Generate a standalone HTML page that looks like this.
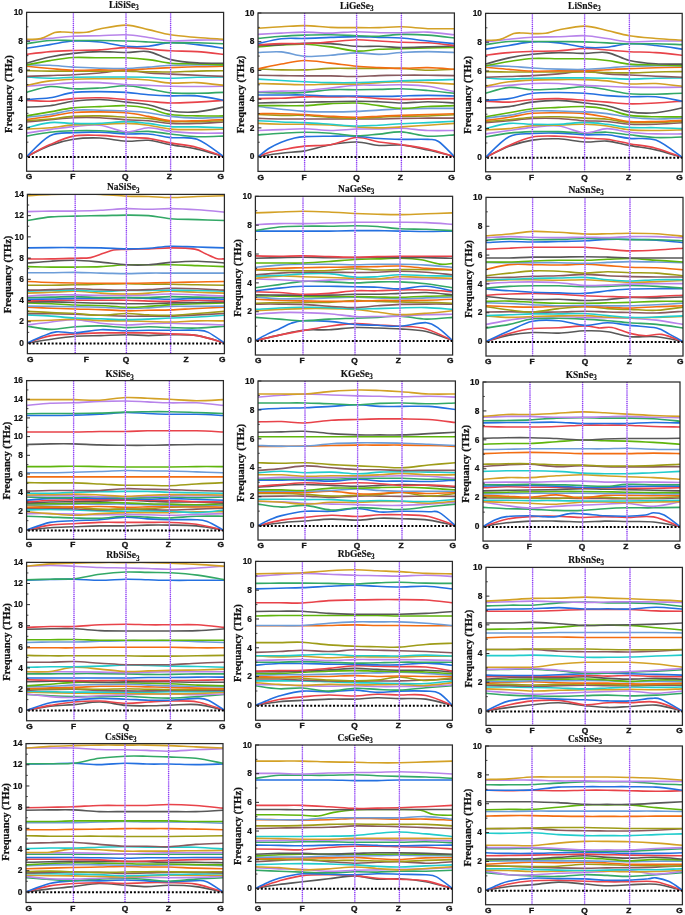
<!DOCTYPE html>
<html><head><meta charset="utf-8"><style>
html,body{margin:0;padding:0;background:#fff;}
svg{display:block;filter:blur(0.3px);}
.tk{font-family:"Liberation Sans",sans-serif;font-weight:bold;font-size:8.4px;fill:#111;stroke:#111;stroke-width:0.2px;}
.kl{font-family:"Liberation Sans",sans-serif;font-weight:bold;font-size:7.6px;fill:#111;stroke:#111;stroke-width:0.35px;}
.tt{font-family:"Liberation Serif",serif;font-weight:bold;font-size:9.5px;fill:#111;stroke:#111;stroke-width:0.15px;}
.yl{font-family:"Liberation Serif",serif;font-weight:bold;font-size:10.5px;fill:#111;stroke:#111;stroke-width:0.25px;}
</style></head><body>
<svg width="685" height="915" viewBox="0 0 685 915">
<rect width="685" height="915" fill="#fff"/>
<clipPath id="c1"><rect x="26.6" y="12.4" width="197.0" height="158.84"/></clipPath>
<g clip-path="url(#c1)" fill="none" stroke-width="1.6" stroke-linejoin="round" stroke-linecap="round">
<path d="M26.6 156.6C30.5 154.7 42.2 148.4 50.0 145.5C57.8 142.6 65.1 140.5 73.4 139.3C81.7 138.0 90.9 137.7 99.7 138.0C108.5 138.3 117.9 140.8 126.0 141.2C134.1 141.6 140.9 139.7 148.3 140.3C155.7 140.9 162.5 143.2 170.6 144.6C178.7 146.1 188.3 147.1 197.1 149.1C205.9 151.1 219.2 155.4 223.6 156.6" stroke="#585858"/>
<path d="M26.6 156.6C30.5 154.6 42.2 148.0 50.0 144.6C57.8 141.2 65.1 137.7 73.4 136.1C81.7 134.6 90.9 135.2 99.7 135.4C108.5 135.6 117.9 136.8 126.0 137.3C134.1 137.8 140.9 137.5 148.3 138.4C155.7 139.4 162.5 141.4 170.6 142.9C178.7 144.4 188.3 145.1 197.1 147.4C205.9 149.7 219.2 155.1 223.6 156.6" stroke="#e8434a"/>
<path d="M26.6 156.6C30.5 153.1 42.2 139.8 50.0 135.8C57.8 131.8 65.1 133.3 73.4 132.7C81.7 132.1 90.9 132.0 99.7 132.2C108.5 132.4 117.9 133.7 126.0 134.0C134.1 134.2 140.9 133.4 148.3 134.0C155.7 134.6 162.5 136.7 170.6 137.6C178.7 138.5 188.3 136.1 197.1 139.3C205.9 142.5 219.2 153.7 223.6 156.6" stroke="#2470e0"/>
<path d="M26.6 136.1C30.5 135.5 42.2 133.1 50.0 132.2C57.8 131.3 65.1 131.0 73.4 130.8C81.7 130.5 90.9 130.5 99.7 130.8C108.5 131.0 117.9 132.1 126.0 132.2C134.1 132.3 140.9 131.1 148.3 131.4C155.7 131.7 162.5 133.1 170.6 134.0C178.7 134.8 188.3 136.3 197.1 136.7C205.9 137.1 219.2 136.2 223.6 136.1" stroke="#33a866"/>
<path d="M26.6 133.1C30.5 132.5 42.2 130.7 50.0 129.6C57.8 128.6 65.1 127.4 73.4 126.6C81.7 125.9 90.9 124.3 99.7 125.2C108.5 126.1 117.9 131.5 126.0 131.9C134.1 132.4 140.9 127.9 148.3 127.8C155.7 127.7 162.5 130.5 170.6 131.4C178.7 132.3 188.3 132.8 197.1 133.1C205.9 133.4 219.2 133.1 223.6 133.1" stroke="#b884ea"/>
<path d="M26.6 129.1C30.5 128.8 42.2 128.5 50.0 127.8C57.8 127.1 65.1 125.5 73.4 124.9C81.7 124.3 90.9 124.5 99.7 124.3C108.5 124.1 117.9 123.3 126.0 123.4C134.1 123.6 140.9 124.2 148.3 125.2C155.7 126.1 162.5 128.3 170.6 129.1C178.7 129.8 188.3 129.6 197.1 129.6C205.9 129.6 219.2 129.2 223.6 129.1" stroke="#d3a126"/>
<path d="M26.6 127.8C30.5 126.9 42.2 123.3 50.0 122.6C57.8 121.8 65.1 123.3 73.4 123.4C81.7 123.6 90.9 123.7 99.7 123.4C108.5 123.1 117.9 121.6 126.0 121.6C134.1 121.6 140.9 122.6 148.3 123.4C155.7 124.3 162.5 126.0 170.6 126.6C178.7 127.2 188.3 126.7 197.1 126.9C205.9 127.1 219.2 127.6 223.6 127.8" stroke="#22cccc"/>
<path d="M26.6 122.0C30.5 121.6 42.2 120.6 50.0 119.8C57.8 119.1 65.1 118.0 73.4 117.7C81.7 117.3 90.9 117.3 99.7 117.7C108.5 118.0 117.9 119.3 126.0 119.8C134.1 120.3 140.9 120.1 148.3 120.7C155.7 121.3 162.5 123.0 170.6 123.4C178.7 123.9 188.3 123.7 197.1 123.4C205.9 123.2 219.2 122.2 223.6 122.0" stroke="#885a5e"/>
<path d="M26.6 120.7C30.5 120.4 42.2 119.7 50.0 119.0C57.8 118.2 65.1 116.9 73.4 116.4C81.7 115.9 90.9 115.8 99.7 115.9C108.5 116.1 117.9 116.8 126.0 117.2C134.1 117.6 140.9 117.7 148.3 118.4C155.7 119.1 162.5 121.0 170.6 121.6C178.7 122.1 188.3 121.7 197.1 121.6C205.9 121.4 219.2 120.8 223.6 120.7" stroke="#9e9c18"/>
<path d="M26.6 119.5C30.5 119.0 42.2 117.5 50.0 116.4C57.8 115.2 65.1 113.2 73.4 112.5C81.7 111.7 90.9 111.8 99.7 111.9C108.5 111.9 117.9 112.0 126.0 112.8C134.1 113.5 140.9 115.0 148.3 116.4C155.7 117.7 162.5 120.0 170.6 120.7C178.7 121.4 188.3 120.9 197.1 120.7C205.9 120.5 219.2 119.7 223.6 119.5" stroke="#f26d12"/>
<path d="M26.6 117.2C30.5 116.8 42.2 115.7 50.0 114.5C57.8 113.3 65.1 110.9 73.4 110.2C81.7 109.4 90.9 110.0 99.7 110.2C108.5 110.3 117.9 110.6 126.0 111.0C134.1 111.5 140.9 111.9 148.3 112.8C155.7 113.7 162.5 115.5 170.6 116.4C178.7 117.3 188.3 118.0 197.1 118.1C205.9 118.2 219.2 117.4 223.6 117.2" stroke="#6d9dd8"/>
<path d="M26.6 115.9C30.5 115.3 42.2 113.2 50.0 111.9C57.8 110.6 65.1 108.7 73.4 107.9C81.7 107.0 90.9 106.9 99.7 106.6C108.5 106.2 117.9 105.4 126.0 105.7C134.1 106.0 140.9 106.8 148.3 108.3C155.7 109.8 162.5 113.2 170.6 114.5C178.7 115.8 188.3 115.7 197.1 115.9C205.9 116.2 219.2 115.9 223.6 115.9" stroke="#5fb50c"/>
<path d="M26.6 107.1C30.5 106.9 42.2 106.7 50.0 105.7C57.8 104.7 65.1 102.3 73.4 101.2C81.7 100.2 90.9 99.4 99.7 99.5C108.5 99.6 117.9 101.2 126.0 102.1C134.1 103.0 140.9 103.3 148.3 104.8C155.7 106.3 162.5 109.9 170.6 111.0C178.7 112.2 188.3 112.5 197.1 111.9C205.9 111.2 219.2 107.9 223.6 107.1" stroke="#585858"/>
<path d="M26.6 100.4C30.5 100.5 42.2 101.5 50.0 101.2C57.8 100.9 65.1 99.2 73.4 98.6C81.7 98.1 90.9 97.6 99.7 97.8C108.5 97.9 117.9 98.9 126.0 99.5C134.1 100.1 140.9 100.7 148.3 101.2C155.7 101.8 162.5 102.8 170.6 103.0C178.7 103.1 188.3 102.5 197.1 102.1C205.9 101.7 219.2 100.7 223.6 100.4" stroke="#e8434a"/>
<path d="M26.6 99.5C30.5 99.2 42.2 98.9 50.0 97.8C57.8 96.6 65.1 93.5 73.4 92.4C81.7 91.4 90.9 91.6 99.7 91.6C108.5 91.6 117.9 91.9 126.0 92.4C134.1 93.0 140.9 94.2 148.3 94.7C155.7 95.3 162.5 95.7 170.6 95.9C178.7 96.1 188.3 95.1 197.1 95.9C205.9 96.6 219.2 99.6 223.6 100.4" stroke="#2470e0"/>
<path d="M26.6 92.4C30.5 91.4 42.2 87.1 50.0 86.5C57.8 85.9 65.1 88.6 73.4 88.8C81.7 89.1 90.9 88.5 99.7 88.0C108.5 87.5 117.9 85.7 126.0 85.8C134.1 85.9 140.9 87.6 148.3 88.8C155.7 90.0 162.5 92.1 170.6 92.9C178.7 93.6 188.3 93.4 197.1 93.3C205.9 93.2 219.2 92.6 223.6 92.4" stroke="#33a866"/>
<path d="M26.6 86.2C30.5 85.9 42.2 85.1 50.0 84.5C57.8 83.9 65.1 82.9 73.4 82.6C81.7 82.3 90.9 82.3 99.7 82.6C108.5 82.9 117.9 84.0 126.0 84.5C134.1 85.0 140.9 85.1 148.3 85.4C155.7 85.7 162.5 86.0 170.6 86.2C178.7 86.4 188.3 86.5 197.1 86.5C205.9 86.5 219.2 86.3 223.6 86.2" stroke="#b884ea"/>
<path d="M26.6 85.4C30.5 84.6 42.2 81.9 50.0 80.9C57.8 79.9 65.1 79.5 73.4 79.2C81.7 78.8 90.9 78.8 99.7 78.7C108.5 78.7 117.9 78.5 126.0 78.7C134.1 78.9 140.9 79.3 148.3 80.0C155.7 80.8 162.5 82.6 170.6 83.1C178.7 83.5 188.3 82.2 197.1 82.6C205.9 83.0 219.2 84.9 223.6 85.4" stroke="#d3a126"/>
<path d="M26.6 77.0C30.5 77.2 42.2 78.1 50.0 78.2C57.8 78.2 65.1 77.5 73.4 77.3C81.7 77.1 90.9 77.0 99.7 77.0C108.5 77.0 117.9 77.0 126.0 77.0C134.1 77.0 140.9 77.1 148.3 77.3C155.7 77.5 162.5 78.2 170.6 78.2C178.7 78.2 188.3 77.5 197.1 77.3C205.9 77.1 219.2 77.0 223.6 77.0" stroke="#22cccc"/>
<path d="M26.6 76.4C30.5 76.3 42.2 75.8 50.0 75.6C57.8 75.3 65.1 75.1 73.4 74.7C81.7 74.3 90.9 73.7 99.7 73.0C108.5 72.2 117.9 70.2 126.0 70.2C134.1 70.2 140.9 72.3 148.3 73.0C155.7 73.6 162.5 73.7 170.6 74.1C178.7 74.5 188.3 74.9 197.1 75.3C205.9 75.7 219.2 76.2 223.6 76.4" stroke="#885a5e"/>
<path d="M26.6 70.7C30.5 70.7 42.2 71.0 50.0 71.1C57.8 71.2 65.1 71.1 73.4 71.1C81.7 71.1 90.9 71.1 99.7 71.1C108.5 71.1 117.9 71.0 126.0 71.1C134.1 71.2 140.9 71.5 148.3 71.7C155.7 71.8 162.5 72.1 170.6 72.0C178.7 71.9 188.3 71.3 197.1 71.1C205.9 70.9 219.2 70.7 223.6 70.7" stroke="#9e9c18"/>
<path d="M26.6 66.3C30.5 66.7 42.2 67.8 50.0 68.5C57.8 69.1 65.1 70.0 73.4 70.2C81.7 70.5 90.9 70.0 99.7 69.9C108.5 69.9 117.9 70.1 126.0 69.9C134.1 69.7 140.9 69.2 148.3 68.8C155.7 68.4 162.5 68.0 170.6 67.6C178.7 67.3 188.3 67.0 197.1 66.8C205.9 66.5 219.2 66.4 223.6 66.3" stroke="#f26d12"/>
<path d="M26.6 64.9C30.5 65.0 42.2 65.0 50.0 65.3C57.8 65.7 65.1 66.6 73.4 67.1C81.7 67.5 90.9 68.0 99.7 68.2C108.5 68.4 117.9 68.7 126.0 68.5C134.1 68.3 140.9 67.6 148.3 67.1C155.7 66.5 162.5 65.7 170.6 65.3C178.7 65.0 188.3 65.0 197.1 64.9C205.9 64.8 219.2 64.9 223.6 64.9" stroke="#6d9dd8"/>
<path d="M26.6 64.9C30.5 64.2 42.2 61.8 50.0 60.6C57.8 59.3 65.1 58.0 73.4 57.5C81.7 57.1 90.9 57.8 99.7 57.8C108.5 57.9 117.9 57.5 126.0 57.8C134.1 58.1 140.9 58.7 148.3 59.6C155.7 60.4 162.5 62.4 170.6 63.2C178.7 63.9 188.3 63.7 197.1 64.0C205.9 64.3 219.2 64.7 223.6 64.9" stroke="#5fb50c"/>
<path d="M26.6 63.2C30.5 62.1 42.2 58.6 50.0 57.0C57.8 55.3 65.1 54.2 73.4 53.4C81.7 52.5 90.9 51.8 99.7 51.6C108.5 51.5 117.9 52.5 126.0 52.5C134.1 52.5 140.9 50.4 148.3 51.6C155.7 52.8 162.5 57.7 170.6 59.6C178.7 61.4 188.3 62.3 197.1 62.9C205.9 63.5 219.2 63.1 223.6 63.2" stroke="#585858"/>
<path d="M26.6 54.4C30.5 53.9 42.2 52.3 50.0 51.6C57.8 51.0 65.1 50.8 73.4 50.5C81.7 50.2 90.9 50.4 99.7 49.9C108.5 49.4 117.9 47.7 126.0 47.6C134.1 47.4 140.9 48.5 148.3 49.0C155.7 49.6 162.5 50.3 170.6 50.8C178.7 51.2 188.3 51.0 197.1 51.6C205.9 52.2 219.2 53.9 223.6 54.4" stroke="#e8434a"/>
<path d="M26.6 48.2C30.5 47.6 42.2 45.8 50.0 44.6C57.8 43.4 65.1 41.4 73.4 41.0C81.7 40.5 90.9 41.1 99.7 42.0C108.5 42.9 117.9 45.6 126.0 46.3C134.1 47.0 140.9 46.9 148.3 46.3C155.7 45.7 162.5 43.1 170.6 42.8C178.7 42.5 188.3 43.7 197.1 44.6C205.9 45.4 219.2 47.6 223.6 48.2" stroke="#2470e0"/>
<path d="M26.6 43.7C30.5 43.2 42.2 41.0 50.0 40.5C57.8 40.0 65.1 40.5 73.4 40.5C81.7 40.5 90.9 40.4 99.7 40.5C108.5 40.6 117.9 40.7 126.0 41.0C134.1 41.2 140.9 41.6 148.3 42.0C155.7 42.3 162.5 42.7 170.6 42.8C178.7 43.0 188.3 42.7 197.1 42.8C205.9 43.0 219.2 43.5 223.6 43.7" stroke="#33a866"/>
<path d="M26.6 41.0C30.5 40.5 42.2 39.1 50.0 38.4C57.8 37.6 65.1 36.6 73.4 36.2C81.7 35.8 90.9 36.0 99.7 35.8C108.5 35.5 117.9 34.5 126.0 34.8C134.1 35.0 140.9 36.5 148.3 37.5C155.7 38.5 162.5 40.5 170.6 41.0C178.7 41.4 188.3 40.2 197.1 40.1C205.9 39.9 219.2 40.1 223.6 40.1" stroke="#b884ea"/>
<path d="M26.6 39.2C28.9 39.1 36.0 39.7 40.6 38.6C45.3 37.5 50.8 33.7 54.7 32.6C58.6 31.5 60.9 32.0 64.0 32.0C67.2 32.0 69.6 32.5 73.4 32.6C77.2 32.6 82.2 32.9 86.6 32.3C90.9 31.7 93.1 30.2 99.7 29.0C106.3 27.8 117.9 25.0 126.0 25.1C134.1 25.2 140.9 27.9 148.3 29.6C155.7 31.2 162.5 33.4 170.6 34.8C178.7 36.1 188.3 36.7 197.1 37.5C205.9 38.2 219.2 38.9 223.6 39.2" stroke="#d3a126"/>
</g>
<line x1="73.4" y1="12.4" x2="73.4" y2="171.24" stroke="#dcc4fc" stroke-width="1.1"/>
<line x1="73.4" y1="12.4" x2="73.4" y2="171.24" stroke="#8d3cf4" stroke-width="1.35" stroke-dasharray="1.05 1.05"/>
<line x1="126.0" y1="12.4" x2="126.0" y2="171.24" stroke="#dcc4fc" stroke-width="1.1"/>
<line x1="126.0" y1="12.4" x2="126.0" y2="171.24" stroke="#8d3cf4" stroke-width="1.35" stroke-dasharray="1.05 1.05"/>
<line x1="170.6" y1="12.4" x2="170.6" y2="171.24" stroke="#dcc4fc" stroke-width="1.1"/>
<line x1="170.6" y1="12.4" x2="170.6" y2="171.24" stroke="#8d3cf4" stroke-width="1.35" stroke-dasharray="1.05 1.05"/>
<line x1="28.05" y1="157.0" x2="223.6" y2="157.0" stroke="#000" stroke-width="2" stroke-dasharray="2 1.8"/>
<rect x="26.6" y="12.4" width="197.0" height="158.84" fill="none" stroke="#2a2a2a" stroke-width="1.25"/>
<line x1="26.6" y1="156.60" x2="30.0" y2="156.60" stroke="#2a2a2a" stroke-width="1"/>
<text x="23.0" y="159.30" text-anchor="end" class="tk">0</text>
<line x1="26.6" y1="142.18" x2="28.400000000000002" y2="142.18" stroke="#2a2a2a" stroke-width="0.9"/>
<line x1="26.6" y1="127.76" x2="30.0" y2="127.76" stroke="#2a2a2a" stroke-width="1"/>
<text x="23.0" y="130.46" text-anchor="end" class="tk">2</text>
<line x1="26.6" y1="113.34" x2="28.400000000000002" y2="113.34" stroke="#2a2a2a" stroke-width="0.9"/>
<line x1="26.6" y1="98.92" x2="30.0" y2="98.92" stroke="#2a2a2a" stroke-width="1"/>
<text x="23.0" y="101.62" text-anchor="end" class="tk">4</text>
<line x1="26.6" y1="84.50" x2="28.400000000000002" y2="84.50" stroke="#2a2a2a" stroke-width="0.9"/>
<line x1="26.6" y1="70.08" x2="30.0" y2="70.08" stroke="#2a2a2a" stroke-width="1"/>
<text x="23.0" y="72.78" text-anchor="end" class="tk">6</text>
<line x1="26.6" y1="55.66" x2="28.400000000000002" y2="55.66" stroke="#2a2a2a" stroke-width="0.9"/>
<line x1="26.6" y1="41.24" x2="30.0" y2="41.24" stroke="#2a2a2a" stroke-width="1"/>
<text x="23.0" y="43.94" text-anchor="end" class="tk">8</text>
<line x1="26.6" y1="26.82" x2="28.400000000000002" y2="26.82" stroke="#2a2a2a" stroke-width="0.9"/>
<line x1="26.6" y1="12.40" x2="30.0" y2="12.40" stroke="#2a2a2a" stroke-width="1"/>
<text x="23.0" y="15.10" text-anchor="end" class="tk">10</text>
<text transform="translate(29.1,179.34) scale(1.1,1)" text-anchor="middle" class="kl">G</text>
<text transform="translate(72.7,179.34) scale(1.1,1)" text-anchor="middle" class="kl">F</text>
<text transform="translate(125.2,179.34) scale(1.1,1)" text-anchor="middle" class="kl">Q</text>
<text transform="translate(169.3,179.34) scale(1.1,1)" text-anchor="middle" class="kl">Z</text>
<text transform="translate(220.7,179.34) scale(1.1,1)" text-anchor="middle" class="kl">G</text>
<text x="123.9" y="7.9" text-anchor="middle" class="tt">LiSiSe<tspan font-size="7.2" dy="2.3">3</tspan></text>
<text transform="translate(12.3,94.1) rotate(-90)" text-anchor="middle" class="yl">Frequancy (THz)</text>
<clipPath id="c2"><rect x="258.0" y="13.0" width="196.39999999999998" height="158.4"/></clipPath>
<g clip-path="url(#c2)" fill="none" stroke-width="1.6" stroke-linejoin="round" stroke-linecap="round">
<path d="M258.0 156.6C261.9 156.0 273.5 154.1 281.3 153.2C289.1 152.2 296.4 152.3 304.6 150.9C312.8 149.4 321.9 146.2 330.6 144.7C339.3 143.2 348.5 141.8 356.6 142.0C364.7 142.1 371.5 145.0 379.0 145.5C386.5 146.0 393.2 144.2 401.4 145.0C409.5 145.7 419.1 148.1 427.9 150.0C436.7 151.9 450.0 155.5 454.4 156.6" stroke="#585858"/>
<path d="M258.0 156.6C259.9 155.9 265.8 153.4 269.6 152.3C273.5 151.2 275.5 151.0 281.3 150.0C287.1 149.0 296.4 147.0 304.6 146.1C312.8 145.2 321.9 146.1 330.6 144.7C339.3 143.2 348.5 138.0 356.6 137.5C364.7 137.0 371.5 140.8 379.0 142.0C386.5 143.1 393.2 143.5 401.4 144.7C409.5 145.9 419.1 147.1 427.9 149.1C436.7 151.1 450.0 155.4 454.4 156.6" stroke="#e8434a"/>
<path d="M258.0 156.6C259.9 155.2 265.8 150.4 269.6 148.0C273.5 145.6 277.4 143.8 281.3 142.2C285.2 140.7 289.1 139.4 293.0 138.5C296.8 137.6 298.3 137.0 304.6 136.6C310.9 136.3 321.9 136.3 330.6 136.2C339.3 136.1 348.5 135.8 356.6 136.2C364.7 136.6 371.5 138.0 379.0 138.5C386.5 139.0 393.2 139.2 401.4 139.4C409.5 139.5 421.7 139.0 427.9 139.4C434.1 139.7 434.1 138.6 438.5 141.5C442.9 144.4 451.8 154.1 454.4 156.6" stroke="#2470e0"/>
<path d="M258.0 134.9C261.9 134.6 273.5 133.6 281.3 133.2C289.1 132.8 296.4 132.3 304.6 132.3C312.8 132.3 321.9 132.6 330.6 133.2C339.3 133.8 348.5 135.6 356.6 135.8C364.7 135.9 371.5 134.7 379.0 134.1C386.5 133.4 393.2 131.5 401.4 131.9C409.5 132.3 419.1 135.7 427.9 136.2C436.7 136.7 450.0 135.1 454.4 134.9" stroke="#33a866"/>
<path d="M258.0 130.5C261.9 130.3 273.5 129.9 281.3 129.6C289.1 129.3 296.4 128.6 304.6 128.7C312.8 128.9 321.9 130.4 330.6 130.5C339.3 130.5 348.5 129.3 356.6 129.0C364.7 128.8 371.5 129.1 379.0 129.0C386.5 128.9 393.2 128.1 401.4 128.3C409.5 128.6 419.1 130.1 427.9 130.5C436.7 130.8 450.0 130.5 454.4 130.5" stroke="#b884ea"/>
<path d="M258.0 123.4C261.9 123.6 273.5 124.1 281.3 124.3C289.1 124.4 296.4 124.2 304.6 124.3C312.8 124.4 321.9 124.4 330.6 124.9C339.3 125.3 348.5 126.4 356.6 126.9C364.7 127.4 371.5 127.9 379.0 127.9C386.5 127.9 393.2 127.3 401.4 126.9C409.5 126.4 419.1 125.7 427.9 125.2C436.7 124.6 450.0 123.7 454.4 123.4" stroke="#d3a126"/>
<path d="M258.0 120.7C261.9 120.9 273.5 121.7 281.3 122.0C289.1 122.3 296.4 122.2 304.6 122.6C312.8 122.9 321.9 123.7 330.6 124.3C339.3 124.9 348.5 125.9 356.6 126.0C364.7 126.2 371.5 125.5 379.0 125.2C386.5 124.8 393.2 124.1 401.4 123.7C409.5 123.3 419.1 123.0 427.9 122.6C436.7 122.2 450.0 121.5 454.4 121.3" stroke="#22cccc"/>
<path d="M258.0 118.4C261.9 118.5 273.5 118.9 281.3 119.0C289.1 119.1 296.4 119.0 304.6 119.0C312.8 119.0 321.9 119.0 330.6 119.0C339.3 119.0 348.5 119.0 356.6 119.0C364.7 119.0 371.5 119.1 379.0 119.0C386.5 118.9 393.2 118.5 401.4 118.4C409.5 118.3 419.1 118.2 427.9 118.1C436.7 118.1 450.0 118.1 454.4 118.1" stroke="#885a5e"/>
<path d="M258.0 114.5C261.9 114.7 273.5 115.2 281.3 115.4C289.1 115.5 296.4 115.1 304.6 115.4C312.8 115.7 321.9 116.8 330.6 117.3C339.3 117.8 348.5 118.4 356.6 118.4C364.7 118.4 371.5 117.6 379.0 117.3C386.5 116.9 393.2 116.5 401.4 116.2C409.5 116.0 419.1 116.2 427.9 116.0C436.7 115.7 450.0 115.0 454.4 114.8" stroke="#9e9c18"/>
<path d="M258.0 113.7C261.9 113.7 273.5 113.5 281.3 113.7C289.1 113.8 296.4 114.1 304.6 114.5C312.8 115.0 321.9 115.8 330.6 116.2C339.3 116.7 348.5 117.3 356.6 117.3C364.7 117.3 371.5 116.6 379.0 116.2C386.5 115.9 393.2 115.7 401.4 115.4C409.5 115.1 419.1 114.8 427.9 114.5C436.7 114.2 450.0 113.8 454.4 113.7" stroke="#f26d12"/>
<path d="M258.0 106.5C261.9 106.9 273.5 108.4 281.3 109.2C289.1 110.0 296.4 110.9 304.6 111.4C312.8 111.8 321.9 111.9 330.6 111.9C339.3 111.9 348.5 111.7 356.6 111.4C364.7 111.1 371.5 110.5 379.0 110.1C386.5 109.7 393.2 109.2 401.4 108.9C409.5 108.6 419.1 108.4 427.9 108.4C436.7 108.3 450.0 108.4 454.4 108.4" stroke="#6d9dd8"/>
<path d="M258.0 105.6C261.9 105.6 273.5 105.6 281.3 105.6C289.1 105.6 296.4 106.0 304.6 105.6C312.8 105.3 321.9 104.0 330.6 103.6C339.3 103.2 348.5 102.7 356.6 103.0C364.7 103.4 371.5 104.7 379.0 105.6C386.5 106.5 393.2 108.2 401.4 108.4C409.5 108.5 419.1 106.9 427.9 106.5C436.7 106.0 450.0 105.8 454.4 105.6" stroke="#5fb50c"/>
<path d="M258.0 103.0C261.9 102.9 273.5 102.6 281.3 102.5C289.1 102.3 296.4 102.3 304.6 102.2C312.8 102.1 321.9 101.9 330.6 101.7C339.3 101.6 348.5 101.3 356.6 101.3C364.7 101.3 371.5 101.5 379.0 101.7C386.5 102.0 393.2 103.0 401.4 103.0C409.5 103.0 419.1 101.7 427.9 101.7C436.7 101.7 450.0 102.8 454.4 103.0" stroke="#585858"/>
<path d="M258.0 98.6C261.9 98.5 273.5 98.4 281.3 98.2C289.1 97.9 296.4 97.1 304.6 96.9C312.8 96.6 321.9 96.9 330.6 96.9C339.3 96.9 348.5 96.6 356.6 96.9C364.7 97.1 371.5 98.2 379.0 98.6C386.5 99.0 393.2 99.4 401.4 99.4C409.5 99.5 419.1 99.0 427.9 98.9C436.7 98.7 450.0 98.6 454.4 98.6" stroke="#e8434a"/>
<path d="M258.0 95.0C261.9 95.0 273.5 95.0 281.3 95.0C289.1 95.0 296.4 94.8 304.6 95.0C312.8 95.2 321.9 95.8 330.6 96.0C339.3 96.2 348.5 95.9 356.6 96.0C364.7 96.1 371.5 96.4 379.0 96.4C386.5 96.4 393.2 96.2 401.4 96.0C409.5 95.8 419.1 95.4 427.9 95.4C436.7 95.4 450.0 95.9 454.4 96.0" stroke="#2470e0"/>
<path d="M258.0 92.4C261.9 92.5 273.5 93.0 281.3 93.0C289.1 93.0 296.4 93.0 304.6 92.4C312.8 91.9 321.9 90.1 330.6 89.7C339.3 89.2 348.5 89.7 356.6 89.7C364.7 89.6 371.5 89.5 379.0 89.4C386.5 89.3 393.2 88.6 401.4 88.8C409.5 89.0 419.1 89.8 427.9 90.5C436.7 91.3 450.0 92.8 454.4 93.3" stroke="#33a866"/>
<path d="M258.0 91.8C261.9 91.7 273.5 91.3 281.3 91.1C289.1 90.9 296.4 91.1 304.6 90.5C312.8 90.0 321.9 88.8 330.6 88.0C339.3 87.1 348.5 85.7 356.6 85.2C364.7 84.8 371.5 85.3 379.0 85.2C386.5 85.2 393.2 84.6 401.4 84.8C409.5 85.0 419.1 85.1 427.9 86.2C436.7 87.4 450.0 90.9 454.4 91.8" stroke="#b884ea"/>
<path d="M258.0 83.5C261.9 83.6 273.5 83.9 281.3 84.1C289.1 84.3 296.4 84.8 304.6 84.8C312.8 84.8 321.9 84.2 330.6 84.1C339.3 84.0 348.5 84.3 356.6 84.1C364.7 83.8 371.5 83.0 379.0 82.6C386.5 82.3 393.2 81.8 401.4 81.8C409.5 81.8 419.1 82.3 427.9 82.6C436.7 83.0 450.0 83.8 454.4 84.1" stroke="#d3a126"/>
<path d="M258.0 79.1C261.9 79.3 273.5 80.0 281.3 80.5C289.1 80.9 296.4 81.4 304.6 81.8C312.8 82.1 321.9 82.5 330.6 82.6C339.3 82.8 348.5 82.8 356.6 82.6C364.7 82.5 371.5 82.1 379.0 81.8C386.5 81.5 393.2 81.2 401.4 80.9C409.5 80.6 419.1 80.3 427.9 80.1C436.7 79.8 450.0 79.6 454.4 79.5" stroke="#22cccc"/>
<path d="M258.0 75.2C261.9 75.3 273.5 75.5 281.3 75.6C289.1 75.7 296.4 75.8 304.6 75.9C312.8 75.9 321.9 75.8 330.6 75.9C339.3 76.0 348.5 76.5 356.6 76.5C364.7 76.4 371.5 75.8 379.0 75.6C386.5 75.4 393.2 75.3 401.4 75.2C409.5 75.1 419.1 75.1 427.9 75.2C436.7 75.3 450.0 75.5 454.4 75.6" stroke="#885a5e"/>
<path d="M258.0 68.9C261.9 69.0 273.5 69.7 281.3 69.9C289.1 70.0 296.4 70.1 304.6 69.9C312.8 69.6 321.9 68.7 330.6 68.4C339.3 68.2 348.5 68.4 356.6 68.4C364.7 68.4 371.5 68.4 379.0 68.4C386.5 68.4 393.2 68.1 401.4 68.4C409.5 68.7 419.1 70.2 427.9 70.3C436.7 70.4 450.0 69.5 454.4 69.3" stroke="#9e9c18"/>
<path d="M258.0 68.9C261.9 68.0 273.5 65.4 281.3 64.0C289.1 62.6 296.4 60.7 304.6 60.5C312.8 60.4 321.9 62.2 330.6 63.1C339.3 64.1 348.5 65.5 356.6 66.3C364.7 67.0 371.5 67.2 379.0 67.6C386.5 67.9 393.2 68.4 401.4 68.4C409.5 68.4 419.1 67.4 427.9 67.6C436.7 67.7 450.0 69.0 454.4 69.3" stroke="#f26d12"/>
<path d="M258.0 52.5C261.9 52.4 273.5 51.3 281.3 51.9C289.1 52.6 296.4 55.8 304.6 56.4C312.8 56.9 321.9 55.8 330.6 55.2C339.3 54.6 348.5 53.1 356.6 52.9C364.7 52.8 371.5 54.4 379.0 54.4C386.5 54.3 393.2 52.9 401.4 52.5C409.5 52.0 419.1 51.6 427.9 51.6C436.7 51.6 450.0 52.3 454.4 52.5" stroke="#6d9dd8"/>
<path d="M258.0 46.9C261.9 46.6 273.5 45.5 281.3 45.0C289.1 44.6 296.4 43.9 304.6 44.2C312.8 44.5 321.9 45.7 330.6 46.9C339.3 48.0 348.5 50.6 356.6 51.1C364.7 51.5 371.5 49.7 379.0 49.3C386.5 48.9 393.2 48.8 401.4 48.6C409.5 48.4 419.1 48.2 427.9 48.0C436.7 47.8 450.0 47.6 454.4 47.5" stroke="#5fb50c"/>
<path d="M258.0 45.5C261.9 45.3 273.5 45.0 281.3 44.6C289.1 44.2 296.4 43.5 304.6 43.3C312.8 43.1 321.9 43.1 330.6 43.6C339.3 44.1 348.5 45.9 356.6 46.3C364.7 46.8 371.5 46.1 379.0 46.3C386.5 46.5 393.2 47.4 401.4 47.5C409.5 47.6 419.1 47.1 427.9 46.9C436.7 46.7 450.0 46.2 454.4 46.0" stroke="#585858"/>
<path d="M258.0 45.0C261.9 44.8 273.5 43.8 281.3 43.6C289.1 43.3 296.4 43.9 304.6 43.6C312.8 43.3 321.9 42.5 330.6 41.9C339.3 41.2 348.5 39.9 356.6 39.7C364.7 39.6 371.5 40.6 379.0 41.0C386.5 41.4 393.2 42.0 401.4 42.3C409.5 42.6 419.1 42.2 427.9 42.7C436.7 43.3 450.0 45.0 454.4 45.5" stroke="#e8434a"/>
<path d="M258.0 43.6C261.9 42.8 273.5 39.6 281.3 38.7C289.1 37.8 296.4 38.6 304.6 38.4C312.8 38.2 321.9 37.7 330.6 37.4C339.3 37.1 348.5 36.6 356.6 36.6C364.7 36.6 371.5 37.2 379.0 37.4C386.5 37.7 393.2 37.4 401.4 38.0C409.5 38.6 419.1 40.1 427.9 41.0C436.7 41.9 450.0 43.2 454.4 43.6" stroke="#2470e0"/>
<path d="M258.0 38.4C261.9 38.1 273.5 36.8 281.3 36.3C289.1 35.7 296.4 35.4 304.6 35.1C312.8 34.9 321.9 34.7 330.6 34.8C339.3 34.9 348.5 35.4 356.6 35.7C364.7 35.9 371.5 36.5 379.0 36.3C386.5 36.0 393.2 34.6 401.4 34.4C409.5 34.2 419.1 34.5 427.9 35.1C436.7 35.7 450.0 37.5 454.4 38.0" stroke="#33a866"/>
<path d="M258.0 34.4C261.9 34.2 273.5 33.5 281.3 33.1C289.1 32.7 296.4 32.1 304.6 32.1C312.8 32.1 321.9 33.2 330.6 33.1C339.3 33.0 348.5 31.7 356.6 31.7C364.7 31.6 371.5 32.5 379.0 32.7C386.5 32.8 393.2 32.8 401.4 32.7C409.5 32.6 419.1 31.7 427.9 32.1C436.7 32.5 450.0 34.4 454.4 34.8" stroke="#b884ea"/>
<path d="M258.0 28.2C261.9 28.0 273.5 27.2 281.3 26.8C289.1 26.4 296.4 25.5 304.6 25.6C312.8 25.7 321.9 27.0 330.6 27.4C339.3 27.7 348.5 27.6 356.6 27.6C364.7 27.7 371.5 27.8 379.0 27.6C386.5 27.5 393.2 26.6 401.4 26.8C409.5 27.0 419.1 28.3 427.9 28.7C436.7 29.0 450.0 28.7 454.4 28.7" stroke="#d3a126"/>
</g>
<line x1="304.6" y1="13.0" x2="304.6" y2="171.4" stroke="#dcc4fc" stroke-width="1.1"/>
<line x1="304.6" y1="13.0" x2="304.6" y2="171.4" stroke="#8d3cf4" stroke-width="1.35" stroke-dasharray="1.05 1.05"/>
<line x1="356.6" y1="13.0" x2="356.6" y2="171.4" stroke="#dcc4fc" stroke-width="1.1"/>
<line x1="356.6" y1="13.0" x2="356.6" y2="171.4" stroke="#8d3cf4" stroke-width="1.35" stroke-dasharray="1.05 1.05"/>
<line x1="401.4" y1="13.0" x2="401.4" y2="171.4" stroke="#dcc4fc" stroke-width="1.1"/>
<line x1="401.4" y1="13.0" x2="401.4" y2="171.4" stroke="#8d3cf4" stroke-width="1.35" stroke-dasharray="1.05 1.05"/>
<line x1="259.45" y1="157.0" x2="454.4" y2="157.0" stroke="#000" stroke-width="2" stroke-dasharray="2 1.8"/>
<rect x="258.0" y="13.0" width="196.39999999999998" height="158.4" fill="none" stroke="#2a2a2a" stroke-width="1.25"/>
<line x1="258.0" y1="156.60" x2="261.4" y2="156.60" stroke="#2a2a2a" stroke-width="1"/>
<text x="254.4" y="159.30" text-anchor="end" class="tk">0</text>
<line x1="258.0" y1="142.24" x2="259.8" y2="142.24" stroke="#2a2a2a" stroke-width="0.9"/>
<line x1="258.0" y1="127.88" x2="261.4" y2="127.88" stroke="#2a2a2a" stroke-width="1"/>
<text x="254.4" y="130.58" text-anchor="end" class="tk">2</text>
<line x1="258.0" y1="113.52" x2="259.8" y2="113.52" stroke="#2a2a2a" stroke-width="0.9"/>
<line x1="258.0" y1="99.16" x2="261.4" y2="99.16" stroke="#2a2a2a" stroke-width="1"/>
<text x="254.4" y="101.86" text-anchor="end" class="tk">4</text>
<line x1="258.0" y1="84.80" x2="259.8" y2="84.80" stroke="#2a2a2a" stroke-width="0.9"/>
<line x1="258.0" y1="70.44" x2="261.4" y2="70.44" stroke="#2a2a2a" stroke-width="1"/>
<text x="254.4" y="73.14" text-anchor="end" class="tk">6</text>
<line x1="258.0" y1="56.08" x2="259.8" y2="56.08" stroke="#2a2a2a" stroke-width="0.9"/>
<line x1="258.0" y1="41.72" x2="261.4" y2="41.72" stroke="#2a2a2a" stroke-width="1"/>
<text x="254.4" y="44.42" text-anchor="end" class="tk">8</text>
<line x1="258.0" y1="27.36" x2="259.8" y2="27.36" stroke="#2a2a2a" stroke-width="0.9"/>
<line x1="258.0" y1="13.00" x2="261.4" y2="13.00" stroke="#2a2a2a" stroke-width="1"/>
<text x="254.4" y="15.70" text-anchor="end" class="tk">10</text>
<text transform="translate(260.8,179.50) scale(1.1,1)" text-anchor="middle" class="kl">G</text>
<text transform="translate(304.1,179.50) scale(1.1,1)" text-anchor="middle" class="kl">F</text>
<text transform="translate(356.5,179.50) scale(1.1,1)" text-anchor="middle" class="kl">Q</text>
<text transform="translate(400.4,179.50) scale(1.1,1)" text-anchor="middle" class="kl">Z</text>
<text transform="translate(451.4,179.50) scale(1.1,1)" text-anchor="middle" class="kl">G</text>
<text x="356.8" y="9.1" text-anchor="middle" class="tt">LiGeSe<tspan font-size="7.2" dy="2.3">3</tspan></text>
<text transform="translate(243.7,94.5) rotate(-90)" text-anchor="middle" class="yl">Frequancy (THz)</text>
<clipPath id="c3"><rect x="485.6" y="13.4" width="196.60000000000002" height="158.4"/></clipPath>
<g clip-path="url(#c3)" fill="none" stroke-width="1.6" stroke-linejoin="round" stroke-linecap="round">
<path d="M485.6 157.4C489.5 155.6 501.2 149.2 509.0 146.3C516.8 143.4 524.1 141.4 532.4 140.1C540.6 138.9 549.8 138.5 558.5 138.8C567.2 139.1 576.5 141.6 584.6 142.0C592.7 142.4 599.5 140.6 607.0 141.1C614.5 141.7 621.3 144.0 629.4 145.4C637.5 146.9 647.0 147.9 655.8 149.9C664.6 151.9 677.8 156.2 682.2 157.4" stroke="#585858"/>
<path d="M485.6 157.4C489.5 155.4 501.2 148.9 509.0 145.4C516.8 142.0 524.1 138.5 532.4 137.0C540.6 135.4 549.8 136.0 558.5 136.2C567.2 136.4 576.5 137.6 584.6 138.1C592.7 138.6 599.5 138.3 607.0 139.3C614.5 140.2 621.3 142.2 629.4 143.7C637.5 145.2 647.0 145.9 655.8 148.2C664.6 150.5 677.8 155.9 682.2 157.4" stroke="#e8434a"/>
<path d="M485.6 157.4C489.5 153.9 501.2 140.6 509.0 136.7C516.8 132.7 524.1 134.1 532.4 133.5C540.6 132.9 549.8 132.8 558.5 133.1C567.2 133.3 576.5 134.5 584.6 134.8C592.7 135.1 599.5 134.2 607.0 134.8C614.5 135.4 621.3 137.5 629.4 138.4C637.5 139.3 647.0 137.0 655.8 140.1C664.6 143.3 677.8 154.5 682.2 157.4" stroke="#2470e0"/>
<path d="M485.6 137.0C489.5 136.3 501.2 134.0 509.0 133.1C516.8 132.2 524.1 131.9 532.4 131.6C540.6 131.4 549.8 131.4 558.5 131.6C567.2 131.9 576.5 133.0 584.6 133.1C592.7 133.2 599.5 131.9 607.0 132.2C614.5 132.5 621.3 133.9 629.4 134.8C637.5 135.7 647.0 137.2 655.8 137.5C664.6 137.9 677.8 137.0 682.2 137.0" stroke="#33a866"/>
<path d="M485.6 133.9C489.5 133.4 501.2 131.6 509.0 130.5C516.8 129.4 524.1 128.2 532.4 127.4C540.6 126.7 549.8 125.1 558.5 126.0C567.2 126.9 576.5 132.3 584.6 132.8C592.7 133.2 599.5 128.7 607.0 128.6C614.5 128.5 621.3 131.3 629.4 132.2C637.5 133.1 647.0 133.6 655.8 133.9C664.6 134.2 677.8 133.9 682.2 133.9" stroke="#b884ea"/>
<path d="M485.6 129.9C489.5 129.7 501.2 129.3 509.0 128.6C516.8 127.9 524.1 126.3 532.4 125.7C540.6 125.1 549.8 125.4 558.5 125.1C567.2 124.9 576.5 124.1 584.6 124.3C592.7 124.4 599.5 125.1 607.0 126.0C614.5 126.9 621.3 129.2 629.4 129.9C637.5 130.6 647.0 130.5 655.8 130.5C664.6 130.5 677.8 130.0 682.2 129.9" stroke="#d3a126"/>
<path d="M485.6 128.6C489.5 127.7 501.2 124.1 509.0 123.4C516.8 122.7 524.1 124.1 532.4 124.3C540.6 124.4 549.8 124.6 558.5 124.3C567.2 124.0 576.5 122.4 584.6 122.4C592.7 122.4 599.5 123.4 607.0 124.3C614.5 125.1 621.3 126.9 629.4 127.4C637.5 128.0 647.0 127.5 655.8 127.7C664.6 127.9 677.8 128.5 682.2 128.6" stroke="#22cccc"/>
<path d="M485.6 122.8C489.5 122.5 501.2 121.4 509.0 120.7C516.8 120.0 524.1 118.9 532.4 118.5C540.6 118.2 549.8 118.2 558.5 118.5C567.2 118.9 576.5 120.2 584.6 120.7C592.7 121.2 599.5 120.9 607.0 121.5C614.5 122.1 621.3 123.8 629.4 124.3C637.5 124.7 647.0 124.5 655.8 124.3C664.6 124.0 677.8 123.1 682.2 122.8" stroke="#885a5e"/>
<path d="M485.6 121.5C489.5 121.3 501.2 120.5 509.0 119.8C516.8 119.1 524.1 117.7 532.4 117.2C540.6 116.7 549.8 116.6 558.5 116.8C567.2 116.9 576.5 117.7 584.6 118.1C592.7 118.5 599.5 118.5 607.0 119.2C614.5 120.0 621.3 121.9 629.4 122.4C637.5 122.9 647.0 122.6 655.8 122.4C664.6 122.3 677.8 121.7 682.2 121.5" stroke="#9e9c18"/>
<path d="M485.6 120.4C489.5 119.9 501.2 118.4 509.0 117.2C516.8 116.0 524.1 114.1 532.4 113.3C540.6 112.6 549.8 112.7 558.5 112.8C567.2 112.8 576.5 112.9 584.6 113.6C592.7 114.4 599.5 115.9 607.0 117.2C614.5 118.5 621.3 120.8 629.4 121.5C637.5 122.3 647.0 121.7 655.8 121.5C664.6 121.4 677.8 120.6 682.2 120.4" stroke="#f26d12"/>
<path d="M485.6 118.1C489.5 117.6 501.2 116.5 509.0 115.4C516.8 114.2 524.1 111.8 532.4 111.0C540.6 110.3 549.8 110.9 558.5 111.0C567.2 111.2 576.5 111.5 584.6 111.9C592.7 112.3 599.5 112.7 607.0 113.6C614.5 114.5 621.3 116.3 629.4 117.2C637.5 118.1 647.0 118.8 655.8 119.0C664.6 119.1 677.8 118.2 682.2 118.1" stroke="#6d9dd8"/>
<path d="M485.6 116.8C489.5 116.1 501.2 114.1 509.0 112.8C516.8 111.4 524.1 109.6 532.4 108.7C540.6 107.8 549.8 107.8 558.5 107.4C567.2 107.1 576.5 106.3 584.6 106.6C592.7 106.9 599.5 107.7 607.0 109.2C614.5 110.6 621.3 114.1 629.4 115.4C637.5 116.6 647.0 116.6 655.8 116.8C664.6 117.0 677.8 116.8 682.2 116.8" stroke="#5fb50c"/>
<path d="M485.6 108.0C489.5 107.8 501.2 107.6 509.0 106.6C516.8 105.6 524.1 103.1 532.4 102.1C540.6 101.1 549.8 100.2 558.5 100.4C567.2 100.5 576.5 102.1 584.6 103.0C592.7 103.9 599.5 104.2 607.0 105.7C614.5 107.2 621.3 110.7 629.4 111.9C637.5 113.1 647.0 113.4 655.8 112.8C664.6 112.1 677.8 108.8 682.2 108.0" stroke="#585858"/>
<path d="M485.6 101.2C489.5 101.4 501.2 102.4 509.0 102.1C516.8 101.8 524.1 100.1 532.4 99.5C540.6 98.9 549.8 98.5 558.5 98.6C567.2 98.8 576.5 99.8 584.6 100.4C592.7 101.0 599.5 101.5 607.0 102.1C614.5 102.7 621.3 103.7 629.4 103.8C637.5 104.0 647.0 103.4 655.8 103.0C664.6 102.5 677.8 101.5 682.2 101.2" stroke="#e8434a"/>
<path d="M485.6 100.4C489.5 100.1 501.2 99.8 509.0 98.6C516.8 97.5 524.1 94.4 532.4 93.3C540.6 92.3 549.8 92.5 558.5 92.5C567.2 92.5 576.5 92.8 584.6 93.3C592.7 93.8 599.5 95.0 607.0 95.6C614.5 96.2 621.3 96.6 629.4 96.8C637.5 97.0 647.0 96.0 655.8 96.8C664.6 97.5 677.8 100.5 682.2 101.2" stroke="#2470e0"/>
<path d="M485.6 93.3C489.5 92.3 501.2 88.0 509.0 87.4C516.8 86.8 524.1 89.5 532.4 89.7C540.6 90.0 549.8 89.4 558.5 88.9C567.2 88.4 576.5 86.6 584.6 86.7C592.7 86.8 599.5 88.5 607.0 89.7C614.5 90.9 621.3 93.0 629.4 93.8C637.5 94.5 647.0 94.3 655.8 94.2C664.6 94.1 677.8 93.5 682.2 93.3" stroke="#33a866"/>
<path d="M485.6 87.1C489.5 86.8 501.2 86.0 509.0 85.4C516.8 84.8 524.1 83.8 532.4 83.5C540.6 83.2 549.8 83.2 558.5 83.5C567.2 83.8 576.5 84.9 584.6 85.4C592.7 85.9 599.5 86.0 607.0 86.3C614.5 86.6 621.3 86.9 629.4 87.1C637.5 87.3 647.0 87.4 655.8 87.4C664.6 87.4 677.8 87.2 682.2 87.1" stroke="#b884ea"/>
<path d="M485.6 86.3C489.5 85.5 501.2 82.8 509.0 81.8C516.8 80.8 524.1 80.4 532.4 80.1C540.6 79.7 549.8 79.7 558.5 79.6C567.2 79.6 576.5 79.4 584.6 79.6C592.7 79.9 599.5 80.2 607.0 80.9C614.5 81.7 621.3 83.5 629.4 84.0C637.5 84.4 647.0 83.1 655.8 83.5C664.6 83.9 677.8 85.8 682.2 86.3" stroke="#d3a126"/>
<path d="M485.6 77.9C489.5 78.1 501.2 79.0 509.0 79.1C516.8 79.1 524.1 78.4 532.4 78.2C540.6 78.0 549.8 78.0 558.5 77.9C567.2 77.9 576.5 77.9 584.6 77.9C592.7 78.0 599.5 78.0 607.0 78.2C614.5 78.4 621.3 79.1 629.4 79.1C637.5 79.1 647.0 78.4 655.8 78.2C664.6 78.0 677.8 78.0 682.2 77.9" stroke="#22cccc"/>
<path d="M485.6 77.3C489.5 77.2 501.2 76.8 509.0 76.5C516.8 76.2 524.1 76.0 532.4 75.6C540.6 75.2 549.8 74.6 558.5 73.9C567.2 73.1 576.5 71.1 584.6 71.1C592.7 71.1 599.5 73.2 607.0 73.9C614.5 74.5 621.3 74.6 629.4 75.0C637.5 75.4 647.0 75.8 655.8 76.2C664.6 76.6 677.8 77.1 682.2 77.3" stroke="#885a5e"/>
<path d="M485.6 71.6C489.5 71.6 501.2 71.9 509.0 72.0C516.8 72.1 524.1 72.0 532.4 72.0C540.6 72.0 549.8 72.0 558.5 72.0C567.2 72.0 576.5 71.9 584.6 72.0C592.7 72.1 599.5 72.4 607.0 72.6C614.5 72.7 621.3 73.0 629.4 72.9C637.5 72.8 647.0 72.2 655.8 72.0C664.6 71.8 677.8 71.6 682.2 71.6" stroke="#9e9c18"/>
<path d="M485.6 67.3C489.5 67.6 501.2 68.8 509.0 69.4C516.8 70.1 524.1 70.9 532.4 71.1C540.6 71.4 549.8 70.9 558.5 70.9C567.2 70.8 576.5 71.0 584.6 70.9C592.7 70.7 599.5 70.1 607.0 69.7C614.5 69.3 621.3 68.9 629.4 68.6C637.5 68.2 647.0 67.9 655.8 67.7C664.6 67.5 677.8 67.3 682.2 67.3" stroke="#f26d12"/>
<path d="M485.6 65.8C489.5 65.9 501.2 65.9 509.0 66.2C516.8 66.6 524.1 67.5 532.4 68.0C540.6 68.5 549.8 68.9 558.5 69.1C567.2 69.4 576.5 69.6 584.6 69.4C592.7 69.2 599.5 68.5 607.0 68.0C614.5 67.4 621.3 66.6 629.4 66.2C637.5 65.9 647.0 65.9 655.8 65.8C664.6 65.7 677.8 65.8 682.2 65.8" stroke="#6d9dd8"/>
<path d="M485.6 65.8C489.5 65.1 501.2 62.7 509.0 61.5C516.8 60.3 524.1 58.9 532.4 58.5C540.6 58.0 549.8 58.7 558.5 58.8C567.2 58.8 576.5 58.5 584.6 58.8C592.7 59.0 599.5 59.6 607.0 60.5C614.5 61.4 621.3 63.3 629.4 64.1C637.5 64.8 647.0 64.7 655.8 65.0C664.6 65.2 677.8 65.7 682.2 65.8" stroke="#5fb50c"/>
<path d="M485.6 64.1C489.5 63.1 501.2 59.5 509.0 57.9C516.8 56.3 524.1 55.2 532.4 54.3C540.6 53.4 549.8 52.7 558.5 52.6C567.2 52.4 576.5 53.4 584.6 53.4C592.7 53.4 599.5 51.4 607.0 52.6C614.5 53.7 621.3 58.6 629.4 60.5C637.5 62.4 647.0 63.2 655.8 63.8C664.6 64.4 677.8 64.0 682.2 64.1" stroke="#585858"/>
<path d="M485.6 55.3C489.5 54.8 501.2 53.2 509.0 52.6C516.8 51.9 524.1 51.7 532.4 51.4C540.6 51.1 549.8 51.3 558.5 50.8C567.2 50.4 576.5 48.7 584.6 48.5C592.7 48.4 599.5 49.4 607.0 50.0C614.5 50.5 621.3 51.3 629.4 51.7C637.5 52.1 647.0 52.0 655.8 52.6C664.6 53.2 677.8 54.8 682.2 55.3" stroke="#e8434a"/>
<path d="M485.6 49.1C489.5 48.5 501.2 46.7 509.0 45.5C516.8 44.3 524.1 42.3 532.4 41.9C540.6 41.5 549.8 42.0 558.5 42.9C567.2 43.8 576.5 46.5 584.6 47.2C592.7 48.0 599.5 47.8 607.0 47.2C614.5 46.7 621.3 44.1 629.4 43.8C637.5 43.5 647.0 44.6 655.8 45.5C664.6 46.4 677.8 48.5 682.2 49.1" stroke="#2470e0"/>
<path d="M485.6 44.6C489.5 44.1 501.2 42.0 509.0 41.5C516.8 41.0 524.1 41.5 532.4 41.5C540.6 41.5 549.8 41.4 558.5 41.5C567.2 41.6 576.5 41.7 584.6 41.9C592.7 42.2 599.5 42.6 607.0 42.9C614.5 43.2 621.3 43.6 629.4 43.8C637.5 43.9 647.0 43.6 655.8 43.8C664.6 43.9 677.8 44.5 682.2 44.6" stroke="#33a866"/>
<path d="M485.6 41.9C489.5 41.5 501.2 40.1 509.0 39.3C516.8 38.5 524.1 37.6 532.4 37.2C540.6 36.7 549.8 37.0 558.5 36.7C567.2 36.5 576.5 35.4 584.6 35.7C592.7 36.0 599.5 37.4 607.0 38.5C614.5 39.5 621.3 41.5 629.4 41.9C637.5 42.3 647.0 41.2 655.8 41.0C664.6 40.9 677.8 41.0 682.2 41.0" stroke="#b884ea"/>
<path d="M485.6 40.2C487.9 40.1 495.0 40.7 499.6 39.6C504.3 38.5 509.8 34.7 513.7 33.6C517.6 32.5 519.9 33.0 523.0 33.0C526.2 33.0 528.7 33.5 532.4 33.6C536.1 33.6 541.1 33.9 545.5 33.3C549.8 32.7 552.0 31.2 558.5 30.0C565.0 28.8 576.5 26.0 584.6 26.1C592.7 26.2 599.5 28.9 607.0 30.5C614.5 32.1 621.3 34.4 629.4 35.7C637.5 37.0 647.0 37.7 655.8 38.5C664.6 39.2 677.8 39.9 682.2 40.2" stroke="#d3a126"/>
</g>
<line x1="532.4" y1="13.4" x2="532.4" y2="171.8" stroke="#dcc4fc" stroke-width="1.1"/>
<line x1="532.4" y1="13.4" x2="532.4" y2="171.8" stroke="#8d3cf4" stroke-width="1.35" stroke-dasharray="1.05 1.05"/>
<line x1="584.6" y1="13.4" x2="584.6" y2="171.8" stroke="#dcc4fc" stroke-width="1.1"/>
<line x1="584.6" y1="13.4" x2="584.6" y2="171.8" stroke="#8d3cf4" stroke-width="1.35" stroke-dasharray="1.05 1.05"/>
<line x1="629.4" y1="13.4" x2="629.4" y2="171.8" stroke="#dcc4fc" stroke-width="1.1"/>
<line x1="629.4" y1="13.4" x2="629.4" y2="171.8" stroke="#8d3cf4" stroke-width="1.35" stroke-dasharray="1.05 1.05"/>
<line x1="487.05" y1="157.8" x2="682.2" y2="157.8" stroke="#000" stroke-width="2" stroke-dasharray="2 1.8"/>
<rect x="485.6" y="13.4" width="196.60000000000002" height="158.4" fill="none" stroke="#2a2a2a" stroke-width="1.25"/>
<line x1="485.6" y1="157.40" x2="489.0" y2="157.40" stroke="#2a2a2a" stroke-width="1"/>
<text x="482.0" y="160.10" text-anchor="end" class="tk">0</text>
<line x1="485.6" y1="143.00" x2="487.40000000000003" y2="143.00" stroke="#2a2a2a" stroke-width="0.9"/>
<line x1="485.6" y1="128.60" x2="489.0" y2="128.60" stroke="#2a2a2a" stroke-width="1"/>
<text x="482.0" y="131.30" text-anchor="end" class="tk">2</text>
<line x1="485.6" y1="114.20" x2="487.40000000000003" y2="114.20" stroke="#2a2a2a" stroke-width="0.9"/>
<line x1="485.6" y1="99.80" x2="489.0" y2="99.80" stroke="#2a2a2a" stroke-width="1"/>
<text x="482.0" y="102.50" text-anchor="end" class="tk">4</text>
<line x1="485.6" y1="85.40" x2="487.40000000000003" y2="85.40" stroke="#2a2a2a" stroke-width="0.9"/>
<line x1="485.6" y1="71.00" x2="489.0" y2="71.00" stroke="#2a2a2a" stroke-width="1"/>
<text x="482.0" y="73.70" text-anchor="end" class="tk">6</text>
<line x1="485.6" y1="56.60" x2="487.40000000000003" y2="56.60" stroke="#2a2a2a" stroke-width="0.9"/>
<line x1="485.6" y1="42.20" x2="489.0" y2="42.20" stroke="#2a2a2a" stroke-width="1"/>
<text x="482.0" y="44.90" text-anchor="end" class="tk">8</text>
<line x1="485.6" y1="27.80" x2="487.40000000000003" y2="27.80" stroke="#2a2a2a" stroke-width="0.9"/>
<line x1="485.6" y1="13.40" x2="489.0" y2="13.40" stroke="#2a2a2a" stroke-width="1"/>
<text x="482.0" y="16.10" text-anchor="end" class="tk">10</text>
<text transform="translate(488.3,179.90) scale(1.1,1)" text-anchor="middle" class="kl">G</text>
<text transform="translate(531.5,179.90) scale(1.1,1)" text-anchor="middle" class="kl">F</text>
<text transform="translate(584.5,179.90) scale(1.1,1)" text-anchor="middle" class="kl">Q</text>
<text transform="translate(628.5,179.90) scale(1.1,1)" text-anchor="middle" class="kl">Z</text>
<text transform="translate(679.5,179.90) scale(1.1,1)" text-anchor="middle" class="kl">G</text>
<text x="584.4" y="9.0" text-anchor="middle" class="tt">LiSnSe<tspan font-size="7.2" dy="2.3">3</tspan></text>
<text transform="translate(471.3,94.9) rotate(-90)" text-anchor="middle" class="yl">Frequancy (THz)</text>
<clipPath id="c4"><rect x="27.4" y="194.4" width="197.0" height="159.2142857142857"/></clipPath>
<g clip-path="url(#c4)" fill="none" stroke-width="1.6" stroke-linejoin="round" stroke-linecap="round">
<path d="M27.4 343.0C31.4 342.4 43.3 340.3 51.3 339.2C59.3 338.0 67.0 336.8 75.2 336.2C83.5 335.6 92.3 335.8 100.8 335.6C109.3 335.3 118.5 334.7 126.4 334.7C134.3 334.7 141.1 335.6 148.5 335.6C155.9 335.6 162.4 334.7 170.6 334.7C178.8 334.7 188.5 334.2 197.5 335.6C206.5 336.9 219.9 341.8 224.4 343.0" stroke="#585858"/>
<path d="M27.4 343.0C29.4 342.3 35.4 340.0 39.4 338.8C43.3 337.5 45.3 336.4 51.3 335.6C57.3 334.8 67.0 334.3 75.2 333.9C83.5 333.4 92.3 333.1 100.8 332.9C109.3 332.8 118.5 332.9 126.4 332.9C134.3 332.9 141.1 332.8 148.5 332.9C155.9 333.1 162.4 333.4 170.6 333.9C178.8 334.3 188.5 334.0 197.5 335.6C206.5 337.1 219.9 341.8 224.4 343.0" stroke="#e8434a"/>
<path d="M27.4 343.0C29.8 341.9 37.0 338.5 41.7 336.6C46.5 334.8 50.5 332.5 56.1 331.9C61.7 331.2 67.7 333.3 75.2 332.9C82.7 332.6 92.3 330.1 100.8 329.7C109.3 329.4 118.5 330.7 126.4 330.8C134.3 330.9 141.1 330.4 148.5 330.3C155.9 330.2 162.4 330.3 170.6 330.3C178.8 330.3 191.2 329.9 197.5 330.3C203.8 330.6 203.8 330.3 208.3 332.4C212.7 334.5 221.7 341.2 224.4 343.0" stroke="#2470e0"/>
<path d="M27.4 326.2C31.4 326.8 43.3 329.3 51.3 329.4C59.3 329.5 67.0 327.3 75.2 326.8C83.5 326.2 92.3 325.8 100.8 325.9C109.3 326.1 118.5 327.5 126.4 327.6C134.3 327.8 141.1 326.8 148.5 326.8C155.9 326.8 162.4 327.4 170.6 327.6C178.8 327.8 188.5 328.3 197.5 328.0C206.5 327.8 219.9 326.5 224.4 326.2" stroke="#33a866"/>
<path d="M27.4 325.0C31.4 324.5 43.3 322.9 51.3 322.0C59.3 321.1 67.0 319.4 75.2 319.6C83.5 319.9 92.3 322.4 100.8 323.3C109.3 324.1 118.5 324.9 126.4 325.0C134.3 325.0 141.1 324.1 148.5 323.8C155.9 323.5 162.4 323.2 170.6 323.3C178.8 323.3 188.5 323.8 197.5 324.1C206.5 324.4 219.9 324.8 224.4 325.0" stroke="#b884ea"/>
<path d="M27.4 320.9C31.4 320.8 43.3 320.5 51.3 320.2C59.3 319.9 67.0 319.0 75.2 319.1C83.5 319.2 92.3 320.3 100.8 320.6C109.3 320.9 118.5 320.8 126.4 320.9C134.3 321.1 141.1 321.3 148.5 321.5C155.9 321.6 162.4 322.1 170.6 322.0C178.8 321.9 188.5 321.1 197.5 320.9C206.5 320.7 219.9 320.9 224.4 320.9" stroke="#d3a126"/>
<path d="M27.4 314.9C31.4 315.1 43.3 315.6 51.3 316.1C59.3 316.7 67.0 317.5 75.2 318.0C83.5 318.4 92.3 318.5 100.8 318.8C109.3 319.1 118.5 319.6 126.4 319.6C134.3 319.7 141.1 319.4 148.5 319.1C155.9 318.8 162.4 318.3 170.6 318.0C178.8 317.6 188.5 317.4 197.5 317.0C206.5 316.6 219.9 315.6 224.4 315.3" stroke="#22cccc"/>
<path d="M27.4 313.5C31.4 313.5 43.3 313.7 51.3 313.8C59.3 314.0 67.0 314.1 75.2 314.3C83.5 314.6 92.3 315.0 100.8 315.3C109.3 315.6 118.5 316.0 126.4 316.1C134.3 316.3 141.1 316.1 148.5 316.1C155.9 316.1 162.4 316.4 170.6 316.1C178.8 315.9 188.5 315.3 197.5 314.9C206.5 314.4 219.9 313.7 224.4 313.5" stroke="#885a5e"/>
<path d="M27.4 311.4C31.4 311.6 43.3 312.3 51.3 312.6C59.3 313.0 67.0 313.1 75.2 313.5C83.5 313.9 92.3 315.3 100.8 315.3C109.3 315.3 118.5 313.6 126.4 313.5C134.3 313.4 141.1 314.6 148.5 314.9C155.9 315.2 162.4 315.5 170.6 315.3C178.8 315.1 188.5 314.1 197.5 313.5C206.5 312.8 219.9 311.7 224.4 311.4" stroke="#9e9c18"/>
<path d="M27.4 307.2C31.4 307.4 43.3 307.9 51.3 308.2C59.3 308.5 67.0 308.8 75.2 309.0C83.5 309.3 92.3 309.3 100.8 309.6C109.3 309.9 118.5 310.7 126.4 310.8C134.3 311.0 141.1 310.5 148.5 310.3C155.9 310.1 162.4 310.2 170.6 309.9C178.8 309.6 188.5 308.9 197.5 308.5C206.5 308.1 219.9 307.4 224.4 307.2" stroke="#f26d12"/>
<path d="M27.4 306.1C31.4 306.1 43.3 306.3 51.3 306.4C59.3 306.5 67.0 306.6 75.2 306.7C83.5 306.8 92.3 306.9 100.8 307.2C109.3 307.5 118.5 308.4 126.4 308.5C134.3 308.6 141.1 308.2 148.5 307.9C155.9 307.5 162.4 306.6 170.6 306.4C178.8 306.1 188.5 306.4 197.5 306.4C206.5 306.3 219.9 306.1 224.4 306.1" stroke="#6d9dd8"/>
<path d="M27.4 302.9C31.4 303.0 43.3 303.4 51.3 303.7C59.3 304.1 67.0 304.7 75.2 305.0C83.5 305.3 92.3 305.2 100.8 305.5C109.3 305.9 118.5 307.1 126.4 307.2C134.3 307.4 141.1 306.8 148.5 306.4C155.9 305.9 162.4 305.0 170.6 304.6C178.8 304.1 188.5 304.0 197.5 303.7C206.5 303.4 219.9 303.0 224.4 302.9" stroke="#5fb50c"/>
<path d="M27.4 301.9C31.4 301.9 43.3 301.8 51.3 301.9C59.3 302.0 67.0 302.2 75.2 302.5C83.5 302.7 92.3 303.0 100.8 303.2C109.3 303.4 118.5 303.6 126.4 303.7C134.3 303.8 141.1 303.9 148.5 303.7C155.9 303.6 162.4 303.1 170.6 302.9C178.8 302.7 188.5 302.6 197.5 302.5C206.5 302.3 219.9 302.0 224.4 301.9" stroke="#585858"/>
<path d="M27.4 301.1C31.4 300.9 43.3 300.4 51.3 300.2C59.3 300.1 67.0 300.2 75.2 300.2C83.5 300.2 92.3 300.2 100.8 300.2C109.3 300.2 118.5 300.1 126.4 300.2C134.3 300.4 141.1 300.9 148.5 301.1C155.9 301.3 162.4 301.5 170.6 301.4C178.8 301.3 188.5 300.3 197.5 300.2C206.5 300.2 219.9 300.9 224.4 301.1" stroke="#e8434a"/>
<path d="M27.4 299.3C31.4 299.2 43.3 299.1 51.3 299.0C59.3 298.8 67.0 298.5 75.2 298.4C83.5 298.3 92.3 298.6 100.8 298.4C109.3 298.3 118.5 297.6 126.4 297.6C134.3 297.6 141.1 298.1 148.5 298.4C155.9 298.7 162.4 299.3 170.6 299.3C178.8 299.3 188.5 298.4 197.5 298.4C206.5 298.4 219.9 299.1 224.4 299.3" stroke="#2470e0"/>
<path d="M27.4 297.6C31.4 297.5 43.3 297.3 51.3 297.1C59.3 297.0 67.0 296.5 75.2 296.6C83.5 296.7 92.3 297.4 100.8 297.6C109.3 297.7 118.5 297.6 126.4 297.6C134.3 297.6 141.1 297.7 148.5 297.6C155.9 297.4 162.4 296.7 170.6 296.6C178.8 296.5 188.5 297.0 197.5 297.1C206.5 297.3 219.9 297.5 224.4 297.6" stroke="#33a866"/>
<path d="M27.4 296.1C31.4 295.9 43.3 295.1 51.3 294.9C59.3 294.7 67.0 294.8 75.2 294.9C83.5 295.0 92.3 295.4 100.8 295.4C109.3 295.5 118.5 295.5 126.4 295.4C134.3 295.4 141.1 295.2 148.5 294.9C155.9 294.7 162.4 294.0 170.6 294.0C178.8 294.0 188.5 294.6 197.5 294.9C206.5 295.3 219.9 295.9 224.4 296.1" stroke="#b884ea"/>
<path d="M27.4 293.1C31.4 293.0 43.3 292.6 51.3 292.3C59.3 292.0 67.0 291.2 75.2 291.3C83.5 291.4 92.3 292.7 100.8 293.1C109.3 293.6 118.5 294.0 126.4 294.0C134.3 294.0 141.1 293.6 148.5 293.1C155.9 292.7 162.4 291.4 170.6 291.3C178.8 291.2 188.5 292.0 197.5 292.3C206.5 292.6 219.9 293.0 224.4 293.1" stroke="#d3a126"/>
<path d="M27.4 291.3C31.4 291.2 43.3 290.7 51.3 290.5C59.3 290.3 67.0 290.0 75.2 290.1C83.5 290.3 92.3 291.3 100.8 291.3C109.3 291.4 118.5 290.6 126.4 290.5C134.3 290.3 141.1 290.5 148.5 290.5C155.9 290.4 162.4 290.1 170.6 290.1C178.8 290.1 188.5 290.3 197.5 290.5C206.5 290.7 219.9 291.2 224.4 291.3" stroke="#22cccc"/>
<path d="M27.4 290.1C31.4 290.1 43.3 289.9 51.3 289.6C59.3 289.4 67.0 288.7 75.2 288.7C83.5 288.7 92.3 289.4 100.8 289.6C109.3 289.9 118.5 290.1 126.4 290.1C134.3 290.1 141.1 289.9 148.5 289.6C155.9 289.3 162.4 288.5 170.6 288.3C178.8 288.2 188.5 288.4 197.5 288.7C206.5 289.0 219.9 289.9 224.4 290.1" stroke="#885a5e"/>
<path d="M27.4 285.2C31.4 285.2 43.3 285.2 51.3 285.2C59.3 285.1 67.0 285.0 75.2 284.8C83.5 284.7 92.3 284.4 100.8 284.2C109.3 284.0 118.5 283.7 126.4 283.7C134.3 283.7 141.1 284.1 148.5 284.2C155.9 284.3 162.4 284.1 170.6 284.2C178.8 284.3 188.5 284.7 197.5 284.8C206.5 285.0 219.9 285.1 224.4 285.2" stroke="#9e9c18"/>
<path d="M27.4 281.5C31.4 281.7 43.3 282.3 51.3 282.5C59.3 282.7 67.0 282.9 75.2 283.0C83.5 283.2 92.3 283.3 100.8 283.3C109.3 283.4 118.5 283.4 126.4 283.3C134.3 283.3 141.1 283.2 148.5 283.0C155.9 282.9 162.4 282.7 170.6 282.5C178.8 282.3 188.5 282.1 197.5 282.0C206.5 281.8 219.9 281.6 224.4 281.5" stroke="#f26d12"/>
<path d="M27.4 272.7C31.4 272.7 43.3 272.8 51.3 272.7C59.3 272.7 67.0 272.4 75.2 272.4C83.5 272.5 92.3 272.9 100.8 273.1C109.3 273.2 118.5 273.6 126.4 273.6C134.3 273.6 141.1 273.1 148.5 273.1C155.9 273.0 162.4 273.1 170.6 273.1C178.8 273.1 188.5 273.1 197.5 273.1C206.5 273.1 219.9 273.1 224.4 273.1" stroke="#6d9dd8"/>
<path d="M27.4 266.6C31.4 266.7 43.3 267.0 51.3 267.1C59.3 267.2 67.0 267.2 75.2 267.1C83.5 267.0 92.3 267.0 100.8 266.6C109.3 266.2 118.5 265.1 126.4 264.8C134.3 264.5 141.1 264.8 148.5 264.8C155.9 264.8 162.4 264.6 170.6 264.8C178.8 264.9 188.5 265.3 197.5 265.6C206.5 265.9 219.9 266.4 224.4 266.6" stroke="#5fb50c"/>
<path d="M27.4 263.0C31.4 262.7 43.3 261.6 51.3 261.2C59.3 260.7 67.0 260.2 75.2 260.3C83.5 260.5 92.3 261.4 100.8 262.1C109.3 262.9 118.5 264.3 126.4 264.8C134.3 265.2 141.1 265.2 148.5 264.8C155.9 264.4 162.4 263.0 170.6 262.4C178.8 261.8 188.5 261.1 197.5 261.2C206.5 261.3 219.9 262.7 224.4 263.0" stroke="#585858"/>
<path d="M27.4 258.9C31.4 258.9 43.3 259.1 51.3 258.9C59.3 258.8 68.7 258.4 75.2 258.2C81.7 258.0 85.9 258.4 90.6 257.6C95.3 256.7 99.5 254.6 103.4 253.3C107.2 252.1 109.8 250.7 113.6 250.0C117.4 249.4 120.6 249.6 126.4 249.4C132.2 249.2 141.1 249.1 148.5 248.9C155.9 248.6 162.9 247.9 170.6 247.9C178.3 247.9 189.0 248.1 194.8 249.1C200.6 250.1 202.0 252.3 205.6 253.8C209.2 255.4 213.2 257.6 216.3 258.4C219.5 259.3 223.1 258.8 224.4 258.9" stroke="#e8434a"/>
<path d="M27.4 247.9C31.4 247.8 43.3 247.6 51.3 247.6C59.3 247.5 67.0 247.5 75.2 247.6C83.5 247.6 92.3 247.7 100.8 247.9C109.3 248.1 118.5 248.8 126.4 248.9C134.3 248.9 141.1 248.8 148.5 248.3C155.9 247.9 162.4 246.4 170.6 246.2C178.8 246.0 188.5 246.8 197.5 247.0C206.5 247.3 219.9 247.8 224.4 247.9" stroke="#2470e0"/>
<path d="M27.4 220.5C31.4 219.9 43.3 217.6 51.3 216.9C59.3 216.2 67.0 216.3 75.2 216.1C83.5 215.8 92.3 215.8 100.8 215.6C109.3 215.5 118.5 215.1 126.4 215.1C134.3 215.1 141.1 215.0 148.5 215.6C155.9 216.2 162.4 218.1 170.6 218.7C178.8 219.4 188.5 219.3 197.5 219.6C206.5 219.9 219.9 220.4 224.4 220.5" stroke="#33a866"/>
<path d="M27.4 211.6C31.4 211.5 43.3 211.2 51.3 211.1C59.3 211.0 67.0 211.2 75.2 211.1C83.5 210.9 92.3 210.7 100.8 210.3C109.3 209.9 118.5 208.8 126.4 208.6C134.3 208.4 141.1 209.3 148.5 209.3C155.9 209.3 162.4 208.5 170.6 208.6C178.8 208.7 188.5 209.2 197.5 209.8C206.5 210.4 219.9 211.7 224.4 212.1" stroke="#b884ea"/>
<path d="M27.4 195.7C31.4 195.5 43.3 194.7 51.3 194.4C59.3 194.1 67.0 193.9 75.2 193.9C83.5 193.9 92.3 194.0 100.8 194.4C109.3 194.8 118.5 195.9 126.4 196.2C134.3 196.6 141.1 196.3 148.5 196.5C155.9 196.7 162.4 197.5 170.6 197.5C178.8 197.5 188.5 196.8 197.5 196.5C206.5 196.2 219.9 195.8 224.4 195.7" stroke="#d3a126"/>
</g>
<line x1="75.2" y1="194.4" x2="75.2" y2="353.6142857142857" stroke="#dcc4fc" stroke-width="1.1"/>
<line x1="75.2" y1="194.4" x2="75.2" y2="353.6142857142857" stroke="#8d3cf4" stroke-width="1.35" stroke-dasharray="1.05 1.05"/>
<line x1="126.4" y1="194.4" x2="126.4" y2="353.6142857142857" stroke="#dcc4fc" stroke-width="1.1"/>
<line x1="126.4" y1="194.4" x2="126.4" y2="353.6142857142857" stroke="#8d3cf4" stroke-width="1.35" stroke-dasharray="1.05 1.05"/>
<line x1="170.6" y1="194.4" x2="170.6" y2="353.6142857142857" stroke="#dcc4fc" stroke-width="1.1"/>
<line x1="170.6" y1="194.4" x2="170.6" y2="353.6142857142857" stroke="#8d3cf4" stroke-width="1.35" stroke-dasharray="1.05 1.05"/>
<line x1="28.849999999999998" y1="343.4" x2="224.4" y2="343.4" stroke="#000" stroke-width="2" stroke-dasharray="2 1.8"/>
<rect x="27.4" y="194.4" width="197.0" height="159.2142857142857" fill="none" stroke="#2a2a2a" stroke-width="1.25"/>
<line x1="27.4" y1="343.00" x2="30.799999999999997" y2="343.00" stroke="#2a2a2a" stroke-width="1"/>
<text x="23.799999999999997" y="345.70" text-anchor="end" class="tk">0</text>
<line x1="27.4" y1="332.39" x2="29.2" y2="332.39" stroke="#2a2a2a" stroke-width="0.9"/>
<line x1="27.4" y1="321.77" x2="30.799999999999997" y2="321.77" stroke="#2a2a2a" stroke-width="1"/>
<text x="23.799999999999997" y="324.47" text-anchor="end" class="tk">2</text>
<line x1="27.4" y1="311.16" x2="29.2" y2="311.16" stroke="#2a2a2a" stroke-width="0.9"/>
<line x1="27.4" y1="300.54" x2="30.799999999999997" y2="300.54" stroke="#2a2a2a" stroke-width="1"/>
<text x="23.799999999999997" y="303.24" text-anchor="end" class="tk">4</text>
<line x1="27.4" y1="289.93" x2="29.2" y2="289.93" stroke="#2a2a2a" stroke-width="0.9"/>
<line x1="27.4" y1="279.31" x2="30.799999999999997" y2="279.31" stroke="#2a2a2a" stroke-width="1"/>
<text x="23.799999999999997" y="282.01" text-anchor="end" class="tk">6</text>
<line x1="27.4" y1="268.70" x2="29.2" y2="268.70" stroke="#2a2a2a" stroke-width="0.9"/>
<line x1="27.4" y1="258.09" x2="30.799999999999997" y2="258.09" stroke="#2a2a2a" stroke-width="1"/>
<text x="23.799999999999997" y="260.79" text-anchor="end" class="tk">8</text>
<line x1="27.4" y1="247.47" x2="29.2" y2="247.47" stroke="#2a2a2a" stroke-width="0.9"/>
<line x1="27.4" y1="236.86" x2="30.799999999999997" y2="236.86" stroke="#2a2a2a" stroke-width="1"/>
<text x="23.799999999999997" y="239.56" text-anchor="end" class="tk">10</text>
<line x1="27.4" y1="226.24" x2="29.2" y2="226.24" stroke="#2a2a2a" stroke-width="0.9"/>
<line x1="27.4" y1="215.63" x2="30.799999999999997" y2="215.63" stroke="#2a2a2a" stroke-width="1"/>
<text x="23.799999999999997" y="218.33" text-anchor="end" class="tk">12</text>
<line x1="27.4" y1="205.01" x2="29.2" y2="205.01" stroke="#2a2a2a" stroke-width="0.9"/>
<line x1="27.4" y1="194.40" x2="30.799999999999997" y2="194.40" stroke="#2a2a2a" stroke-width="1"/>
<text x="23.799999999999997" y="197.10" text-anchor="end" class="tk">14</text>
<text transform="translate(30.2,361.71) scale(1.1,1)" text-anchor="middle" class="kl">G</text>
<text transform="translate(86.4,361.71) scale(1.1,1)" text-anchor="middle" class="kl">F</text>
<text transform="translate(125.9,361.71) scale(1.1,1)" text-anchor="middle" class="kl">Q</text>
<text transform="translate(186.0,361.71) scale(1.1,1)" text-anchor="middle" class="kl">Z</text>
<text transform="translate(222.2,361.71) scale(1.1,1)" text-anchor="middle" class="kl">G</text>
<text x="123.3" y="190.4" text-anchor="middle" class="tt">NaSiSe<tspan font-size="7.2" dy="2.3">3</tspan></text>
<text transform="translate(10.799999999999997,274.5) rotate(-90)" text-anchor="middle" class="yl">Frequancy (THz)</text>
<clipPath id="c5"><rect x="255.4" y="196.3" width="197.20000000000002" height="158.73000000000002"/></clipPath>
<g clip-path="url(#c5)" fill="none" stroke-width="1.6" stroke-linejoin="round" stroke-linecap="round">
<path d="M255.4 340.6C259.4 339.7 271.3 336.8 279.2 335.1C287.1 333.4 294.7 331.1 303.0 330.2C311.3 329.3 320.3 330.2 329.0 329.8C337.7 329.3 346.9 327.8 355.0 327.5C363.1 327.2 370.0 327.8 377.5 328.0C385.0 328.3 391.9 328.3 400.0 328.9C408.1 329.5 417.5 329.6 426.3 331.5C435.1 333.5 448.2 339.1 452.6 340.6" stroke="#585858"/>
<path d="M255.4 340.6C259.4 339.7 271.3 336.8 279.2 335.1C287.1 333.5 294.7 332.1 303.0 330.6C311.3 329.2 320.3 327.3 329.0 326.2C337.7 325.0 346.9 323.8 355.0 323.6C363.1 323.4 370.0 324.6 377.5 325.0C385.0 325.4 391.9 325.5 400.0 326.2C408.1 326.8 417.5 326.5 426.3 328.9C435.1 331.3 448.2 338.7 452.6 340.6" stroke="#e8434a"/>
<path d="M255.4 340.6C257.4 339.5 263.3 336.1 267.3 334.1C271.3 332.2 275.2 330.7 279.2 328.9C283.2 327.1 287.1 324.6 291.1 323.3C295.1 321.9 296.7 321.1 303.0 320.8C309.3 320.5 320.3 320.8 329.0 321.4C337.7 322.0 346.9 323.8 355.0 324.4C363.1 325.1 370.0 325.0 377.5 325.3C385.0 325.6 391.9 326.6 400.0 326.2C408.1 325.7 419.7 322.2 426.3 322.7C432.9 323.2 435.1 326.1 439.5 329.1C443.8 332.0 450.4 338.7 452.6 340.6" stroke="#2470e0"/>
<path d="M255.4 317.4C259.4 317.7 271.3 318.5 279.2 319.1C287.1 319.7 294.7 320.8 303.0 320.8C311.3 320.8 320.3 319.5 329.0 319.1C337.7 318.7 346.9 318.5 355.0 318.2C363.1 317.9 370.0 317.7 377.5 317.4C385.0 317.0 391.9 315.8 400.0 316.1C408.1 316.4 417.5 318.9 426.3 319.1C435.1 319.3 448.2 317.7 452.6 317.4" stroke="#33a866"/>
<path d="M255.4 314.3C259.4 314.0 271.3 312.9 279.2 312.6C287.1 312.3 294.7 312.4 303.0 312.6C311.3 312.8 320.3 313.1 329.0 313.8C337.7 314.4 346.9 316.0 355.0 316.5C363.1 317.0 370.0 316.6 377.5 316.5C385.0 316.4 391.9 316.4 400.0 316.1C408.1 315.8 417.5 314.9 426.3 314.6C435.1 314.3 448.2 314.4 452.6 314.3" stroke="#b884ea"/>
<path d="M255.4 310.7C259.4 310.5 271.3 309.8 279.2 309.4C287.1 309.1 294.7 308.7 303.0 308.6C311.3 308.4 320.3 308.4 329.0 308.6C337.7 308.7 346.9 308.9 355.0 309.4C363.1 310.0 370.0 311.2 377.5 312.0C385.0 312.9 391.9 314.4 400.0 314.6C408.1 314.8 417.5 314.0 426.3 313.3C435.1 312.7 448.2 311.2 452.6 310.7" stroke="#d3a126"/>
<path d="M255.4 309.4C259.4 309.2 271.3 308.3 279.2 308.0C287.1 307.6 294.7 307.3 303.0 307.3C311.3 307.2 320.3 307.3 329.0 307.6C337.7 307.8 346.9 308.8 355.0 309.0C363.1 309.2 370.0 308.7 377.5 308.6C385.0 308.4 391.9 308.2 400.0 308.0C408.1 307.8 417.5 307.3 426.3 307.6C435.1 307.8 448.2 309.1 452.6 309.4" stroke="#22cccc"/>
<path d="M255.4 304.1C259.4 304.1 271.3 304.0 279.2 304.1C287.1 304.1 294.7 304.0 303.0 304.4C311.3 304.7 320.3 305.7 329.0 306.3C337.7 306.8 346.9 307.6 355.0 307.6C363.1 307.5 370.0 306.4 377.5 305.8C385.0 305.3 391.9 304.7 400.0 304.4C408.1 304.1 417.5 304.1 426.3 304.1C435.1 304.0 448.2 304.1 452.6 304.1" stroke="#885a5e"/>
<path d="M255.4 303.2C259.4 303.1 271.3 302.8 279.2 302.6C287.1 302.5 294.7 302.4 303.0 302.4C311.3 302.3 320.3 302.7 329.0 302.4C337.7 302.0 346.9 300.7 355.0 300.5C363.1 300.3 370.0 301.1 377.5 301.4C385.0 301.6 391.9 301.8 400.0 301.9C408.1 302.1 417.5 302.1 426.3 302.4C435.1 302.6 448.2 303.1 452.6 303.2" stroke="#9e9c18"/>
<path d="M255.4 299.2C259.4 299.4 271.3 299.9 279.2 300.2C287.1 300.5 294.7 300.7 303.0 300.9C311.3 301.1 320.3 301.3 329.0 301.4C337.7 301.4 346.9 301.5 355.0 301.4C363.1 301.2 370.0 300.6 377.5 300.5C385.0 300.3 391.9 300.5 400.0 300.5C408.1 300.4 417.5 300.4 426.3 300.2C435.1 300.0 448.2 299.4 452.6 299.2" stroke="#f26d12"/>
<path d="M255.4 297.0C259.4 297.3 271.3 298.5 279.2 298.8C287.1 299.0 294.7 298.9 303.0 298.8C311.3 298.6 320.3 298.1 329.0 297.9C337.7 297.6 346.9 297.3 355.0 297.3C363.1 297.3 370.0 297.6 377.5 297.9C385.0 298.1 391.9 298.8 400.0 298.8C408.1 298.8 417.5 298.2 426.3 297.9C435.1 297.6 448.2 297.2 452.6 297.0" stroke="#6d9dd8"/>
<path d="M255.4 295.6C259.4 295.7 271.3 296.0 279.2 296.2C287.1 296.3 294.7 296.5 303.0 296.6C311.3 296.7 320.3 296.6 329.0 296.6C337.7 296.6 346.9 296.5 355.0 296.6C363.1 296.7 370.0 296.9 377.5 297.0C385.0 297.1 391.9 297.5 400.0 297.3C408.1 297.2 417.5 296.4 426.3 296.2C435.1 295.9 448.2 295.7 452.6 295.6" stroke="#5fb50c"/>
<path d="M255.4 294.9C259.4 294.9 271.3 295.1 279.2 295.1C287.1 295.2 294.7 295.1 303.0 295.1C311.3 295.1 320.3 295.3 329.0 295.1C337.7 295.0 346.9 294.4 355.0 294.3C363.1 294.1 370.0 294.4 377.5 294.3C385.0 294.1 391.9 293.7 400.0 293.4C408.1 293.1 417.5 292.3 426.3 292.5C435.1 292.8 448.2 294.5 452.6 294.9" stroke="#585858"/>
<path d="M255.4 291.7C259.4 291.8 271.3 292.1 279.2 292.5C287.1 293.0 294.7 294.1 303.0 294.3C311.3 294.4 320.3 294.0 329.0 293.4C337.7 292.8 346.9 291.2 355.0 290.8C363.1 290.4 370.0 291.0 377.5 290.8C385.0 290.7 391.9 290.1 400.0 290.0C408.1 289.8 417.5 289.7 426.3 290.0C435.1 290.2 448.2 291.4 452.6 291.7" stroke="#e8434a"/>
<path d="M255.4 290.8C259.4 290.4 271.3 288.8 279.2 288.1C287.1 287.3 294.7 286.6 303.0 286.3C311.3 286.1 320.3 286.3 329.0 286.3C337.7 286.4 346.9 286.6 355.0 286.8C363.1 286.9 370.0 286.8 377.5 287.2C385.0 287.6 391.9 289.1 400.0 288.9C408.1 288.8 417.5 286.0 426.3 286.3C435.1 286.7 448.2 290.1 452.6 290.8" stroke="#2470e0"/>
<path d="M255.4 287.8C259.4 287.3 271.3 285.7 279.2 284.6C287.1 283.6 294.7 281.9 303.0 281.4C311.3 281.0 320.3 281.6 329.0 281.9C337.7 282.1 346.9 282.9 355.0 282.9C363.1 282.9 370.0 282.0 377.5 281.9C385.0 281.7 391.9 281.6 400.0 281.9C408.1 282.2 417.5 282.8 426.3 283.7C435.1 284.7 448.2 287.1 452.6 287.8" stroke="#33a866"/>
<path d="M255.4 279.0C259.4 279.1 271.3 279.4 279.2 279.7C287.1 280.0 294.7 280.9 303.0 281.0C311.3 281.1 320.3 280.4 329.0 280.1C337.7 279.8 346.9 279.5 355.0 279.3C363.1 279.1 370.0 279.0 377.5 279.0C385.0 278.9 391.9 279.0 400.0 279.0C408.1 279.0 417.5 279.0 426.3 279.0C435.1 279.0 448.2 279.0 452.6 279.0" stroke="#b884ea"/>
<path d="M255.4 278.4C259.4 278.0 271.3 276.4 279.2 276.1C287.1 275.8 294.7 276.4 303.0 276.7C311.3 276.9 320.3 277.3 329.0 277.5C337.7 277.8 346.9 278.2 355.0 278.4C363.1 278.6 370.0 279.3 377.5 279.0C385.0 278.7 391.9 276.9 400.0 276.7C408.1 276.4 417.5 277.3 426.3 277.5C435.1 277.8 448.2 278.3 452.6 278.4" stroke="#d3a126"/>
<path d="M255.4 276.1C259.4 276.0 271.3 275.7 279.2 275.4C287.1 275.0 294.7 274.2 303.0 273.9C311.3 273.6 320.3 273.1 329.0 273.6C337.7 274.2 346.9 276.6 355.0 277.1C363.1 277.6 370.0 277.1 377.5 276.7C385.0 276.3 391.9 275.0 400.0 274.8C408.1 274.6 417.5 275.4 426.3 275.7C435.1 275.9 448.2 276.0 452.6 276.1" stroke="#22cccc"/>
<path d="M255.4 274.8C259.4 274.5 271.3 273.5 279.2 273.1C287.1 272.6 294.7 272.3 303.0 272.2C311.3 272.1 320.3 272.2 329.0 272.2C337.7 272.2 346.9 272.5 355.0 272.5C363.1 272.5 370.0 272.4 377.5 272.2C385.0 272.0 391.9 271.3 400.0 271.3C408.1 271.3 417.5 271.6 426.3 272.2C435.1 272.8 448.2 274.4 452.6 274.8" stroke="#885a5e"/>
<path d="M255.4 270.0C259.4 270.1 271.3 270.3 279.2 270.5C287.1 270.6 294.7 270.8 303.0 270.8C311.3 270.8 320.3 270.8 329.0 270.5C337.7 270.1 346.9 268.8 355.0 268.7C363.1 268.7 370.0 269.9 377.5 270.0C385.0 270.2 391.9 269.7 400.0 269.6C408.1 269.5 417.5 269.5 426.3 269.6C435.1 269.7 448.2 270.0 452.6 270.0" stroke="#9e9c18"/>
<path d="M255.4 269.6C259.4 269.4 271.3 268.6 279.2 268.3C287.1 268.0 294.7 267.9 303.0 267.7C311.3 267.6 320.3 267.4 329.0 267.3C337.7 267.2 346.9 267.0 355.0 266.9C363.1 266.7 370.0 266.7 377.5 266.6C385.0 266.4 391.9 265.7 400.0 266.0C408.1 266.3 417.5 267.7 426.3 268.3C435.1 268.9 448.2 269.4 452.6 269.6" stroke="#f26d12"/>
<path d="M255.4 267.3C259.4 266.9 271.3 265.6 279.2 265.1C287.1 264.6 294.7 264.4 303.0 264.3C311.3 264.1 320.3 264.2 329.0 264.3C337.7 264.3 346.9 264.7 355.0 264.7C363.1 264.7 370.0 264.3 377.5 264.3C385.0 264.2 391.9 264.1 400.0 264.3C408.1 264.4 417.5 264.6 426.3 265.1C435.1 265.6 448.2 266.9 452.6 267.3" stroke="#6d9dd8"/>
<path d="M255.4 263.0C259.4 263.0 271.3 263.0 279.2 263.0C287.1 263.0 294.7 263.2 303.0 263.0C311.3 262.7 320.3 262.1 329.0 261.5C337.7 260.9 346.9 259.9 355.0 259.5C363.1 259.1 370.0 259.1 377.5 258.9C385.0 258.7 392.7 258.2 400.0 258.3C407.3 258.5 414.5 258.8 421.0 259.8C427.6 260.8 434.2 263.5 439.5 264.1C444.7 264.7 450.4 263.5 452.6 263.4" stroke="#5fb50c"/>
<path d="M255.4 258.3C259.4 258.2 271.3 257.8 279.2 257.6C287.1 257.4 294.7 257.2 303.0 257.2C311.3 257.2 320.3 257.6 329.0 257.6C337.7 257.7 346.9 257.7 355.0 257.6C363.1 257.6 370.0 257.2 377.5 257.2C385.0 257.2 391.9 257.6 400.0 257.6C408.1 257.7 417.5 257.5 426.3 257.6C435.1 257.7 448.2 258.2 452.6 258.3" stroke="#585858"/>
<path d="M255.4 255.9C259.4 256.0 271.3 256.3 279.2 256.3C287.1 256.3 294.7 255.8 303.0 255.9C311.3 255.9 320.3 256.4 329.0 256.6C337.7 256.8 346.9 257.2 355.0 257.2C363.1 257.2 370.0 256.8 377.5 256.6C385.0 256.5 391.9 256.4 400.0 256.3C408.1 256.3 417.5 256.3 426.3 256.3C435.1 256.3 448.2 256.3 452.6 256.3" stroke="#e8434a"/>
<path d="M255.4 231.1C259.4 231.1 271.3 231.1 279.2 231.1C287.1 231.1 294.7 231.1 303.0 231.1C311.3 231.1 320.3 231.1 329.0 231.1C337.7 231.0 346.9 230.7 355.0 230.6C363.1 230.6 370.0 230.6 377.5 230.6C385.0 230.7 391.9 230.9 400.0 231.1C408.1 231.2 417.5 231.5 426.3 231.5C435.1 231.5 448.2 231.1 452.6 231.1" stroke="#2470e0"/>
<path d="M255.4 230.6C259.4 230.0 271.3 227.8 279.2 227.0C287.1 226.3 294.7 226.3 303.0 226.2C311.3 226.0 320.3 226.2 329.0 226.2C337.7 226.1 346.9 225.7 355.0 225.7C363.1 225.8 370.0 226.0 377.5 226.5C385.0 227.0 391.9 228.3 400.0 228.8C408.1 229.2 417.5 229.0 426.3 229.3C435.1 229.7 448.2 230.4 452.6 230.6" stroke="#33a866"/>
<path d="M255.4 224.7C259.4 224.5 271.3 223.8 279.2 223.6C287.1 223.4 294.7 223.7 303.0 223.6C311.3 223.5 320.3 223.2 329.0 223.0C337.7 222.8 346.9 222.4 355.0 222.3C363.1 222.2 370.0 222.3 377.5 222.3C385.0 222.3 391.9 222.2 400.0 222.3C408.1 222.3 417.5 222.2 426.3 222.6C435.1 222.9 448.2 224.1 452.6 224.4" stroke="#b884ea"/>
<path d="M255.4 212.9C259.4 212.8 271.3 212.3 279.2 212.0C287.1 211.7 294.7 211.2 303.0 211.2C311.3 211.2 320.3 211.6 329.0 212.0C337.7 212.4 346.9 213.1 355.0 213.5C363.1 213.8 370.0 214.0 377.5 214.2C385.0 214.4 391.9 214.7 400.0 214.6C408.1 214.6 417.5 214.0 426.3 213.8C435.1 213.5 448.2 213.0 452.6 212.9" stroke="#d3a126"/>
</g>
<line x1="303.0" y1="196.3" x2="303.0" y2="355.03000000000003" stroke="#dcc4fc" stroke-width="1.1"/>
<line x1="303.0" y1="196.3" x2="303.0" y2="355.03000000000003" stroke="#8d3cf4" stroke-width="1.35" stroke-dasharray="1.05 1.05"/>
<line x1="355.0" y1="196.3" x2="355.0" y2="355.03000000000003" stroke="#dcc4fc" stroke-width="1.1"/>
<line x1="355.0" y1="196.3" x2="355.0" y2="355.03000000000003" stroke="#8d3cf4" stroke-width="1.35" stroke-dasharray="1.05 1.05"/>
<line x1="400.0" y1="196.3" x2="400.0" y2="355.03000000000003" stroke="#dcc4fc" stroke-width="1.1"/>
<line x1="400.0" y1="196.3" x2="400.0" y2="355.03000000000003" stroke="#8d3cf4" stroke-width="1.35" stroke-dasharray="1.05 1.05"/>
<line x1="256.85" y1="341.0" x2="452.6" y2="341.0" stroke="#000" stroke-width="2" stroke-dasharray="2 1.8"/>
<rect x="255.4" y="196.3" width="197.20000000000002" height="158.73000000000002" fill="none" stroke="#2a2a2a" stroke-width="1.25"/>
<line x1="255.4" y1="340.60" x2="258.8" y2="340.60" stroke="#2a2a2a" stroke-width="1"/>
<text x="251.8" y="343.30" text-anchor="end" class="tk">0</text>
<line x1="255.4" y1="326.17" x2="257.2" y2="326.17" stroke="#2a2a2a" stroke-width="0.9"/>
<line x1="255.4" y1="311.74" x2="258.8" y2="311.74" stroke="#2a2a2a" stroke-width="1"/>
<text x="251.8" y="314.44" text-anchor="end" class="tk">2</text>
<line x1="255.4" y1="297.31" x2="257.2" y2="297.31" stroke="#2a2a2a" stroke-width="0.9"/>
<line x1="255.4" y1="282.88" x2="258.8" y2="282.88" stroke="#2a2a2a" stroke-width="1"/>
<text x="251.8" y="285.58" text-anchor="end" class="tk">4</text>
<line x1="255.4" y1="268.45" x2="257.2" y2="268.45" stroke="#2a2a2a" stroke-width="0.9"/>
<line x1="255.4" y1="254.02" x2="258.8" y2="254.02" stroke="#2a2a2a" stroke-width="1"/>
<text x="251.8" y="256.72" text-anchor="end" class="tk">6</text>
<line x1="255.4" y1="239.59" x2="257.2" y2="239.59" stroke="#2a2a2a" stroke-width="0.9"/>
<line x1="255.4" y1="225.16" x2="258.8" y2="225.16" stroke="#2a2a2a" stroke-width="1"/>
<text x="251.8" y="227.86" text-anchor="end" class="tk">8</text>
<line x1="255.4" y1="210.73" x2="257.2" y2="210.73" stroke="#2a2a2a" stroke-width="0.9"/>
<line x1="255.4" y1="196.30" x2="258.8" y2="196.30" stroke="#2a2a2a" stroke-width="1"/>
<text x="251.8" y="199.00" text-anchor="end" class="tk">10</text>
<text transform="translate(258.2,363.13) scale(1.1,1)" text-anchor="middle" class="kl">G</text>
<text transform="translate(302.1,363.13) scale(1.1,1)" text-anchor="middle" class="kl">F</text>
<text transform="translate(354.4,363.13) scale(1.1,1)" text-anchor="middle" class="kl">Q</text>
<text transform="translate(398.2,363.13) scale(1.1,1)" text-anchor="middle" class="kl">Z</text>
<text transform="translate(450.2,363.13) scale(1.1,1)" text-anchor="middle" class="kl">G</text>
<text x="356.2" y="191.9" text-anchor="middle" class="tt">NaGeSe<tspan font-size="7.2" dy="2.3">3</tspan></text>
<text transform="translate(241.1,278.0) rotate(-90)" text-anchor="middle" class="yl">Frequancy (THz)</text>
<clipPath id="c6"><rect x="486.0" y="197.4" width="197.0" height="158.62000000000003"/></clipPath>
<g clip-path="url(#c6)" fill="none" stroke-width="1.6" stroke-linejoin="round" stroke-linecap="round">
<path d="M486.0 341.6C489.9 340.5 501.5 336.6 509.3 335.1C517.1 333.6 524.4 332.9 532.6 332.5C540.9 332.2 550.1 333.4 558.8 333.1C567.5 332.8 576.9 331.0 585.0 330.8C593.1 330.5 600.0 330.7 607.5 331.7C615.0 332.6 621.8 335.9 630.0 336.7C638.2 337.5 647.7 335.9 656.5 336.7C665.3 337.5 678.6 340.8 683.0 341.6" stroke="#585858"/>
<path d="M486.0 341.6C489.9 340.2 501.5 335.6 509.3 333.4C517.1 331.2 524.4 329.4 532.6 328.5C540.9 327.5 550.1 328.2 558.8 327.8C567.5 327.3 578.4 325.9 585.0 325.9C591.6 325.9 594.0 327.6 598.5 327.9C603.0 328.2 606.8 326.6 612.0 327.5C617.2 328.4 624.4 332.0 630.0 333.4C635.6 334.8 640.6 335.7 645.9 335.8C651.2 336.0 655.6 333.4 661.8 334.4C668.0 335.4 679.5 340.4 683.0 341.6" stroke="#e8434a"/>
<path d="M486.0 341.6C489.9 339.8 501.5 334.2 509.3 330.8C517.1 327.4 524.4 323.0 532.6 321.3C540.9 319.6 550.1 320.0 558.8 320.7C567.5 321.4 576.9 325.1 585.0 325.4C593.1 325.8 600.0 322.7 607.5 322.7C615.0 322.7 621.8 324.6 630.0 325.4C638.2 326.3 649.9 326.6 656.5 328.0C663.1 329.5 665.3 332.1 669.8 334.4C674.2 336.6 680.8 340.4 683.0 341.6" stroke="#2470e0"/>
<path d="M486.0 328.0C489.9 327.4 501.5 326.0 509.3 324.4C517.1 322.9 524.4 319.8 532.6 318.8C540.9 317.8 550.1 318.2 558.8 318.2C567.5 318.3 576.9 318.8 585.0 319.2C593.1 319.7 600.0 320.1 607.5 320.7C615.0 321.3 621.8 322.1 630.0 322.7C638.2 323.3 647.7 323.6 656.5 324.4C665.3 325.3 678.6 327.4 683.0 328.0" stroke="#33a866"/>
<path d="M486.0 324.4C489.9 323.7 501.5 321.3 509.3 320.1C517.1 318.9 524.4 317.7 532.6 317.1C540.9 316.5 550.1 316.5 558.8 316.5C567.5 316.6 576.9 317.2 585.0 317.4C593.1 317.6 600.0 317.7 607.5 317.8C615.0 318.0 621.8 317.9 630.0 318.2C638.2 318.6 647.7 319.1 656.5 320.1C665.3 321.1 678.6 323.7 683.0 324.4" stroke="#b884ea"/>
<path d="M486.0 315.9C489.9 316.2 501.5 317.3 509.3 317.4C517.1 317.5 524.4 316.7 532.6 316.5C540.9 316.3 550.1 316.1 558.8 315.9C567.5 315.8 576.9 315.5 585.0 315.6C593.1 315.8 600.0 316.7 607.5 317.1C615.0 317.4 621.8 317.8 630.0 317.8C638.2 317.9 647.7 317.6 656.5 317.4C665.3 317.2 678.6 316.7 683.0 316.5" stroke="#d3a126"/>
<path d="M486.0 315.6C489.9 315.5 501.5 315.1 509.3 314.8C517.1 314.5 524.4 314.1 532.6 313.9C540.9 313.8 550.1 314.0 558.8 313.9C567.5 313.8 576.9 313.2 585.0 313.5C593.1 313.8 600.0 315.0 607.5 315.6C615.0 316.3 621.8 317.1 630.0 317.4C638.2 317.6 647.7 317.3 656.5 317.1C665.3 316.8 678.6 316.1 683.0 315.9" stroke="#22cccc"/>
<path d="M486.0 312.0C489.9 312.0 501.5 311.8 509.3 311.8C517.1 311.8 524.4 312.0 532.6 312.0C540.9 312.1 550.1 312.2 558.8 312.0C567.5 311.9 576.9 311.2 585.0 311.2C593.1 311.2 600.0 311.8 607.5 312.0C615.0 312.3 621.8 312.3 630.0 312.5C638.2 312.6 647.7 313.3 656.5 313.0C665.3 312.8 678.6 311.5 683.0 311.2" stroke="#885a5e"/>
<path d="M486.0 306.7C489.9 307.3 501.5 309.1 509.3 310.0C517.1 310.9 524.4 312.3 532.6 312.0C540.9 311.8 550.1 309.5 558.8 308.6C567.5 307.7 576.9 306.7 585.0 306.7C593.1 306.7 600.0 308.1 607.5 308.6C615.0 309.0 621.8 309.2 630.0 309.4C638.2 309.7 647.7 310.7 656.5 310.3C665.3 309.9 678.6 307.7 683.0 307.1" stroke="#9e9c18"/>
<path d="M486.0 305.8C489.9 306.0 501.5 306.5 509.3 306.7C517.1 306.9 524.4 307.2 532.6 307.1C540.9 307.1 550.1 306.5 558.8 306.4C567.5 306.3 576.9 306.3 585.0 306.4C593.1 306.5 600.0 306.8 607.5 307.1C615.0 307.4 621.8 308.2 630.0 308.1C638.2 308.1 647.7 307.1 656.5 306.7C665.3 306.3 678.6 306.0 683.0 305.8" stroke="#f26d12"/>
<path d="M486.0 302.8C489.9 302.9 501.5 303.2 509.3 303.5C517.1 303.8 524.4 304.3 532.6 304.7C540.9 305.1 550.1 305.7 558.8 305.8C567.5 305.9 576.9 305.3 585.0 305.3C593.1 305.3 600.0 305.7 607.5 305.8C615.0 305.9 621.8 306.0 630.0 305.8C638.2 305.6 647.7 305.1 656.5 304.7C665.3 304.3 678.6 303.5 683.0 303.2" stroke="#6d9dd8"/>
<path d="M486.0 301.4C489.9 301.3 501.5 300.9 509.3 301.1C517.1 301.2 524.4 302.0 532.6 302.4C540.9 302.7 550.1 303.1 558.8 303.2C567.5 303.4 576.9 303.3 585.0 303.2C593.1 303.2 600.0 303.0 607.5 302.8C615.0 302.7 621.8 302.6 630.0 302.4C638.2 302.1 647.7 301.5 656.5 301.4C665.3 301.2 678.6 301.4 683.0 301.4" stroke="#5fb50c"/>
<path d="M486.0 296.5C489.9 296.8 501.5 298.2 509.3 298.8C517.1 299.3 524.4 299.5 532.6 299.6C540.9 299.7 550.1 299.2 558.8 299.3C567.5 299.5 576.9 300.5 585.0 300.5C593.1 300.6 600.0 300.1 607.5 299.6C615.0 299.1 621.8 297.8 630.0 297.5C638.2 297.2 647.7 298.0 656.5 297.9C665.3 297.8 678.6 297.2 683.0 297.0" stroke="#585858"/>
<path d="M486.0 295.2C489.9 295.0 501.5 294.3 509.3 294.0C517.1 293.7 524.4 293.4 532.6 293.4C540.9 293.5 550.1 293.9 558.8 294.3C567.5 294.7 576.9 295.4 585.0 295.7C593.1 296.1 600.0 296.2 607.5 296.5C615.0 296.7 621.8 297.0 630.0 297.0C638.2 297.0 647.7 296.8 656.5 296.5C665.3 296.2 678.6 295.4 683.0 295.2" stroke="#e8434a"/>
<path d="M486.0 289.0C489.9 289.3 501.5 290.3 509.3 290.8C517.1 291.4 524.4 291.9 532.6 292.3C540.9 292.6 550.1 292.7 558.8 292.9C567.5 293.1 576.9 293.8 585.0 293.4C593.1 293.1 600.0 291.6 607.5 290.8C615.0 290.1 621.8 289.3 630.0 289.0C638.2 288.6 647.7 288.7 656.5 288.7C665.3 288.6 678.6 288.7 683.0 288.7" stroke="#2470e0"/>
<path d="M486.0 288.1C489.9 287.8 501.5 286.8 509.3 286.4C517.1 286.0 524.4 285.9 532.6 285.8C540.9 285.7 550.1 285.6 558.8 285.8C567.5 286.0 576.9 286.7 585.0 286.8C593.1 286.9 600.0 286.6 607.5 286.4C615.0 286.2 621.8 285.5 630.0 285.5C638.2 285.5 647.7 285.9 656.5 286.4C665.3 286.8 678.6 287.8 683.0 288.1" stroke="#33a866"/>
<path d="M486.0 283.6C489.9 283.4 501.5 282.6 509.3 282.3C517.1 282.0 524.4 281.8 532.6 281.9C540.9 282.0 550.1 282.2 558.8 282.8C567.5 283.4 576.9 285.1 585.0 285.5C593.1 285.9 600.0 285.3 607.5 285.1C615.0 284.8 621.8 284.3 630.0 284.1C638.2 283.8 647.7 283.7 656.5 283.6C665.3 283.6 678.6 283.6 683.0 283.6" stroke="#b884ea"/>
<path d="M486.0 281.0C489.9 280.8 501.5 280.0 509.3 279.7C517.1 279.5 524.4 279.7 532.6 279.7C540.9 279.8 550.1 280.2 558.8 280.2C567.5 280.2 576.9 279.6 585.0 279.7C593.1 279.9 600.0 280.6 607.5 281.0C615.0 281.5 621.8 282.2 630.0 282.3C638.2 282.4 647.7 281.9 656.5 281.6C665.3 281.3 678.6 280.7 683.0 280.5" stroke="#d3a126"/>
<path d="M486.0 279.7C489.9 279.7 501.5 279.5 509.3 279.3C517.1 279.1 524.4 278.7 532.6 278.4C540.9 278.2 550.1 278.2 558.8 278.0C567.5 277.8 576.9 277.1 585.0 277.4C593.1 277.7 600.0 279.1 607.5 279.7C615.0 280.3 621.8 281.0 630.0 281.0C638.2 281.0 647.7 280.0 656.5 279.7C665.3 279.5 678.6 279.7 683.0 279.7" stroke="#22cccc"/>
<path d="M486.0 277.4C489.9 277.4 501.5 277.6 509.3 277.4C517.1 277.2 524.4 276.6 532.6 276.3C540.9 276.0 550.1 276.0 558.8 275.7C567.5 275.4 576.9 274.4 585.0 274.4C593.1 274.4 600.0 275.3 607.5 275.7C615.0 276.1 621.8 276.3 630.0 276.6C638.2 276.8 647.7 276.9 656.5 277.0C665.3 277.1 678.6 277.0 683.0 277.0" stroke="#885a5e"/>
<path d="M486.0 275.7C489.9 275.3 501.5 273.9 509.3 273.1C517.1 272.3 524.4 271.3 532.6 270.9C540.9 270.6 550.1 270.9 558.8 271.2C567.5 271.6 576.9 273.0 585.0 273.1C593.1 273.2 600.0 271.7 607.5 271.7C615.0 271.6 621.8 272.4 630.0 272.7C638.2 272.9 647.7 272.6 656.5 273.1C665.3 273.6 678.6 275.3 683.0 275.7" stroke="#9e9c18"/>
<path d="M486.0 269.5C489.9 268.7 501.5 265.4 509.3 264.6C517.1 263.8 524.4 264.5 532.6 264.6C540.9 264.7 550.1 265.1 558.8 265.0C567.5 265.0 576.9 264.1 585.0 264.2C593.1 264.3 600.0 265.1 607.5 265.6C615.0 266.1 621.8 267.0 630.0 267.3C638.2 267.7 647.7 267.4 656.5 267.8C665.3 268.2 678.6 269.5 683.0 269.8" stroke="#f26d12"/>
<path d="M486.0 262.4C489.9 262.5 501.5 262.7 509.3 262.7C517.1 262.8 524.4 262.7 532.6 262.7C540.9 262.7 550.1 262.6 558.8 262.7C567.5 262.8 576.9 263.3 585.0 263.3C593.1 263.3 600.0 262.7 607.5 262.4C615.0 262.1 621.8 261.6 630.0 261.6C638.2 261.5 647.7 261.8 656.5 262.0C665.3 262.2 678.6 262.6 683.0 262.7" stroke="#6d9dd8"/>
<path d="M486.0 262.0C489.9 262.0 501.5 262.2 509.3 262.0C517.1 261.8 524.4 261.3 532.6 261.0C540.9 260.7 550.1 260.4 558.8 260.3C567.5 260.2 576.9 260.4 585.0 260.3C593.1 260.1 600.0 259.6 607.5 259.3C615.0 259.0 621.8 258.4 630.0 258.5C638.2 258.7 647.7 259.7 656.5 260.3C665.3 260.8 678.6 261.7 683.0 262.0" stroke="#5fb50c"/>
<path d="M486.0 258.0C489.9 258.0 501.5 258.1 509.3 258.0C517.1 257.8 524.4 257.2 532.6 257.1C540.9 257.0 550.1 257.2 558.8 257.1C567.5 257.0 576.9 256.7 585.0 256.7C593.1 256.7 600.0 256.9 607.5 257.1C615.0 257.3 621.8 257.8 630.0 258.0C638.2 258.1 647.7 258.0 656.5 258.0C665.3 258.0 678.6 258.0 683.0 258.0" stroke="#585858"/>
<path d="M486.0 249.2C489.9 249.0 501.5 248.5 509.3 248.2C517.1 247.8 524.4 247.4 532.6 247.3C540.9 247.1 550.1 247.3 558.8 247.3C567.5 247.3 576.9 247.0 585.0 247.3C593.1 247.6 600.0 248.6 607.5 249.2C615.0 249.8 621.8 250.8 630.0 250.9C638.2 251.0 647.7 250.5 656.5 250.0C665.3 249.6 678.6 248.5 683.0 248.2" stroke="#e8434a"/>
<path d="M486.0 242.5C489.9 242.4 501.5 241.6 509.3 241.5C517.1 241.4 524.4 242.0 532.6 242.0C540.9 242.0 550.1 241.7 558.8 241.5C567.5 241.3 576.9 241.2 585.0 240.8C593.1 240.4 600.0 239.6 607.5 239.4C615.0 239.1 621.8 239.2 630.0 239.4C638.2 239.5 647.7 239.7 656.5 240.2C665.3 240.8 678.6 242.2 683.0 242.5" stroke="#2470e0"/>
<path d="M486.0 240.2C489.9 240.0 501.5 239.0 509.3 238.9C517.1 238.8 524.4 239.6 532.6 239.7C540.9 239.7 550.1 239.6 558.8 239.4C567.5 239.2 576.9 238.6 585.0 238.5C593.1 238.4 600.0 238.7 607.5 238.9C615.0 239.1 621.8 239.5 630.0 239.7C638.2 239.8 647.7 239.5 656.5 239.7C665.3 239.8 678.6 240.6 683.0 240.8" stroke="#33a866"/>
<path d="M486.0 237.6C489.9 237.5 501.5 236.7 509.3 236.6C517.1 236.6 524.4 237.0 532.6 237.2C540.9 237.4 550.1 237.6 558.8 237.6C567.5 237.6 576.9 237.2 585.0 237.2C593.1 237.2 600.0 237.7 607.5 237.6C615.0 237.5 621.8 236.8 630.0 236.6C638.2 236.5 647.7 236.5 656.5 236.6C665.3 236.8 678.6 237.5 683.0 237.6" stroke="#b884ea"/>
<path d="M486.0 235.8C489.9 235.5 501.5 234.7 509.3 234.0C517.1 233.3 524.4 231.7 532.6 231.4C540.9 231.1 550.1 231.9 558.8 232.3C567.5 232.7 576.9 233.8 585.0 234.0C593.1 234.3 600.0 233.9 607.5 233.7C615.0 233.6 621.8 233.2 630.0 233.2C638.2 233.2 647.7 233.2 656.5 233.7C665.3 234.2 678.6 235.8 683.0 236.2" stroke="#d3a126"/>
</g>
<line x1="532.6" y1="197.4" x2="532.6" y2="356.02000000000004" stroke="#dcc4fc" stroke-width="1.1"/>
<line x1="532.6" y1="197.4" x2="532.6" y2="356.02000000000004" stroke="#8d3cf4" stroke-width="1.35" stroke-dasharray="1.05 1.05"/>
<line x1="585.0" y1="197.4" x2="585.0" y2="356.02000000000004" stroke="#dcc4fc" stroke-width="1.1"/>
<line x1="585.0" y1="197.4" x2="585.0" y2="356.02000000000004" stroke="#8d3cf4" stroke-width="1.35" stroke-dasharray="1.05 1.05"/>
<line x1="630.0" y1="197.4" x2="630.0" y2="356.02000000000004" stroke="#dcc4fc" stroke-width="1.1"/>
<line x1="630.0" y1="197.4" x2="630.0" y2="356.02000000000004" stroke="#8d3cf4" stroke-width="1.35" stroke-dasharray="1.05 1.05"/>
<line x1="487.45" y1="342.0" x2="683.0" y2="342.0" stroke="#000" stroke-width="2" stroke-dasharray="2 1.8"/>
<rect x="486.0" y="197.4" width="197.0" height="158.62000000000003" fill="none" stroke="#2a2a2a" stroke-width="1.25"/>
<line x1="486.0" y1="341.60" x2="489.4" y2="341.60" stroke="#2a2a2a" stroke-width="1"/>
<text x="482.4" y="344.30" text-anchor="end" class="tk">0</text>
<line x1="486.0" y1="327.18" x2="487.8" y2="327.18" stroke="#2a2a2a" stroke-width="0.9"/>
<line x1="486.0" y1="312.76" x2="489.4" y2="312.76" stroke="#2a2a2a" stroke-width="1"/>
<text x="482.4" y="315.46" text-anchor="end" class="tk">2</text>
<line x1="486.0" y1="298.34" x2="487.8" y2="298.34" stroke="#2a2a2a" stroke-width="0.9"/>
<line x1="486.0" y1="283.92" x2="489.4" y2="283.92" stroke="#2a2a2a" stroke-width="1"/>
<text x="482.4" y="286.62" text-anchor="end" class="tk">4</text>
<line x1="486.0" y1="269.50" x2="487.8" y2="269.50" stroke="#2a2a2a" stroke-width="0.9"/>
<line x1="486.0" y1="255.08" x2="489.4" y2="255.08" stroke="#2a2a2a" stroke-width="1"/>
<text x="482.4" y="257.78" text-anchor="end" class="tk">6</text>
<line x1="486.0" y1="240.66" x2="487.8" y2="240.66" stroke="#2a2a2a" stroke-width="0.9"/>
<line x1="486.0" y1="226.24" x2="489.4" y2="226.24" stroke="#2a2a2a" stroke-width="1"/>
<text x="482.4" y="228.94" text-anchor="end" class="tk">8</text>
<line x1="486.0" y1="211.82" x2="487.8" y2="211.82" stroke="#2a2a2a" stroke-width="0.9"/>
<line x1="486.0" y1="197.40" x2="489.4" y2="197.40" stroke="#2a2a2a" stroke-width="1"/>
<text x="482.4" y="200.10" text-anchor="end" class="tk">10</text>
<text transform="translate(488.3,364.12) scale(1.1,1)" text-anchor="middle" class="kl">G</text>
<text transform="translate(532.0,364.12) scale(1.1,1)" text-anchor="middle" class="kl">F</text>
<text transform="translate(585.1,364.12) scale(1.1,1)" text-anchor="middle" class="kl">Q</text>
<text transform="translate(629.2,364.12) scale(1.1,1)" text-anchor="middle" class="kl">Z</text>
<text transform="translate(680.3,364.12) scale(1.1,1)" text-anchor="middle" class="kl">G</text>
<text x="586.1" y="193.0" text-anchor="middle" class="tt">NaSnSe<tspan font-size="7.2" dy="2.3">3</tspan></text>
<text transform="translate(471.7,279.0) rotate(-90)" text-anchor="middle" class="yl">Frequancy (THz)</text>
<clipPath id="c7"><rect x="26.6" y="380.6" width="196.8" height="158.73749999999995"/></clipPath>
<g clip-path="url(#c7)" fill="none" stroke-width="1.6" stroke-linejoin="round" stroke-linecap="round">
<path d="M26.6 530.0C30.5 529.6 42.3 528.2 50.1 527.7C57.9 527.1 65.4 527.1 73.6 526.8C81.8 526.5 90.9 526.0 99.5 525.9C108.1 525.7 117.4 526.0 125.4 525.9C133.4 525.8 140.1 525.2 147.4 525.1C154.7 524.9 161.2 524.9 169.4 525.1C177.6 525.2 187.4 525.1 196.4 525.9C205.4 526.7 218.9 529.3 223.4 530.0" stroke="#585858"/>
<path d="M26.6 530.0C30.5 529.2 42.3 526.1 50.1 525.1C57.9 524.0 65.4 524.1 73.6 523.7C81.8 523.2 90.9 522.6 99.5 522.4C108.1 522.2 117.4 522.4 125.4 522.4C133.4 522.4 140.1 522.4 147.4 522.4C154.7 522.4 161.2 522.1 169.4 522.4C177.6 522.7 187.4 523.0 196.4 524.2C205.4 525.5 218.9 529.0 223.4 530.0" stroke="#e8434a"/>
<path d="M26.6 530.0C30.5 528.7 42.3 524.0 50.1 522.4C57.9 520.9 65.4 521.1 73.6 520.7C81.8 520.2 90.9 520.3 99.5 519.7C108.1 519.1 117.4 517.3 125.4 517.1C133.4 517.0 140.1 518.5 147.4 518.9C154.7 519.3 161.2 519.6 169.4 519.7C177.6 519.9 190.1 519.4 196.4 519.7C202.7 520.0 202.7 519.9 207.2 521.6C211.7 523.3 220.7 528.6 223.4 530.0" stroke="#2470e0"/>
<path d="M26.6 516.2C30.5 516.3 42.3 516.8 50.1 517.1C57.9 517.4 65.4 517.8 73.6 518.0C81.8 518.2 90.9 518.6 99.5 518.3C108.1 518.0 117.4 516.4 125.4 516.2C133.4 516.0 140.1 516.8 147.4 517.1C154.7 517.4 161.2 518.1 169.4 518.0C177.6 517.8 187.4 516.5 196.4 516.2C205.4 515.9 218.9 516.2 223.4 516.2" stroke="#33a866"/>
<path d="M26.6 513.6C30.5 513.6 42.3 513.5 50.1 513.6C57.9 513.7 65.4 513.9 73.6 514.1C81.8 514.3 90.9 514.7 99.5 514.8C108.1 514.8 117.4 514.4 125.4 514.4C133.4 514.4 140.1 514.6 147.4 514.8C154.7 514.9 161.2 515.4 169.4 515.3C177.6 515.3 187.4 514.7 196.4 514.4C205.4 514.1 218.9 513.7 223.4 513.6" stroke="#b884ea"/>
<path d="M26.6 511.8C30.5 512.1 42.3 513.0 50.1 513.6C57.9 514.2 65.4 515.3 73.6 515.3C81.8 515.3 90.9 514.0 99.5 513.6C108.1 513.1 117.4 512.8 125.4 512.6C133.4 512.5 140.1 512.6 147.4 512.6C154.7 512.6 161.2 512.8 169.4 512.6C177.6 512.5 187.4 511.9 196.4 511.8C205.4 511.7 218.9 511.8 223.4 511.8" stroke="#d3a126"/>
<path d="M26.6 510.0C30.5 509.9 42.3 509.5 50.1 509.5C57.9 509.5 65.4 509.8 73.6 510.0C81.8 510.3 90.9 510.7 99.5 510.9C108.1 511.1 117.4 511.2 125.4 511.2C133.4 511.2 140.1 510.9 147.4 510.9C154.7 510.9 161.2 510.9 169.4 511.2C177.6 511.5 187.4 512.8 196.4 512.6C205.4 512.4 218.9 510.5 223.4 510.0" stroke="#22cccc"/>
<path d="M26.6 508.2C30.5 508.2 42.3 508.2 50.1 508.2C57.9 508.3 65.4 508.4 73.6 508.7C81.8 509.0 90.9 510.0 99.5 510.0C108.1 510.1 117.4 509.2 125.4 509.1C133.4 509.0 140.1 509.3 147.4 509.5C154.7 509.6 161.2 510.1 169.4 510.0C177.6 510.0 187.4 509.4 196.4 509.1C205.4 508.8 218.9 508.4 223.4 508.2" stroke="#885a5e"/>
<path d="M26.6 505.5C30.5 505.7 42.3 506.2 50.1 506.5C57.9 506.8 65.4 506.9 73.6 507.3C81.8 507.7 90.9 508.8 99.5 509.1C108.1 509.4 117.4 509.1 125.4 509.1C133.4 509.0 140.1 509.0 147.4 508.7C154.7 508.4 161.2 507.7 169.4 507.3C177.6 506.9 187.4 506.8 196.4 506.5C205.4 506.2 218.9 505.7 223.4 505.5" stroke="#9e9c18"/>
<path d="M26.6 507.3C30.5 507.3 42.3 507.4 50.1 507.3C57.9 507.2 65.4 507.1 73.6 506.9C81.8 506.8 90.9 506.4 99.5 506.5C108.1 506.5 117.4 507.2 125.4 507.3C133.4 507.4 140.1 507.1 147.4 506.9C154.7 506.8 161.2 506.5 169.4 506.5C177.6 506.5 187.4 506.8 196.4 506.9C205.4 507.1 218.9 507.2 223.4 507.3" stroke="#f26d12"/>
<path d="M26.6 504.7C30.5 504.7 42.3 504.8 50.1 504.7C57.9 504.6 65.4 504.2 73.6 504.1C81.8 504.0 90.9 504.1 99.5 504.1C108.1 504.1 117.4 504.0 125.4 504.1C133.4 504.2 140.1 504.5 147.4 504.7C154.7 504.9 161.2 505.1 169.4 505.3C177.6 505.4 187.4 505.6 196.4 505.5C205.4 505.4 218.9 504.8 223.4 504.7" stroke="#6d9dd8"/>
<path d="M26.6 503.8C30.5 503.8 42.3 503.8 50.1 503.8C57.9 503.7 65.4 503.5 73.6 503.4C81.8 503.2 90.9 503.0 99.5 502.9C108.1 502.8 117.4 502.8 125.4 502.9C133.4 503.1 140.1 503.6 147.4 503.8C154.7 504.0 161.2 504.0 169.4 504.1C177.6 504.3 187.4 504.8 196.4 504.7C205.4 504.6 218.9 503.9 223.4 503.8" stroke="#5fb50c"/>
<path d="M26.6 502.9C30.5 502.8 42.3 502.2 50.1 502.0C57.9 501.8 65.4 501.8 73.6 501.7C81.8 501.6 90.9 501.4 99.5 501.1C108.1 500.9 117.4 500.2 125.4 500.2C133.4 500.2 140.1 500.9 147.4 501.1C154.7 501.4 161.2 501.8 169.4 502.0C177.6 502.1 187.4 501.8 196.4 502.0C205.4 502.1 218.9 502.8 223.4 502.9" stroke="#585858"/>
<path d="M26.6 502.0C30.5 501.7 42.3 500.6 50.1 500.2C57.9 499.9 65.4 500.0 73.6 499.9C81.8 499.9 90.9 499.9 99.5 499.9C108.1 499.9 117.4 499.9 125.4 499.9C133.4 500.0 140.1 500.1 147.4 500.2C154.7 500.3 161.2 500.3 169.4 500.6C177.6 500.8 187.4 501.5 196.4 501.7C205.4 501.9 218.9 501.9 223.4 502.0" stroke="#e8434a"/>
<path d="M26.6 500.2C30.5 499.9 42.3 498.8 50.1 498.4C57.9 498.1 65.4 498.2 73.6 498.2C81.8 498.2 90.9 498.3 99.5 498.4C108.1 498.5 117.4 498.7 125.4 498.8C133.4 499.0 140.1 499.4 147.4 499.4C154.7 499.3 161.2 498.4 169.4 498.4C177.6 498.4 187.4 499.1 196.4 499.4C205.4 499.7 218.9 500.1 223.4 500.2" stroke="#2470e0"/>
<path d="M26.6 497.0C30.5 497.1 42.3 497.5 50.1 497.6C57.9 497.7 65.4 497.7 73.6 497.6C81.8 497.5 90.9 496.9 99.5 497.0C108.1 497.1 117.4 498.1 125.4 498.2C133.4 498.3 140.1 497.8 147.4 497.6C154.7 497.4 161.2 497.0 169.4 497.0C177.6 497.0 187.4 497.6 196.4 497.6C205.4 497.6 218.9 497.1 223.4 497.0" stroke="#33a866"/>
<path d="M26.6 495.8C30.5 495.8 42.3 495.8 50.1 495.8C57.9 495.8 65.4 495.7 73.6 495.8C81.8 496.0 90.9 496.5 99.5 496.7C108.1 496.8 117.4 496.7 125.4 496.7C133.4 496.6 140.1 496.5 147.4 496.4C154.7 496.2 161.2 495.9 169.4 495.8C177.6 495.7 187.4 495.8 196.4 495.8C205.4 495.8 218.9 495.8 223.4 495.8" stroke="#b884ea"/>
<path d="M26.6 495.0C30.5 494.9 42.3 494.8 50.1 494.6C57.9 494.5 65.4 494.0 73.6 494.1C81.8 494.1 90.9 494.6 99.5 495.0C108.1 495.4 117.4 496.3 125.4 496.4C133.4 496.4 140.1 495.6 147.4 495.3C154.7 495.0 161.2 494.7 169.4 494.6C177.6 494.5 187.4 494.5 196.4 494.6C205.4 494.7 218.9 494.9 223.4 495.0" stroke="#d3a126"/>
<path d="M26.6 493.2C30.5 493.2 42.3 493.4 50.1 493.2C57.9 493.1 65.4 492.5 73.6 492.3C81.8 492.0 90.9 491.9 99.5 491.7C108.1 491.6 117.4 491.5 125.4 491.4C133.4 491.4 140.1 491.3 147.4 491.4C154.7 491.6 161.2 492.0 169.4 492.3C177.6 492.5 187.4 492.7 196.4 492.8C205.4 493.0 218.9 493.1 223.4 493.2" stroke="#22cccc"/>
<path d="M26.6 491.1C30.5 491.0 42.3 490.6 50.1 490.5C57.9 490.4 65.4 490.5 73.6 490.5C81.8 490.5 90.9 490.8 99.5 490.5C108.1 490.2 117.4 488.9 125.4 488.7C133.4 488.5 140.1 489.1 147.4 489.3C154.7 489.4 161.2 489.4 169.4 489.6C177.6 489.8 187.4 490.3 196.4 490.5C205.4 490.8 218.9 491.0 223.4 491.1" stroke="#885a5e"/>
<path d="M26.6 482.6C30.5 482.6 42.3 482.9 50.1 482.9C57.9 483.0 65.4 482.8 73.6 482.9C81.8 483.1 90.9 483.6 99.5 484.0C108.1 484.3 117.4 485.0 125.4 485.2C133.4 485.4 140.1 485.1 147.4 485.2C154.7 485.3 161.2 485.9 169.4 485.7C177.6 485.5 187.4 484.5 196.4 484.0C205.4 483.4 218.9 482.8 223.4 482.6" stroke="#9e9c18"/>
<path d="M26.6 476.9C30.5 476.9 42.3 476.9 50.1 476.9C57.9 476.9 65.4 476.9 73.6 476.9C81.8 476.9 90.9 476.9 99.5 476.9C108.1 476.9 117.4 476.9 125.4 476.9C133.4 476.9 140.1 476.9 147.4 476.9C154.7 476.9 161.2 476.9 169.4 476.9C177.6 476.9 187.4 476.9 196.4 476.9C205.4 476.9 218.9 476.9 223.4 476.9" stroke="#f26d12"/>
<path d="M26.6 472.8C30.5 472.8 42.3 472.8 50.1 472.8C57.9 472.7 65.4 472.5 73.6 472.3C81.8 472.1 90.9 471.8 99.5 471.5C108.1 471.3 117.4 470.6 125.4 470.5C133.4 470.4 140.1 470.9 147.4 471.0C154.7 471.1 161.2 470.8 169.4 471.0C177.6 471.1 187.4 471.6 196.4 471.9C205.4 472.2 218.9 472.6 223.4 472.8" stroke="#6d9dd8"/>
<path d="M26.6 466.6C30.5 466.6 42.3 466.7 50.1 466.6C57.9 466.5 65.4 466.2 73.6 466.2C81.8 466.2 90.9 466.5 99.5 466.6C108.1 466.7 117.4 466.9 125.4 467.0C133.4 467.0 140.1 467.0 147.4 467.0C154.7 467.0 161.2 467.0 169.4 467.0C177.6 466.9 187.4 466.7 196.4 466.6C205.4 466.5 218.9 466.6 223.4 466.6" stroke="#5fb50c"/>
<path d="M26.6 444.5C30.5 444.4 42.3 444.0 50.1 443.9C57.9 443.8 65.4 443.7 73.6 443.9C81.8 444.1 90.9 444.7 99.5 444.9C108.1 445.2 117.4 445.2 125.4 445.3C133.4 445.4 140.1 445.4 147.4 445.3C154.7 445.2 161.2 445.1 169.4 444.9C177.6 444.8 187.4 444.5 196.4 444.5C205.4 444.4 218.9 444.5 223.4 444.5" stroke="#585858"/>
<path d="M26.6 432.0C30.5 432.0 42.3 432.0 50.1 432.0C57.9 432.0 65.4 432.1 73.6 432.0C81.8 432.0 90.9 431.6 99.5 431.5C108.1 431.4 117.4 431.6 125.4 431.5C133.4 431.4 140.1 430.9 147.4 430.8C154.7 430.7 161.2 430.8 169.4 430.8C177.6 430.8 187.4 430.6 196.4 430.8C205.4 431.0 218.9 431.8 223.4 432.0" stroke="#e8434a"/>
<path d="M26.6 415.5C30.5 415.5 42.3 415.6 50.1 415.5C57.9 415.5 65.4 415.4 73.6 415.2C81.8 415.0 90.9 414.8 99.5 414.3C108.1 413.9 117.4 412.7 125.4 412.5C133.4 412.4 140.1 413.2 147.4 413.5C154.7 413.8 161.2 414.2 169.4 414.3C177.6 414.4 187.4 414.1 196.4 414.3C205.4 414.5 218.9 415.3 223.4 415.5" stroke="#2470e0"/>
<path d="M26.6 413.7C30.5 413.7 42.3 413.5 50.1 413.5C57.9 413.4 65.4 413.5 73.6 413.5C81.8 413.4 90.9 413.3 99.5 413.1C108.1 412.9 117.4 412.3 125.4 412.1C133.4 411.8 140.1 411.8 147.4 411.7C154.7 411.6 161.2 411.6 169.4 411.7C177.6 411.8 187.4 412.2 196.4 412.5C205.4 412.8 218.9 413.3 223.4 413.5" stroke="#33a866"/>
<path d="M26.6 405.4C30.5 405.1 42.3 403.6 50.1 403.2C57.9 402.8 65.4 403.1 73.6 402.8C81.8 402.5 90.9 401.7 99.5 401.4C108.1 401.1 117.4 401.0 125.4 401.0C133.4 401.1 140.1 401.6 147.4 401.9C154.7 402.2 161.2 402.7 169.4 402.8C177.6 403.0 187.4 402.4 196.4 402.8C205.4 403.3 218.9 405.0 223.4 405.4" stroke="#b884ea"/>
<path d="M26.6 399.6C30.5 399.6 42.3 399.6 50.1 399.6C57.9 399.6 65.4 399.6 73.6 399.6C81.8 399.7 90.9 400.6 99.5 400.2C108.1 399.9 117.4 397.8 125.4 397.5C133.4 397.2 140.1 398.0 147.4 398.3C154.7 398.6 161.2 398.9 169.4 399.3C177.6 399.7 187.4 400.6 196.4 400.7C205.4 400.7 218.9 399.8 223.4 399.6" stroke="#d3a126"/>
</g>
<line x1="73.6" y1="380.6" x2="73.6" y2="539.3375" stroke="#dcc4fc" stroke-width="1.1"/>
<line x1="73.6" y1="380.6" x2="73.6" y2="539.3375" stroke="#8d3cf4" stroke-width="1.35" stroke-dasharray="1.05 1.05"/>
<line x1="125.4" y1="380.6" x2="125.4" y2="539.3375" stroke="#dcc4fc" stroke-width="1.1"/>
<line x1="125.4" y1="380.6" x2="125.4" y2="539.3375" stroke="#8d3cf4" stroke-width="1.35" stroke-dasharray="1.05 1.05"/>
<line x1="169.4" y1="380.6" x2="169.4" y2="539.3375" stroke="#dcc4fc" stroke-width="1.1"/>
<line x1="169.4" y1="380.6" x2="169.4" y2="539.3375" stroke="#8d3cf4" stroke-width="1.35" stroke-dasharray="1.05 1.05"/>
<line x1="28.05" y1="530.4" x2="223.4" y2="530.4" stroke="#000" stroke-width="2" stroke-dasharray="2 1.8"/>
<rect x="26.6" y="380.6" width="196.8" height="158.73749999999995" fill="none" stroke="#2a2a2a" stroke-width="1.25"/>
<line x1="26.6" y1="530.00" x2="30.0" y2="530.00" stroke="#2a2a2a" stroke-width="1"/>
<text x="23.0" y="532.70" text-anchor="end" class="tk">0</text>
<line x1="26.6" y1="520.66" x2="28.400000000000002" y2="520.66" stroke="#2a2a2a" stroke-width="0.9"/>
<line x1="26.6" y1="511.32" x2="30.0" y2="511.32" stroke="#2a2a2a" stroke-width="1"/>
<text x="23.0" y="514.02" text-anchor="end" class="tk">2</text>
<line x1="26.6" y1="501.99" x2="28.400000000000002" y2="501.99" stroke="#2a2a2a" stroke-width="0.9"/>
<line x1="26.6" y1="492.65" x2="30.0" y2="492.65" stroke="#2a2a2a" stroke-width="1"/>
<text x="23.0" y="495.35" text-anchor="end" class="tk">4</text>
<line x1="26.6" y1="483.31" x2="28.400000000000002" y2="483.31" stroke="#2a2a2a" stroke-width="0.9"/>
<line x1="26.6" y1="473.98" x2="30.0" y2="473.98" stroke="#2a2a2a" stroke-width="1"/>
<text x="23.0" y="476.68" text-anchor="end" class="tk">6</text>
<line x1="26.6" y1="464.64" x2="28.400000000000002" y2="464.64" stroke="#2a2a2a" stroke-width="0.9"/>
<line x1="26.6" y1="455.30" x2="30.0" y2="455.30" stroke="#2a2a2a" stroke-width="1"/>
<text x="23.0" y="458.00" text-anchor="end" class="tk">8</text>
<line x1="26.6" y1="445.96" x2="28.400000000000002" y2="445.96" stroke="#2a2a2a" stroke-width="0.9"/>
<line x1="26.6" y1="436.62" x2="30.0" y2="436.62" stroke="#2a2a2a" stroke-width="1"/>
<text x="23.0" y="439.32" text-anchor="end" class="tk">10</text>
<line x1="26.6" y1="427.29" x2="28.400000000000002" y2="427.29" stroke="#2a2a2a" stroke-width="0.9"/>
<line x1="26.6" y1="417.95" x2="30.0" y2="417.95" stroke="#2a2a2a" stroke-width="1"/>
<text x="23.0" y="420.65" text-anchor="end" class="tk">12</text>
<line x1="26.6" y1="408.61" x2="28.400000000000002" y2="408.61" stroke="#2a2a2a" stroke-width="0.9"/>
<line x1="26.6" y1="399.28" x2="30.0" y2="399.28" stroke="#2a2a2a" stroke-width="1"/>
<text x="23.0" y="401.98" text-anchor="end" class="tk">14</text>
<line x1="26.6" y1="389.94" x2="28.400000000000002" y2="389.94" stroke="#2a2a2a" stroke-width="0.9"/>
<line x1="26.6" y1="380.60" x2="30.0" y2="380.60" stroke="#2a2a2a" stroke-width="1"/>
<text x="23.0" y="383.30" text-anchor="end" class="tk">16</text>
<text transform="translate(29.1,547.44) scale(1.1,1)" text-anchor="middle" class="kl">G</text>
<text transform="translate(72.7,547.44) scale(1.1,1)" text-anchor="middle" class="kl">F</text>
<text transform="translate(125.0,547.44) scale(1.1,1)" text-anchor="middle" class="kl">Q</text>
<text transform="translate(168.4,547.44) scale(1.1,1)" text-anchor="middle" class="kl">Z</text>
<text transform="translate(220.7,547.44) scale(1.1,1)" text-anchor="middle" class="kl">G</text>
<text x="119.7" y="377.2" text-anchor="middle" class="tt">KSiSe<tspan font-size="7.2" dy="2.3">3</tspan></text>
<text transform="translate(10.0,460.7) rotate(-90)" text-anchor="middle" class="yl">Frequancy (THz)</text>
<clipPath id="c8"><rect x="258.0" y="381.0" width="197.39999999999998" height="159.06000000000006"/></clipPath>
<g clip-path="url(#c8)" fill="none" stroke-width="1.6" stroke-linejoin="round" stroke-linecap="round">
<path d="M258.0 525.6C261.9 525.1 273.7 523.5 281.5 522.7C289.3 521.9 296.7 521.6 305.0 521.0C313.3 520.4 322.5 519.2 331.3 519.1C340.1 518.9 349.5 520.2 357.6 520.1C365.7 520.0 372.4 518.5 379.8 518.2C387.2 518.0 393.9 518.3 402.0 518.7C410.1 519.0 419.8 518.9 428.7 520.1C437.6 521.3 450.9 524.7 455.4 525.6" stroke="#585858"/>
<path d="M258.0 525.6C261.9 524.7 273.7 521.5 281.5 520.1C289.3 518.7 296.7 518.2 305.0 517.4C313.3 516.5 322.5 515.3 331.3 515.2C340.1 515.0 349.5 516.6 357.6 516.5C365.7 516.4 372.4 515.0 379.8 514.8C387.2 514.5 393.9 514.5 402.0 514.8C410.1 515.0 419.8 514.7 428.7 516.5C437.6 518.3 450.9 524.1 455.4 525.6" stroke="#e8434a"/>
<path d="M258.0 525.6C260.0 524.6 265.8 521.5 269.8 519.8C273.7 518.2 275.6 517.0 281.5 515.6C287.4 514.2 296.7 512.0 305.0 511.3C313.3 510.6 322.5 511.7 331.3 511.3C340.1 510.8 349.5 508.4 357.6 508.5C365.7 508.7 372.4 511.5 379.8 512.0C387.2 512.5 393.9 511.3 402.0 511.3C410.1 511.2 422.5 511.5 428.7 511.7C434.9 511.9 434.9 510.3 439.4 512.6C443.8 514.9 452.7 523.4 455.4 525.6" stroke="#2470e0"/>
<path d="M258.0 504.1C261.9 504.6 273.7 506.9 281.5 507.1C289.3 507.3 296.7 504.9 305.0 505.4C313.3 505.8 322.5 509.6 331.3 510.0C340.1 510.4 349.5 507.9 357.6 507.7C365.7 507.4 372.4 508.2 379.8 508.5C387.2 508.8 393.9 509.7 402.0 509.4C410.1 509.1 419.8 507.7 428.7 506.8C437.6 505.9 450.9 504.5 455.4 504.1" stroke="#33a866"/>
<path d="M258.0 501.5C261.9 501.5 273.7 501.5 281.5 501.7C289.3 502.0 296.7 502.8 305.0 503.2C313.3 503.6 322.5 503.8 331.3 504.1C340.1 504.3 349.5 504.4 357.6 504.6C365.7 504.8 372.4 505.2 379.8 505.4C387.2 505.5 393.9 505.6 402.0 505.4C410.1 505.1 419.8 504.6 428.7 504.1C437.6 503.5 450.9 502.6 455.4 502.3" stroke="#b884ea"/>
<path d="M258.0 501.0C261.9 501.2 273.7 501.8 281.5 502.3C289.3 502.8 296.7 504.1 305.0 504.1C313.3 504.1 322.5 502.6 331.3 502.3C340.1 502.0 349.5 502.5 357.6 502.3C365.7 502.2 372.4 501.6 379.8 501.5C387.2 501.3 393.9 501.2 402.0 501.5C410.1 501.7 419.8 503.3 428.7 503.2C437.6 503.1 450.9 501.4 455.4 501.0" stroke="#d3a126"/>
<path d="M258.0 499.3C261.9 499.3 273.7 499.2 281.5 499.3C289.3 499.3 296.7 499.5 305.0 499.6C313.3 499.6 322.5 499.3 331.3 499.6C340.1 499.8 349.5 500.8 357.6 501.0C365.7 501.2 372.4 500.6 379.8 500.6C387.2 500.6 393.9 500.9 402.0 501.0C410.1 501.2 419.8 501.7 428.7 501.5C437.6 501.2 450.9 499.6 455.4 499.3" stroke="#22cccc"/>
<path d="M258.0 496.4C261.9 496.3 273.7 496.1 281.5 496.1C289.3 496.1 296.7 495.9 305.0 496.1C313.3 496.3 322.5 497.5 331.3 497.5C340.1 497.5 349.5 496.3 357.6 496.1C365.7 495.9 372.4 496.1 379.8 496.1C387.2 496.1 393.9 496.4 402.0 496.4C410.1 496.4 419.8 496.1 428.7 496.1C437.6 496.1 450.9 496.3 455.4 496.4" stroke="#885a5e"/>
<path d="M258.0 493.5C261.9 493.5 273.7 493.4 281.5 493.5C289.3 493.6 296.7 493.9 305.0 494.4C313.3 494.8 322.5 496.0 331.3 496.1C340.1 496.2 349.5 495.5 357.6 495.2C365.7 494.9 372.4 494.8 379.8 494.4C387.2 493.9 393.9 492.2 402.0 492.5C410.1 492.8 419.8 495.9 428.7 496.1C437.6 496.3 450.9 493.9 455.4 493.5" stroke="#9e9c18"/>
<path d="M258.0 492.5C261.9 492.5 273.7 492.5 281.5 492.5C289.3 492.5 296.7 492.7 305.0 492.5C313.3 492.3 322.5 490.9 331.3 491.2C340.1 491.4 349.5 493.5 357.6 493.9C365.7 494.3 372.4 493.8 379.8 493.5C387.2 493.2 393.9 492.2 402.0 492.2C410.1 492.2 419.8 493.5 428.7 493.5C437.6 493.5 450.9 492.7 455.4 492.5" stroke="#f26d12"/>
<path d="M258.0 491.2C261.9 491.2 273.7 491.2 281.5 491.2C289.3 491.2 296.7 491.3 305.0 491.2C313.3 491.1 322.5 490.8 331.3 490.5C340.1 490.1 349.5 489.0 357.6 489.0C365.7 489.0 372.4 490.1 379.8 490.5C387.2 490.8 393.9 491.1 402.0 491.2C410.1 491.3 419.8 491.2 428.7 491.2C437.6 491.2 450.9 491.2 455.4 491.2" stroke="#6d9dd8"/>
<path d="M258.0 489.9C261.9 489.9 273.7 489.8 281.5 489.9C289.3 490.0 296.7 490.8 305.0 490.5C313.3 490.2 322.5 488.5 331.3 488.1C340.1 487.8 349.5 488.2 357.6 488.1C365.7 488.1 372.4 487.7 379.8 487.6C387.2 487.4 393.9 487.2 402.0 487.3C410.1 487.4 419.8 487.7 428.7 488.1C437.6 488.6 450.9 489.6 455.4 489.9" stroke="#5fb50c"/>
<path d="M258.0 487.3C261.9 487.0 273.7 485.9 281.5 485.4C289.3 484.9 296.7 484.5 305.0 484.5C313.3 484.5 322.5 485.1 331.3 485.4C340.1 485.7 349.5 486.3 357.6 486.3C365.7 486.3 372.4 485.7 379.8 485.4C387.2 485.1 393.9 484.5 402.0 484.5C410.1 484.5 419.8 484.9 428.7 485.4C437.6 485.9 450.9 487.0 455.4 487.3" stroke="#585858"/>
<path d="M258.0 486.3C261.9 486.0 273.7 485.1 281.5 484.5C289.3 484.0 296.7 482.9 305.0 482.8C313.3 482.7 322.5 483.7 331.3 483.7C340.1 483.7 349.5 482.8 357.6 482.8C365.7 482.8 372.4 483.2 379.8 483.7C387.2 484.1 393.9 485.2 402.0 485.4C410.1 485.6 419.8 485.0 428.7 485.1C437.6 485.3 450.9 486.1 455.4 486.3" stroke="#e8434a"/>
<path d="M258.0 480.1C261.9 480.1 273.7 480.1 281.5 480.1C289.3 480.1 296.7 479.9 305.0 480.1C313.3 480.2 322.5 481.2 331.3 481.1C340.1 480.9 349.5 479.2 357.6 479.2C365.7 479.2 372.4 480.7 379.8 481.1C387.2 481.4 393.9 481.0 402.0 481.1C410.1 481.1 419.8 481.7 428.7 481.5C437.6 481.3 450.9 480.3 455.4 480.1" stroke="#2470e0"/>
<path d="M258.0 479.2C261.9 479.2 273.7 479.2 281.5 479.2C289.3 479.2 296.7 479.2 305.0 479.2C313.3 479.2 322.5 479.3 331.3 479.2C340.1 479.0 349.5 478.5 357.6 478.3C365.7 478.2 372.4 478.3 379.8 478.3C387.2 478.3 393.9 478.2 402.0 478.3C410.1 478.5 419.8 479.0 428.7 479.2C437.6 479.3 450.9 479.2 455.4 479.2" stroke="#33a866"/>
<path d="M258.0 478.3C261.9 478.2 273.7 477.6 281.5 477.4C289.3 477.3 296.7 477.4 305.0 477.4C313.3 477.4 322.5 477.6 331.3 477.4C340.1 477.3 349.5 476.8 357.6 476.6C365.7 476.4 372.4 476.4 379.8 476.3C387.2 476.1 393.9 475.7 402.0 475.7C410.1 475.7 419.8 475.9 428.7 476.3C437.6 476.7 450.9 478.0 455.4 478.3" stroke="#b884ea"/>
<path d="M258.0 474.8C261.9 474.8 273.7 474.6 281.5 474.8C289.3 475.1 296.7 476.1 305.0 476.3C313.3 476.4 322.5 475.8 331.3 475.7C340.1 475.6 349.5 475.9 357.6 475.7C365.7 475.6 372.4 475.2 379.8 474.8C387.2 474.5 393.9 473.4 402.0 473.4C410.1 473.4 419.8 474.6 428.7 474.8C437.6 475.1 450.9 474.8 455.4 474.8" stroke="#d3a126"/>
<path d="M258.0 472.7C261.9 472.4 273.7 471.2 281.5 471.2C289.3 471.2 296.7 472.5 305.0 472.7C313.3 472.8 322.5 471.9 331.3 472.1C340.1 472.3 349.5 473.8 357.6 473.8C365.7 473.8 372.4 472.5 379.8 472.1C387.2 471.7 393.9 471.7 402.0 471.7C410.1 471.7 419.8 471.9 428.7 472.1C437.6 472.3 450.9 472.6 455.4 472.7" stroke="#22cccc"/>
<path d="M258.0 470.4C261.9 470.1 273.7 469.4 281.5 468.6C289.3 467.9 296.7 466.0 305.0 465.9C313.3 465.7 322.5 467.2 331.3 467.8C340.1 468.4 349.5 469.2 357.6 469.5C365.7 469.8 372.4 469.6 379.8 469.8C387.2 469.9 393.9 470.3 402.0 470.4C410.1 470.5 419.8 470.4 428.7 470.4C437.6 470.4 450.9 470.4 455.4 470.4" stroke="#885a5e"/>
<path d="M258.0 462.7C261.9 462.8 273.7 463.3 281.5 463.3C289.3 463.3 296.7 462.5 305.0 462.7C313.3 462.9 322.5 464.0 331.3 464.6C340.1 465.1 349.5 465.5 357.6 465.9C365.7 466.2 372.4 466.4 379.8 466.7C387.2 467.1 393.9 468.0 402.0 467.8C410.1 467.5 419.8 465.9 428.7 465.0C437.6 464.2 450.9 463.1 455.4 462.7" stroke="#9e9c18"/>
<path d="M258.0 446.4C261.9 446.4 273.7 446.4 281.5 446.4C289.3 446.3 296.7 446.2 305.0 446.1C313.3 445.9 322.5 445.7 331.3 445.5C340.1 445.3 349.5 445.1 357.6 445.1C365.7 445.0 372.4 445.1 379.8 445.1C387.2 445.1 393.9 445.0 402.0 445.1C410.1 445.1 419.8 445.3 428.7 445.5C437.6 445.7 450.9 446.2 455.4 446.4" stroke="#f26d12"/>
<path d="M258.0 445.5C261.9 445.6 273.7 446.0 281.5 446.1C289.3 446.2 296.7 446.5 305.0 446.1C313.3 445.7 322.5 444.3 331.3 443.8C340.1 443.2 349.5 443.0 357.6 442.9C365.7 442.7 372.4 442.8 379.8 442.9C387.2 442.9 393.9 442.9 402.0 443.2C410.1 443.4 419.8 443.9 428.7 444.3C437.6 444.7 450.9 445.3 455.4 445.5" stroke="#6d9dd8"/>
<path d="M258.0 436.7C261.9 436.7 273.7 436.7 281.5 436.7C289.3 436.7 296.7 436.7 305.0 436.7C313.3 436.7 322.5 436.7 331.3 436.7C340.1 436.7 349.5 436.7 357.6 436.7C365.7 436.7 372.4 436.7 379.8 436.7C387.2 436.7 393.9 436.7 402.0 436.7C410.1 436.7 419.8 436.7 428.7 436.7C437.6 436.7 450.9 436.7 455.4 436.7" stroke="#5fb50c"/>
<path d="M258.0 432.2C261.9 432.1 273.7 432.0 281.5 431.9C289.3 431.8 296.7 431.0 305.0 431.3C313.3 431.6 322.5 433.0 331.3 433.6C340.1 434.2 349.5 434.7 357.6 434.9C365.7 435.2 372.4 434.9 379.8 434.9C387.2 434.9 393.9 435.2 402.0 434.9C410.1 434.7 419.8 434.1 428.7 433.6C437.6 433.2 450.9 432.4 455.4 432.2" stroke="#585858"/>
<path d="M258.0 421.9C261.9 421.8 273.7 421.3 281.5 421.5C289.3 421.7 296.7 423.2 305.0 422.9C313.3 422.7 322.5 420.8 331.3 420.2C340.1 419.6 349.5 419.7 357.6 419.5C365.7 419.2 372.4 419.0 379.8 418.9C387.2 418.8 393.9 418.8 402.0 418.9C410.1 419.0 419.8 418.9 428.7 419.5C437.6 420.1 450.9 422.0 455.4 422.5" stroke="#e8434a"/>
<path d="M258.0 409.5C261.9 409.3 273.7 408.6 281.5 408.3C289.3 408.0 296.7 408.1 305.0 407.8C313.3 407.4 322.5 407.0 331.3 406.4C340.1 405.9 349.5 404.7 357.6 404.7C365.7 404.7 372.4 406.2 379.8 406.4C387.2 406.7 393.9 406.4 402.0 406.4C410.1 406.4 419.8 405.9 428.7 406.4C437.6 407.0 450.9 409.0 455.4 409.5" stroke="#2470e0"/>
<path d="M258.0 403.0C261.9 403.0 273.7 403.0 281.5 403.0C289.3 403.0 296.7 402.8 305.0 403.0C313.3 403.1 322.5 403.6 331.3 403.8C340.1 404.1 349.5 404.8 357.6 404.7C365.7 404.6 372.4 403.7 379.8 403.4C387.2 403.1 393.9 402.9 402.0 403.0C410.1 403.1 419.8 403.8 428.7 403.8C437.6 403.8 450.9 403.1 455.4 403.0" stroke="#33a866"/>
<path d="M258.0 397.1C261.9 396.8 273.7 395.8 281.5 395.3C289.3 394.8 296.7 394.1 305.0 394.0C313.3 394.0 322.5 394.7 331.3 395.0C340.1 395.3 349.5 395.7 357.6 395.9C365.7 396.1 372.4 396.2 379.8 396.3C387.2 396.5 393.9 396.8 402.0 396.8C410.1 396.8 419.8 396.3 428.7 396.3C437.6 396.4 450.9 396.9 455.4 397.1" stroke="#b884ea"/>
<path d="M258.0 394.0C261.9 394.0 273.7 394.0 281.5 394.0C289.3 394.0 296.7 394.4 305.0 394.0C313.3 393.6 322.5 392.1 331.3 391.4C340.1 390.7 349.5 390.1 357.6 390.0C365.7 389.8 372.4 390.2 379.8 390.5C387.2 390.9 393.9 391.3 402.0 391.8C410.1 392.4 419.8 393.7 428.7 394.0C437.6 394.4 450.9 394.0 455.4 394.0" stroke="#d3a126"/>
</g>
<line x1="305.0" y1="381.0" x2="305.0" y2="540.0600000000001" stroke="#dcc4fc" stroke-width="1.1"/>
<line x1="305.0" y1="381.0" x2="305.0" y2="540.0600000000001" stroke="#8d3cf4" stroke-width="1.35" stroke-dasharray="1.05 1.05"/>
<line x1="357.6" y1="381.0" x2="357.6" y2="540.0600000000001" stroke="#dcc4fc" stroke-width="1.1"/>
<line x1="357.6" y1="381.0" x2="357.6" y2="540.0600000000001" stroke="#8d3cf4" stroke-width="1.35" stroke-dasharray="1.05 1.05"/>
<line x1="402.0" y1="381.0" x2="402.0" y2="540.0600000000001" stroke="#dcc4fc" stroke-width="1.1"/>
<line x1="402.0" y1="381.0" x2="402.0" y2="540.0600000000001" stroke="#8d3cf4" stroke-width="1.35" stroke-dasharray="1.05 1.05"/>
<line x1="259.45" y1="526.0" x2="455.4" y2="526.0" stroke="#000" stroke-width="2" stroke-dasharray="2 1.8"/>
<rect x="258.0" y="381.0" width="197.39999999999998" height="159.06000000000006" fill="none" stroke="#2a2a2a" stroke-width="1.25"/>
<line x1="258.0" y1="525.60" x2="261.4" y2="525.60" stroke="#2a2a2a" stroke-width="1"/>
<text x="254.4" y="528.30" text-anchor="end" class="tk">0</text>
<line x1="258.0" y1="511.14" x2="259.8" y2="511.14" stroke="#2a2a2a" stroke-width="0.9"/>
<line x1="258.0" y1="496.68" x2="261.4" y2="496.68" stroke="#2a2a2a" stroke-width="1"/>
<text x="254.4" y="499.38" text-anchor="end" class="tk">2</text>
<line x1="258.0" y1="482.22" x2="259.8" y2="482.22" stroke="#2a2a2a" stroke-width="0.9"/>
<line x1="258.0" y1="467.76" x2="261.4" y2="467.76" stroke="#2a2a2a" stroke-width="1"/>
<text x="254.4" y="470.46" text-anchor="end" class="tk">4</text>
<line x1="258.0" y1="453.30" x2="259.8" y2="453.30" stroke="#2a2a2a" stroke-width="0.9"/>
<line x1="258.0" y1="438.84" x2="261.4" y2="438.84" stroke="#2a2a2a" stroke-width="1"/>
<text x="254.4" y="441.54" text-anchor="end" class="tk">6</text>
<line x1="258.0" y1="424.38" x2="259.8" y2="424.38" stroke="#2a2a2a" stroke-width="0.9"/>
<line x1="258.0" y1="409.92" x2="261.4" y2="409.92" stroke="#2a2a2a" stroke-width="1"/>
<text x="254.4" y="412.62" text-anchor="end" class="tk">8</text>
<line x1="258.0" y1="395.46" x2="259.8" y2="395.46" stroke="#2a2a2a" stroke-width="0.9"/>
<line x1="258.0" y1="381.00" x2="261.4" y2="381.00" stroke="#2a2a2a" stroke-width="1"/>
<text x="254.4" y="383.70" text-anchor="end" class="tk">10</text>
<text transform="translate(260.8,548.16) scale(1.1,1)" text-anchor="middle" class="kl">G</text>
<text transform="translate(304.1,548.16) scale(1.1,1)" text-anchor="middle" class="kl">F</text>
<text transform="translate(357.0,548.16) scale(1.1,1)" text-anchor="middle" class="kl">Q</text>
<text transform="translate(401.1,548.16) scale(1.1,1)" text-anchor="middle" class="kl">Z</text>
<text transform="translate(452.8,548.16) scale(1.1,1)" text-anchor="middle" class="kl">G</text>
<text x="356.7" y="376.8" text-anchor="middle" class="tt">KGeSe<tspan font-size="7.2" dy="2.3">3</tspan></text>
<text transform="translate(243.7,462.8) rotate(-90)" text-anchor="middle" class="yl">Frequancy (THz)</text>
<clipPath id="c9"><rect x="483.0" y="382.0" width="197.0" height="159.06000000000006"/></clipPath>
<g clip-path="url(#c9)" fill="none" stroke-width="1.6" stroke-linejoin="round" stroke-linecap="round">
<path d="M483.0 526.6C486.9 526.0 498.7 523.8 506.5 522.8C514.3 521.9 521.7 521.4 530.0 521.1C538.3 520.8 547.5 521.0 556.3 521.1C565.1 521.2 574.5 522.0 582.6 522.0C590.7 522.0 597.4 521.2 604.8 521.1C612.2 521.0 618.9 521.4 627.0 521.5C635.1 521.7 644.7 521.1 653.5 522.0C662.3 522.8 675.6 525.8 680.0 526.6" stroke="#585858"/>
<path d="M483.0 526.6C486.9 525.4 498.7 520.9 506.5 519.2C514.3 517.6 521.7 517.1 530.0 516.6C538.3 516.1 547.5 516.0 556.3 516.2C565.1 516.3 574.5 517.4 582.6 517.5C590.7 517.6 597.4 516.6 604.8 516.6C612.2 516.6 618.9 517.4 627.0 517.5C635.1 517.5 644.7 515.4 653.5 516.9C662.3 518.4 675.6 525.0 680.0 526.6" stroke="#e8434a"/>
<path d="M483.0 526.6C485.0 525.5 490.8 521.8 494.8 520.1C498.7 518.4 500.6 517.3 506.5 516.6C512.4 515.9 523.9 515.8 530.0 515.8C536.1 515.8 538.8 516.5 543.1 516.6C547.5 516.8 551.9 517.1 556.3 516.6C560.7 516.1 565.1 514.0 569.5 513.6C573.8 513.1 576.7 513.5 582.6 513.9C588.5 514.2 597.4 515.4 604.8 515.8C612.2 516.1 620.2 516.3 627.0 516.2C633.8 516.1 641.1 515.6 645.5 515.0C650.0 514.5 650.4 512.7 653.5 512.7C656.6 512.7 659.7 512.7 664.1 515.0C668.5 517.3 677.4 524.7 680.0 526.6" stroke="#2470e0"/>
<path d="M483.0 507.4C486.9 507.6 498.7 508.4 506.5 508.7C514.3 509.0 521.7 508.8 530.0 509.1C538.3 509.4 547.5 510.2 556.3 510.4C565.1 510.6 574.5 510.7 582.6 510.4C590.7 510.1 597.4 509.1 604.8 508.7C612.2 508.2 618.9 507.9 627.0 507.8C635.1 507.7 644.7 507.9 653.5 507.8C662.3 507.7 675.6 507.4 680.0 507.4" stroke="#33a866"/>
<path d="M483.0 502.0C486.9 502.6 498.7 504.6 506.5 505.6C514.3 506.6 521.7 508.0 530.0 508.1C538.3 508.2 547.5 506.9 556.3 506.4C565.1 505.8 574.5 505.4 582.6 505.1C590.7 504.7 597.4 504.5 604.8 504.2C612.2 503.9 618.9 503.0 627.0 503.3C635.1 503.7 644.7 506.6 653.5 506.4C662.3 506.1 675.6 502.7 680.0 502.0" stroke="#b884ea"/>
<path d="M483.0 501.6C486.9 501.7 498.7 502.2 506.5 502.5C514.3 502.7 521.7 503.0 530.0 503.3C538.3 503.6 547.5 504.4 556.3 504.2C565.1 504.0 574.5 502.4 582.6 502.0C590.7 501.7 597.4 501.9 604.8 502.0C612.2 502.1 618.9 502.5 627.0 502.5C635.1 502.5 644.7 502.2 653.5 502.0C662.3 501.9 675.6 501.7 680.0 501.6" stroke="#d3a126"/>
<path d="M483.0 500.3C486.9 500.3 498.7 500.2 506.5 500.3C514.3 500.3 521.7 500.5 530.0 500.6C538.3 500.6 547.5 500.5 556.3 500.6C565.1 500.6 574.5 500.9 582.6 501.0C590.7 501.1 597.4 501.0 604.8 501.0C612.2 501.0 618.9 501.1 627.0 501.0C635.1 500.9 644.7 500.7 653.5 500.6C662.3 500.5 675.6 500.3 680.0 500.3" stroke="#22cccc"/>
<path d="M483.0 498.0C486.9 498.0 498.7 498.0 506.5 498.0C514.3 498.0 521.7 498.0 530.0 498.0C538.3 498.0 547.5 497.9 556.3 498.0C565.1 498.1 574.5 498.5 582.6 498.5C590.7 498.6 597.4 498.5 604.8 498.5C612.2 498.6 618.9 498.8 627.0 498.8C635.1 498.8 644.7 498.7 653.5 498.5C662.3 498.4 675.6 498.1 680.0 498.0" stroke="#885a5e"/>
<path d="M483.0 496.7C486.9 496.8 498.7 497.2 506.5 497.4C514.3 497.6 521.7 497.8 530.0 498.0C538.3 498.2 547.5 498.7 556.3 498.5C565.1 498.4 574.5 497.3 582.6 497.1C590.7 496.9 597.4 497.2 604.8 497.4C612.2 497.5 618.9 497.9 627.0 498.0C635.1 498.1 644.7 498.2 653.5 498.0C662.3 497.8 675.6 496.9 680.0 496.7" stroke="#9e9c18"/>
<path d="M483.0 495.4C486.9 495.5 498.7 495.9 506.5 496.2C514.3 496.5 521.7 497.3 530.0 497.1C538.3 496.9 547.5 494.8 556.3 494.9C565.1 495.1 574.5 497.9 582.6 498.0C590.7 498.0 597.4 495.8 604.8 495.4C612.2 494.9 618.9 495.3 627.0 495.4C635.1 495.4 644.7 495.7 653.5 495.7C662.3 495.7 675.6 495.4 680.0 495.4" stroke="#f26d12"/>
<path d="M483.0 493.9C486.9 493.8 498.7 493.6 506.5 493.5C514.3 493.4 521.7 493.2 530.0 493.2C538.3 493.1 547.5 493.2 556.3 493.2C565.1 493.2 574.5 493.1 582.6 493.2C590.7 493.2 597.4 493.4 604.8 493.5C612.2 493.5 618.9 493.4 627.0 493.5C635.1 493.6 644.7 493.8 653.5 493.9C662.3 494.0 675.6 493.9 680.0 493.9" stroke="#6d9dd8"/>
<path d="M483.0 492.6C486.9 492.5 498.7 492.3 506.5 492.2C514.3 492.0 521.7 491.9 530.0 491.8C538.3 491.6 547.5 491.5 556.3 491.5C565.1 491.4 574.5 491.4 582.6 491.5C590.7 491.5 597.4 491.6 604.8 491.8C612.2 491.9 618.9 492.0 627.0 492.2C635.1 492.3 644.7 492.5 653.5 492.6C662.3 492.7 675.6 492.6 680.0 492.6" stroke="#5fb50c"/>
<path d="M483.0 490.9C486.9 490.8 498.7 490.5 506.5 490.3C514.3 490.2 521.7 490.1 530.0 490.0C538.3 489.9 547.5 489.8 556.3 489.6C565.1 489.3 574.5 488.6 582.6 488.6C590.7 488.5 597.4 489.0 604.8 489.1C612.2 489.3 618.9 489.4 627.0 489.6C635.1 489.8 644.7 490.1 653.5 490.3C662.3 490.5 675.6 490.8 680.0 490.9" stroke="#585858"/>
<path d="M483.0 487.8C486.9 487.7 498.7 486.9 506.5 486.8C514.3 486.7 521.7 487.2 530.0 487.3C538.3 487.3 547.5 487.2 556.3 487.3C565.1 487.4 574.5 487.8 582.6 487.8C590.7 487.9 597.4 487.8 604.8 487.8C612.2 487.9 618.9 488.2 627.0 488.3C635.1 488.4 644.7 488.4 653.5 488.3C662.3 488.2 675.6 487.9 680.0 487.8" stroke="#e8434a"/>
<path d="M483.0 486.1C486.9 486.0 498.7 485.6 506.5 485.5C514.3 485.4 521.7 485.4 530.0 485.5C538.3 485.6 547.5 485.8 556.3 486.1C565.1 486.4 574.5 487.1 582.6 487.3C590.7 487.5 597.4 487.4 604.8 487.3C612.2 487.1 618.9 486.6 627.0 486.4C635.1 486.2 644.7 486.2 653.5 486.1C662.3 486.1 675.6 486.1 680.0 486.1" stroke="#2470e0"/>
<path d="M483.0 484.7C486.9 484.7 498.7 484.7 506.5 484.7C514.3 484.6 521.7 484.4 530.0 484.4C538.3 484.4 547.5 484.5 556.3 484.7C565.1 484.9 574.5 485.2 582.6 485.5C590.7 485.8 597.4 486.6 604.8 486.4C612.2 486.2 618.9 484.7 627.0 484.4C635.1 484.1 644.7 484.6 653.5 484.7C662.3 484.7 675.6 484.7 680.0 484.7" stroke="#33a866"/>
<path d="M483.0 482.5C486.9 482.4 498.7 482.1 506.5 482.1C514.3 482.0 521.7 482.2 530.0 482.1C538.3 482.0 547.5 481.7 556.3 481.5C565.1 481.3 574.5 481.0 582.6 481.1C590.7 481.1 597.4 481.9 604.8 482.1C612.2 482.2 618.9 482.1 627.0 482.1C635.1 482.1 644.7 482.0 653.5 482.1C662.3 482.1 675.6 482.4 680.0 482.5" stroke="#b884ea"/>
<path d="M483.0 479.3C486.9 479.0 498.7 477.9 506.5 477.6C514.3 477.3 521.7 477.9 530.0 477.6C538.3 477.3 547.5 476.3 556.3 475.8C565.1 475.4 574.5 474.8 582.6 474.8C590.7 474.8 597.4 475.5 604.8 475.8C612.2 476.2 618.9 476.4 627.0 476.7C635.1 477.0 644.7 477.1 653.5 477.6C662.3 478.0 675.6 479.0 680.0 479.3" stroke="#d3a126"/>
<path d="M483.0 471.4C486.9 471.3 498.7 470.9 506.5 470.8C514.3 470.7 521.7 470.7 530.0 470.8C538.3 470.9 547.5 471.0 556.3 471.4C565.1 471.7 574.5 472.7 582.6 473.1C590.7 473.5 597.4 473.6 604.8 473.7C612.2 473.8 618.9 473.8 627.0 473.7C635.1 473.5 644.7 473.0 653.5 472.7C662.3 472.3 675.6 471.6 680.0 471.4" stroke="#22cccc"/>
<path d="M483.0 466.6C486.9 466.3 498.7 465.2 506.5 464.9C514.3 464.5 521.7 464.0 530.0 464.3C538.3 464.6 547.5 466.4 556.3 466.6C565.1 466.8 574.5 465.6 582.6 465.6C590.7 465.6 597.4 466.4 604.8 466.6C612.2 466.8 618.9 466.8 627.0 466.9C635.1 466.9 644.7 466.9 653.5 466.9C662.3 466.8 675.6 466.6 680.0 466.6" stroke="#885a5e"/>
<path d="M483.0 464.3C486.9 464.2 498.7 463.8 506.5 463.7C514.3 463.6 521.7 463.5 530.0 463.7C538.3 463.9 547.5 464.6 556.3 464.9C565.1 465.1 574.5 465.0 582.6 465.1C590.7 465.3 597.4 465.9 604.8 466.0C612.2 466.2 618.9 466.1 627.0 466.0C635.1 465.9 644.7 465.9 653.5 465.6C662.3 465.3 675.6 464.5 680.0 464.3" stroke="#9e9c18"/>
<path d="M483.0 453.6C486.9 453.4 498.7 452.9 506.5 452.7C514.3 452.5 521.7 452.4 530.0 452.4C538.3 452.4 547.5 452.5 556.3 452.7C565.1 452.9 574.5 453.4 582.6 453.6C590.7 453.7 597.4 453.6 604.8 453.6C612.2 453.6 618.9 453.6 627.0 453.6C635.1 453.5 644.7 453.1 653.5 453.1C662.3 453.1 675.6 453.5 680.0 453.6" stroke="#f26d12"/>
<path d="M483.0 449.5C486.9 449.5 498.7 449.4 506.5 449.2C514.3 449.1 521.7 448.9 530.0 448.8C538.3 448.7 547.5 448.8 556.3 448.8C565.1 448.8 574.5 448.8 582.6 448.8C590.7 448.8 597.4 448.9 604.8 448.8C612.2 448.7 618.9 448.2 627.0 448.2C635.1 448.3 644.7 449.0 653.5 449.2C662.3 449.5 675.6 449.5 680.0 449.5" stroke="#6d9dd8"/>
<path d="M483.0 444.2C486.9 444.1 498.7 443.6 506.5 443.5C514.3 443.3 521.7 443.7 530.0 443.5C538.3 443.2 547.5 442.3 556.3 441.7C565.1 441.1 574.5 440.2 582.6 440.0C590.7 439.8 597.4 440.5 604.8 440.7C612.2 440.9 618.9 440.9 627.0 441.1C635.1 441.4 644.7 441.9 653.5 442.4C662.3 442.9 675.6 443.9 680.0 444.2" stroke="#5fb50c"/>
<path d="M483.0 438.2C486.9 438.2 498.7 437.8 506.5 437.7C514.3 437.6 521.7 437.5 530.0 437.7C538.3 437.8 547.5 438.2 556.3 438.5C565.1 438.9 574.5 439.9 582.6 440.0C590.7 440.1 597.4 439.2 604.8 439.0C612.2 438.7 618.9 438.6 627.0 438.5C635.1 438.5 644.7 438.6 653.5 438.5C662.3 438.5 675.6 438.3 680.0 438.2" stroke="#585858"/>
<path d="M483.0 426.5C486.9 426.6 498.7 426.9 506.5 427.0C514.3 427.0 521.7 427.0 530.0 427.0C538.3 426.9 547.5 426.8 556.3 426.5C565.1 426.2 574.5 425.5 582.6 425.2C590.7 425.0 597.4 425.2 604.8 425.2C612.2 425.2 618.9 425.0 627.0 425.2C635.1 425.5 644.7 426.2 653.5 426.5C662.3 426.8 675.6 426.9 680.0 427.0" stroke="#e8434a"/>
<path d="M483.0 422.9C486.9 422.8 498.7 422.6 506.5 422.5C514.3 422.4 521.7 422.5 530.0 422.5C538.3 422.4 547.5 422.0 556.3 422.2C565.1 422.4 574.5 423.3 582.6 423.5C590.7 423.7 597.4 423.5 604.8 423.5C612.2 423.5 618.9 423.7 627.0 423.5C635.1 423.3 644.7 422.6 653.5 422.5C662.3 422.4 675.6 422.8 680.0 422.9" stroke="#2470e0"/>
<path d="M483.0 420.8C486.9 420.7 498.7 420.6 506.5 420.5C514.3 420.3 521.7 420.3 530.0 419.9C538.3 419.5 547.5 418.5 556.3 418.1C565.1 417.8 574.5 417.6 582.6 417.6C590.7 417.6 597.4 418.1 604.8 418.1C612.2 418.2 618.9 418.1 627.0 418.1C635.1 418.2 644.7 418.2 653.5 418.7C662.3 419.2 675.6 420.8 680.0 421.2" stroke="#33a866"/>
<path d="M483.0 417.3C486.9 417.1 498.7 416.6 506.5 416.4C514.3 416.3 521.7 416.3 530.0 416.4C538.3 416.6 547.5 417.1 556.3 417.3C565.1 417.4 574.5 417.4 582.6 417.3C590.7 417.2 597.4 417.0 604.8 416.8C612.2 416.7 618.9 416.3 627.0 416.4C635.1 416.5 644.7 417.1 653.5 417.3C662.3 417.5 675.6 417.5 680.0 417.6" stroke="#b884ea"/>
<path d="M483.0 416.4C486.9 416.1 498.7 414.8 506.5 414.5C514.3 414.2 521.7 414.7 530.0 414.5C538.3 414.3 547.5 413.8 556.3 413.4C565.1 412.9 574.5 412.0 582.6 411.9C590.7 411.8 597.4 412.4 604.8 412.8C612.2 413.2 618.9 413.6 627.0 414.1C635.1 414.6 644.7 415.2 653.5 415.5C662.3 415.9 675.6 416.3 680.0 416.4" stroke="#d3a126"/>
</g>
<line x1="530.0" y1="382.0" x2="530.0" y2="541.0600000000001" stroke="#dcc4fc" stroke-width="1.1"/>
<line x1="530.0" y1="382.0" x2="530.0" y2="541.0600000000001" stroke="#8d3cf4" stroke-width="1.35" stroke-dasharray="1.05 1.05"/>
<line x1="582.6" y1="382.0" x2="582.6" y2="541.0600000000001" stroke="#dcc4fc" stroke-width="1.1"/>
<line x1="582.6" y1="382.0" x2="582.6" y2="541.0600000000001" stroke="#8d3cf4" stroke-width="1.35" stroke-dasharray="1.05 1.05"/>
<line x1="627.0" y1="382.0" x2="627.0" y2="541.0600000000001" stroke="#dcc4fc" stroke-width="1.1"/>
<line x1="627.0" y1="382.0" x2="627.0" y2="541.0600000000001" stroke="#8d3cf4" stroke-width="1.35" stroke-dasharray="1.05 1.05"/>
<line x1="484.45" y1="527.0" x2="680.0" y2="527.0" stroke="#000" stroke-width="2" stroke-dasharray="2 1.8"/>
<rect x="483.0" y="382.0" width="197.0" height="159.06000000000006" fill="none" stroke="#2a2a2a" stroke-width="1.25"/>
<line x1="483.0" y1="526.60" x2="486.4" y2="526.60" stroke="#2a2a2a" stroke-width="1"/>
<text x="479.4" y="529.30" text-anchor="end" class="tk">0</text>
<line x1="483.0" y1="512.14" x2="484.8" y2="512.14" stroke="#2a2a2a" stroke-width="0.9"/>
<line x1="483.0" y1="497.68" x2="486.4" y2="497.68" stroke="#2a2a2a" stroke-width="1"/>
<text x="479.4" y="500.38" text-anchor="end" class="tk">2</text>
<line x1="483.0" y1="483.22" x2="484.8" y2="483.22" stroke="#2a2a2a" stroke-width="0.9"/>
<line x1="483.0" y1="468.76" x2="486.4" y2="468.76" stroke="#2a2a2a" stroke-width="1"/>
<text x="479.4" y="471.46" text-anchor="end" class="tk">4</text>
<line x1="483.0" y1="454.30" x2="484.8" y2="454.30" stroke="#2a2a2a" stroke-width="0.9"/>
<line x1="483.0" y1="439.84" x2="486.4" y2="439.84" stroke="#2a2a2a" stroke-width="1"/>
<text x="479.4" y="442.54" text-anchor="end" class="tk">6</text>
<line x1="483.0" y1="425.38" x2="484.8" y2="425.38" stroke="#2a2a2a" stroke-width="0.9"/>
<line x1="483.0" y1="410.92" x2="486.4" y2="410.92" stroke="#2a2a2a" stroke-width="1"/>
<text x="479.4" y="413.62" text-anchor="end" class="tk">8</text>
<line x1="483.0" y1="396.46" x2="484.8" y2="396.46" stroke="#2a2a2a" stroke-width="0.9"/>
<line x1="483.0" y1="382.00" x2="486.4" y2="382.00" stroke="#2a2a2a" stroke-width="1"/>
<text x="479.4" y="384.70" text-anchor="end" class="tk">10</text>
<text transform="translate(485.8,549.16) scale(1.1,1)" text-anchor="middle" class="kl">G</text>
<text transform="translate(529.4,549.16) scale(1.1,1)" text-anchor="middle" class="kl">F</text>
<text transform="translate(581.9,549.16) scale(1.1,1)" text-anchor="middle" class="kl">Q</text>
<text transform="translate(625.7,549.16) scale(1.1,1)" text-anchor="middle" class="kl">Z</text>
<text transform="translate(677.4,549.16) scale(1.1,1)" text-anchor="middle" class="kl">G</text>
<text x="581.2" y="378.0" text-anchor="middle" class="tt">KSnSe<tspan font-size="7.2" dy="2.3">3</tspan></text>
<text transform="translate(468.7,463.8) rotate(-90)" text-anchor="middle" class="yl">Frequancy (THz)</text>
<clipPath id="c10"><rect x="26.6" y="562.4" width="197.8" height="158.3571428571429"/></clipPath>
<g clip-path="url(#c10)" fill="none" stroke-width="1.6" stroke-linejoin="round" stroke-linecap="round">
<path d="M26.6 710.2C30.6 709.5 42.4 707.0 50.3 706.1C58.2 705.2 65.7 705.3 74.0 704.6C82.3 703.9 91.3 701.8 100.0 702.0C108.7 702.1 118.0 704.8 126.0 705.4C134.0 706.1 140.8 705.8 148.2 705.8C155.6 705.7 162.2 705.3 170.4 705.1C178.6 704.9 188.4 703.8 197.4 704.6C206.4 705.4 219.9 709.3 224.4 710.2" stroke="#585858"/>
<path d="M26.6 710.2C30.6 709.4 42.4 706.8 50.3 705.4C58.2 704.1 65.7 702.7 74.0 702.0C82.3 701.2 91.3 700.8 100.0 701.0C108.7 701.2 118.0 703.2 126.0 703.3C134.0 703.5 140.8 702.4 148.2 702.0C155.6 701.6 162.2 701.0 170.4 701.0C178.6 701.0 188.4 700.4 197.4 702.0C206.4 703.5 219.9 708.8 224.4 710.2" stroke="#e8434a"/>
<path d="M26.6 710.2C30.6 709.0 42.4 704.5 50.3 702.8C58.2 701.1 65.7 700.9 74.0 700.2C82.3 699.4 91.3 698.5 100.0 698.4C108.7 698.2 118.0 698.9 126.0 699.2C134.0 699.5 140.8 700.0 148.2 700.2C155.6 700.3 162.2 700.5 170.4 700.2C178.6 699.9 191.1 698.4 197.4 698.4C203.7 698.4 203.7 698.2 208.2 700.2C212.7 702.1 221.7 708.5 224.4 710.2" stroke="#2470e0"/>
<path d="M26.6 694.5C30.6 694.7 42.4 695.4 50.3 695.7C58.2 696.1 65.7 696.4 74.0 696.6C82.3 696.7 91.3 696.6 100.0 696.6C108.7 696.5 118.0 696.1 126.0 696.3C134.0 696.4 140.8 697.2 148.2 697.5C155.6 697.8 162.2 698.2 170.4 698.1C178.6 697.9 188.4 697.2 197.4 696.6C206.4 696.0 219.9 694.8 224.4 694.5" stroke="#33a866"/>
<path d="M26.6 693.9C30.6 694.4 42.4 696.0 50.3 696.6C58.2 697.2 65.7 697.7 74.0 697.5C82.3 697.4 91.3 696.2 100.0 695.7C108.7 695.3 118.0 695.1 126.0 694.8C134.0 694.5 140.8 694.1 148.2 693.9C155.6 693.8 162.2 693.8 170.4 693.9C178.6 694.1 188.4 694.8 197.4 694.8C206.4 694.8 219.9 694.1 224.4 693.9" stroke="#b884ea"/>
<path d="M26.6 692.1C30.6 692.2 42.4 692.5 50.3 692.7C58.2 692.8 65.7 693.0 74.0 693.1C82.3 693.2 91.3 693.4 100.0 693.4C108.7 693.5 118.0 693.3 126.0 693.4C134.0 693.5 140.8 693.9 148.2 693.9C155.6 694.0 162.2 694.0 170.4 693.9C178.6 693.9 188.4 693.7 197.4 693.4C206.4 693.1 219.9 692.4 224.4 692.1" stroke="#d3a126"/>
<path d="M26.6 691.3C30.6 691.4 42.4 691.5 50.3 691.6C58.2 691.8 65.7 692.1 74.0 692.1C82.3 692.2 91.3 692.1 100.0 692.1C108.7 692.1 118.0 692.1 126.0 692.1C134.0 692.1 140.8 692.2 148.2 692.1C155.6 692.1 162.2 691.7 170.4 691.6C178.6 691.5 188.4 691.7 197.4 691.6C206.4 691.6 219.9 691.4 224.4 691.3" stroke="#22cccc"/>
<path d="M26.6 690.4C30.6 690.2 42.4 689.7 50.3 689.5C58.2 689.3 65.7 689.1 74.0 689.2C82.3 689.3 91.3 690.1 100.0 690.4C108.7 690.6 118.0 690.8 126.0 690.9C134.0 691.0 140.8 691.0 148.2 690.9C155.6 690.8 162.2 690.4 170.4 690.4C178.6 690.3 188.4 690.4 197.4 690.4C206.4 690.4 219.9 690.4 224.4 690.4" stroke="#885a5e"/>
<path d="M26.6 689.2C30.6 689.1 42.4 688.8 50.3 688.7C58.2 688.6 65.7 688.6 74.0 688.7C82.3 688.8 91.3 689.2 100.0 689.2C108.7 689.2 118.0 688.7 126.0 688.7C134.0 688.7 140.8 689.1 148.2 689.2C155.6 689.3 162.2 689.5 170.4 689.5C178.6 689.6 188.4 689.6 197.4 689.5C206.4 689.5 219.9 689.2 224.4 689.2" stroke="#9e9c18"/>
<path d="M26.6 688.7C30.6 688.5 42.4 687.9 50.3 687.7C58.2 687.5 65.7 687.6 74.0 687.4C82.3 687.2 91.3 686.5 100.0 686.3C108.7 686.2 118.0 686.3 126.0 686.3C134.0 686.4 140.8 686.7 148.2 686.9C155.6 687.0 162.2 687.2 170.4 687.4C178.6 687.6 188.4 687.9 197.4 688.1C206.4 688.3 219.9 688.6 224.4 688.7" stroke="#f26d12"/>
<path d="M26.6 686.9C30.6 686.8 42.4 686.6 50.3 686.3C58.2 686.0 65.7 685.4 74.0 685.1C82.3 684.8 91.3 684.7 100.0 684.5C108.7 684.4 118.0 684.1 126.0 684.2C134.0 684.3 140.8 684.8 148.2 685.1C155.6 685.4 162.2 685.7 170.4 685.9C178.6 686.1 188.4 686.2 197.4 686.3C206.4 686.5 219.9 686.8 224.4 686.9" stroke="#6d9dd8"/>
<path d="M26.6 685.9C30.6 685.6 42.4 684.8 50.3 684.2C58.2 683.6 65.7 682.7 74.0 682.4C82.3 682.1 91.3 682.4 100.0 682.4C108.7 682.5 118.0 682.6 126.0 682.8C134.0 682.9 140.8 683.1 148.2 683.3C155.6 683.5 162.2 683.5 170.4 683.8C178.6 684.1 188.4 684.7 197.4 685.1C206.4 685.4 219.9 685.8 224.4 685.9" stroke="#5fb50c"/>
<path d="M26.6 681.8C30.6 681.7 42.4 681.4 50.3 681.3C58.2 681.2 65.7 681.1 74.0 681.3C82.3 681.4 91.3 682.1 100.0 682.2C108.7 682.3 118.0 681.9 126.0 681.8C134.0 681.7 140.8 681.8 148.2 681.8C155.6 681.8 162.2 681.7 170.4 681.8C178.6 681.9 188.4 682.2 197.4 682.2C206.4 682.3 219.9 682.2 224.4 682.2" stroke="#585858"/>
<path d="M26.6 679.8C30.6 679.9 42.4 680.2 50.3 680.3C58.2 680.5 65.7 680.6 74.0 680.6C82.3 680.7 91.3 680.7 100.0 680.6C108.7 680.6 118.0 680.3 126.0 680.3C134.0 680.3 140.8 680.6 148.2 680.6C155.6 680.7 162.2 680.7 170.4 680.6C178.6 680.6 188.4 680.5 197.4 680.3C206.4 680.2 219.9 679.9 224.4 679.8" stroke="#e8434a"/>
<path d="M26.6 678.0C30.6 678.0 42.4 678.0 50.3 678.0C58.2 678.0 65.7 678.0 74.0 678.0C82.3 678.0 91.3 678.0 100.0 678.0C108.7 678.0 118.0 678.1 126.0 678.0C134.0 677.9 140.8 677.6 148.2 677.5C155.6 677.4 162.2 677.5 170.4 677.5C178.6 677.4 188.4 677.1 197.4 677.1C206.4 677.0 219.9 677.1 224.4 677.1" stroke="#2470e0"/>
<path d="M26.6 673.9C30.6 673.9 42.4 673.9 50.3 673.9C58.2 673.8 65.7 673.6 74.0 673.6C82.3 673.5 91.3 673.5 100.0 673.6C108.7 673.6 118.0 673.7 126.0 673.9C134.0 674.0 140.8 674.3 148.2 674.4C155.6 674.5 162.2 674.5 170.4 674.4C178.6 674.3 188.4 674.0 197.4 673.9C206.4 673.8 219.9 673.9 224.4 673.9" stroke="#33a866"/>
<path d="M26.6 671.8C30.6 671.8 42.4 671.8 50.3 671.8C58.2 671.8 65.7 671.7 74.0 671.8C82.3 671.8 91.3 671.9 100.0 672.1C108.7 672.2 118.0 672.6 126.0 672.6C134.0 672.6 140.8 672.2 148.2 672.1C155.6 671.9 162.2 671.8 170.4 671.8C178.6 671.7 188.4 671.8 197.4 671.8C206.4 671.8 219.9 671.8 224.4 671.8" stroke="#b884ea"/>
<path d="M26.6 671.8C30.6 671.7 42.4 672.2 50.3 671.5C58.2 670.7 65.7 667.7 74.0 667.3C82.3 667.0 91.3 668.4 100.0 669.1C108.7 669.8 118.0 671.2 126.0 671.5C134.0 671.8 140.8 671.1 148.2 670.9C155.6 670.8 162.2 670.6 170.4 670.4C178.6 670.2 188.4 670.2 197.4 670.0C206.4 669.8 219.9 669.3 224.4 669.1" stroke="#d3a126"/>
<path d="M26.6 667.3C30.6 667.3 42.4 666.9 50.3 666.8C58.2 666.7 65.7 666.9 74.0 666.8C82.3 666.7 91.3 666.4 100.0 666.1C108.7 665.8 118.0 665.1 126.0 665.0C134.0 664.9 140.8 665.4 148.2 665.5C155.6 665.7 162.2 665.9 170.4 666.1C178.6 666.2 188.4 666.3 197.4 666.5C206.4 666.7 219.9 667.2 224.4 667.3" stroke="#22cccc"/>
<path d="M26.6 662.2C30.6 662.2 42.4 662.3 50.3 662.2C58.2 662.1 65.7 661.4 74.0 661.5C82.3 661.7 91.3 662.7 100.0 663.2C108.7 663.7 118.0 664.5 126.0 664.7C134.0 664.9 140.8 664.7 148.2 664.7C155.6 664.7 162.2 664.9 170.4 664.7C178.6 664.5 188.4 663.6 197.4 663.2C206.4 662.8 219.9 662.3 224.4 662.2" stroke="#885a5e"/>
<path d="M26.6 655.4C30.6 655.5 42.4 655.8 50.3 655.8C58.2 655.9 65.7 655.8 74.0 655.8C82.3 655.8 91.3 655.8 100.0 655.8C108.7 655.8 118.0 655.8 126.0 655.8C134.0 655.9 140.8 656.1 148.2 656.1C155.6 656.2 162.2 656.2 170.4 656.1C178.6 656.1 188.4 656.0 197.4 655.8C206.4 655.7 219.9 655.5 224.4 655.4" stroke="#9e9c18"/>
<path d="M26.6 647.8C30.6 647.8 42.4 647.8 50.3 647.8C58.2 647.8 65.7 647.9 74.0 647.8C82.3 647.7 91.3 647.4 100.0 647.3C108.7 647.2 118.0 647.3 126.0 647.3C134.0 647.3 140.8 647.3 148.2 647.3C155.6 647.3 162.2 647.2 170.4 647.3C178.6 647.4 188.4 647.7 197.4 647.8C206.4 647.9 219.9 647.8 224.4 647.8" stroke="#f26d12"/>
<path d="M26.6 642.5C30.6 642.4 42.4 642.1 50.3 642.0C58.2 641.9 65.7 642.1 74.0 642.0C82.3 641.9 91.3 641.5 100.0 641.3C108.7 641.1 118.0 640.8 126.0 640.7C134.0 640.6 140.8 640.7 148.2 640.7C155.6 640.7 162.2 640.6 170.4 640.7C178.6 640.9 188.4 641.3 197.4 641.6C206.4 641.9 219.9 642.4 224.4 642.5" stroke="#6d9dd8"/>
<path d="M26.6 639.8C30.6 639.8 42.4 639.8 50.3 639.8C58.2 639.7 65.7 639.4 74.0 639.5C82.3 639.5 91.3 640.1 100.0 640.2C108.7 640.3 118.0 640.2 126.0 640.2C134.0 640.2 140.8 640.2 148.2 640.2C155.6 640.2 162.2 640.2 170.4 640.2C178.6 640.2 188.4 640.2 197.4 640.2C206.4 640.2 219.9 640.2 224.4 640.2" stroke="#5fb50c"/>
<path d="M26.6 629.2C30.6 629.2 42.4 628.9 50.3 628.8C58.2 628.7 65.7 628.5 74.0 628.8C82.3 629.1 91.3 630.2 100.0 630.6C108.7 631.0 118.0 631.0 126.0 631.0C134.0 631.1 140.8 631.0 148.2 631.0C155.6 631.0 162.2 631.1 170.4 631.0C178.6 631.0 188.4 631.0 197.4 630.6C206.4 630.2 219.9 629.1 224.4 628.8" stroke="#585858"/>
<path d="M26.6 627.4C30.6 627.3 42.4 626.6 50.3 626.5C58.2 626.3 65.7 626.8 74.0 626.5C82.3 626.2 91.3 625.2 100.0 624.8C108.7 624.4 118.0 624.3 126.0 624.3C134.0 624.3 140.8 624.7 148.2 624.8C155.6 624.9 162.2 624.8 170.4 624.8C178.6 624.8 188.4 624.4 197.4 624.8C206.4 625.2 219.9 627.0 224.4 627.4" stroke="#e8434a"/>
<path d="M26.6 580.3C30.6 580.2 42.4 579.7 50.3 579.5C58.2 579.3 65.7 579.0 74.0 579.2C82.3 579.3 91.3 580.3 100.0 580.3C108.7 580.3 118.0 579.3 126.0 579.2C134.0 579.1 140.8 579.6 148.2 579.8C155.6 580.0 162.2 580.3 170.4 580.3C178.6 580.4 188.4 580.3 197.4 580.3C206.4 580.3 219.9 580.3 224.4 580.3" stroke="#2470e0"/>
<path d="M26.6 579.8C30.6 579.7 42.4 579.4 50.3 579.2C58.2 579.0 65.7 579.5 74.0 578.7C82.3 577.8 91.3 575.3 100.0 574.2C108.7 573.1 118.0 572.3 126.0 572.0C134.0 571.7 140.8 572.3 148.2 572.4C155.6 572.6 162.2 572.3 170.4 572.7C178.6 573.2 188.4 573.9 197.4 575.1C206.4 576.2 219.9 578.8 224.4 579.5" stroke="#33a866"/>
<path d="M26.6 566.2C30.6 566.1 42.4 565.4 50.3 565.4C58.2 565.4 65.7 565.8 74.0 566.2C82.3 566.6 91.3 567.2 100.0 567.5C108.7 567.8 118.0 567.8 126.0 568.0C134.0 568.2 140.8 568.3 148.2 568.5C155.6 568.7 162.2 569.4 170.4 569.3C178.6 569.2 188.4 568.5 197.4 568.0C206.4 567.5 219.9 566.5 224.4 566.2" stroke="#b884ea"/>
<path d="M26.6 566.2C30.6 565.8 42.4 564.4 50.3 563.9C58.2 563.4 65.7 563.4 74.0 563.1C82.3 562.9 91.3 562.7 100.0 562.6C108.7 562.5 118.0 562.6 126.0 562.6C134.0 562.6 140.8 562.5 148.2 562.6C155.6 562.7 162.2 562.8 170.4 563.1C178.6 563.4 188.4 563.9 197.4 564.4C206.4 564.9 219.9 565.9 224.4 566.2" stroke="#d3a126"/>
</g>
<line x1="74.0" y1="562.4" x2="74.0" y2="720.7571428571429" stroke="#dcc4fc" stroke-width="1.1"/>
<line x1="74.0" y1="562.4" x2="74.0" y2="720.7571428571429" stroke="#8d3cf4" stroke-width="1.35" stroke-dasharray="1.05 1.05"/>
<line x1="126.0" y1="562.4" x2="126.0" y2="720.7571428571429" stroke="#dcc4fc" stroke-width="1.1"/>
<line x1="126.0" y1="562.4" x2="126.0" y2="720.7571428571429" stroke="#8d3cf4" stroke-width="1.35" stroke-dasharray="1.05 1.05"/>
<line x1="170.4" y1="562.4" x2="170.4" y2="720.7571428571429" stroke="#dcc4fc" stroke-width="1.1"/>
<line x1="170.4" y1="562.4" x2="170.4" y2="720.7571428571429" stroke="#8d3cf4" stroke-width="1.35" stroke-dasharray="1.05 1.05"/>
<line x1="28.05" y1="710.6" x2="224.4" y2="710.6" stroke="#000" stroke-width="2" stroke-dasharray="2 1.8"/>
<rect x="26.6" y="562.4" width="197.8" height="158.3571428571429" fill="none" stroke="#2a2a2a" stroke-width="1.25"/>
<line x1="26.6" y1="710.20" x2="30.0" y2="710.20" stroke="#2a2a2a" stroke-width="1"/>
<text x="23.0" y="712.90" text-anchor="end" class="tk">0</text>
<line x1="26.6" y1="699.64" x2="28.400000000000002" y2="699.64" stroke="#2a2a2a" stroke-width="0.9"/>
<line x1="26.6" y1="689.09" x2="30.0" y2="689.09" stroke="#2a2a2a" stroke-width="1"/>
<text x="23.0" y="691.79" text-anchor="end" class="tk">2</text>
<line x1="26.6" y1="678.53" x2="28.400000000000002" y2="678.53" stroke="#2a2a2a" stroke-width="0.9"/>
<line x1="26.6" y1="667.97" x2="30.0" y2="667.97" stroke="#2a2a2a" stroke-width="1"/>
<text x="23.0" y="670.67" text-anchor="end" class="tk">4</text>
<line x1="26.6" y1="657.41" x2="28.400000000000002" y2="657.41" stroke="#2a2a2a" stroke-width="0.9"/>
<line x1="26.6" y1="646.86" x2="30.0" y2="646.86" stroke="#2a2a2a" stroke-width="1"/>
<text x="23.0" y="649.56" text-anchor="end" class="tk">6</text>
<line x1="26.6" y1="636.30" x2="28.400000000000002" y2="636.30" stroke="#2a2a2a" stroke-width="0.9"/>
<line x1="26.6" y1="625.74" x2="30.0" y2="625.74" stroke="#2a2a2a" stroke-width="1"/>
<text x="23.0" y="628.44" text-anchor="end" class="tk">8</text>
<line x1="26.6" y1="615.19" x2="28.400000000000002" y2="615.19" stroke="#2a2a2a" stroke-width="0.9"/>
<line x1="26.6" y1="604.63" x2="30.0" y2="604.63" stroke="#2a2a2a" stroke-width="1"/>
<text x="23.0" y="607.33" text-anchor="end" class="tk">10</text>
<line x1="26.6" y1="594.07" x2="28.400000000000002" y2="594.07" stroke="#2a2a2a" stroke-width="0.9"/>
<line x1="26.6" y1="583.51" x2="30.0" y2="583.51" stroke="#2a2a2a" stroke-width="1"/>
<text x="23.0" y="586.21" text-anchor="end" class="tk">12</text>
<line x1="26.6" y1="572.96" x2="28.400000000000002" y2="572.96" stroke="#2a2a2a" stroke-width="0.9"/>
<line x1="26.6" y1="562.40" x2="30.0" y2="562.40" stroke="#2a2a2a" stroke-width="1"/>
<text x="23.0" y="565.10" text-anchor="end" class="tk">14</text>
<text transform="translate(29.4,728.86) scale(1.1,1)" text-anchor="middle" class="kl">G</text>
<text transform="translate(73.6,728.86) scale(1.1,1)" text-anchor="middle" class="kl">F</text>
<text transform="translate(126.0,728.86) scale(1.1,1)" text-anchor="middle" class="kl">Q</text>
<text transform="translate(169.3,728.86) scale(1.1,1)" text-anchor="middle" class="kl">Z</text>
<text transform="translate(222.2,728.86) scale(1.1,1)" text-anchor="middle" class="kl">G</text>
<text x="122.9" y="558.4" text-anchor="middle" class="tt">RbSiSe<tspan font-size="7.2" dy="2.3">3</tspan></text>
<text transform="translate(10.0,642.0) rotate(-90)" text-anchor="middle" class="yl">Frequancy (THz)</text>
<clipPath id="c11"><rect x="255.6" y="561.4" width="196.79999999999998" height="158.85000000000002"/></clipPath>
<g clip-path="url(#c11)" fill="none" stroke-width="1.6" stroke-linejoin="round" stroke-linecap="round">
<path d="M255.6 705.4C259.5 704.8 271.2 702.6 279.0 701.8C286.8 701.0 294.1 700.8 302.4 700.4C310.7 699.9 319.9 699.3 328.6 699.1C337.3 698.8 346.7 699.3 354.8 699.1C362.9 698.8 369.7 697.8 377.1 697.8C384.5 697.7 391.3 698.4 399.4 698.6C407.5 698.8 417.1 697.9 425.9 699.1C434.7 700.2 448.0 704.3 452.4 705.4" stroke="#585858"/>
<path d="M255.6 705.4C259.5 704.4 271.2 700.9 279.0 699.5C286.8 698.1 294.1 697.6 302.4 696.9C310.7 696.2 319.9 695.2 328.6 695.0C337.3 694.9 346.7 696.2 354.8 696.0C362.9 695.9 369.7 694.3 377.1 694.2C384.5 694.0 391.3 694.8 399.4 695.0C407.5 695.2 417.1 693.7 425.9 695.5C434.7 697.2 448.0 703.7 452.4 705.4" stroke="#e8434a"/>
<path d="M255.6 705.4C257.6 704.6 263.4 701.9 267.3 700.4C271.2 698.8 273.1 697.6 279.0 696.0C284.9 694.5 294.1 691.8 302.4 691.1C310.7 690.4 319.9 692.0 328.6 691.9C337.3 691.7 346.7 690.0 354.8 690.1C362.9 690.2 369.7 692.3 377.1 692.4C384.5 692.6 391.3 691.4 399.4 691.1C407.5 690.9 419.3 690.8 425.9 691.1C432.5 691.5 434.7 690.8 439.1 693.2C443.6 695.5 450.2 703.4 452.4 705.4" stroke="#2470e0"/>
<path d="M255.6 685.8C259.5 686.3 271.2 688.5 279.0 688.8C286.8 689.2 294.1 687.6 302.4 688.0C310.7 688.4 319.9 691.1 328.6 691.1C337.3 691.2 346.7 688.6 354.8 688.3C362.9 688.0 369.7 689.1 377.1 689.4C384.5 689.7 391.3 690.4 399.4 690.1C407.5 689.8 417.1 688.4 425.9 687.7C434.7 687.0 448.0 686.1 452.4 685.8" stroke="#33a866"/>
<path d="M255.6 684.8C259.5 684.8 271.2 684.6 279.0 684.8C286.8 685.0 294.1 685.6 302.4 685.8C310.7 686.1 319.9 686.2 328.6 686.2C337.3 686.2 346.7 685.8 354.8 685.8C362.9 685.9 369.7 686.4 377.1 686.5C384.5 686.7 391.3 686.6 399.4 686.5C407.5 686.5 417.1 686.5 425.9 686.2C434.7 686.0 448.0 685.0 452.4 684.8" stroke="#b884ea"/>
<path d="M255.6 682.6C259.5 682.9 271.2 683.9 279.0 684.4C286.8 684.8 294.1 685.4 302.4 685.4C310.7 685.4 319.9 684.5 328.6 684.4C337.3 684.3 346.7 684.7 354.8 684.8C362.9 684.9 369.7 684.9 377.1 684.8C384.5 684.7 391.3 684.3 399.4 684.4C407.5 684.5 417.1 685.7 425.9 685.4C434.7 685.1 448.0 683.1 452.4 682.6" stroke="#d3a126"/>
<path d="M255.6 680.9C259.5 680.9 271.2 680.9 279.0 680.9C286.8 680.9 294.1 680.8 302.4 680.9C310.7 681.1 319.9 681.5 328.6 681.8C337.3 682.1 346.7 682.4 354.8 682.6C362.9 682.9 369.7 682.9 377.1 683.1C384.5 683.2 391.3 683.4 399.4 683.5C407.5 683.6 417.1 683.9 425.9 683.5C434.7 683.1 448.0 681.4 452.4 680.9" stroke="#22cccc"/>
<path d="M255.6 679.0C259.5 679.0 271.2 678.9 279.0 679.0C286.8 679.2 294.1 679.7 302.4 680.1C310.7 680.4 319.9 680.7 328.6 680.9C337.3 681.1 346.7 681.2 354.8 681.2C362.9 681.2 369.7 681.0 377.1 680.9C384.5 680.9 391.3 681.1 399.4 680.9C407.5 680.8 417.1 680.4 425.9 680.1C434.7 679.7 448.0 679.2 452.4 679.0" stroke="#885a5e"/>
<path d="M255.6 677.8C259.5 677.8 271.2 677.7 279.0 677.8C286.8 677.8 294.1 677.8 302.4 678.2C310.7 678.6 319.9 679.6 328.6 680.1C337.3 680.5 346.7 680.9 354.8 680.9C362.9 680.9 369.7 680.7 377.1 680.1C384.5 679.4 391.3 677.0 399.4 677.0C407.5 677.1 417.1 680.4 425.9 680.5C434.7 680.6 448.0 678.2 452.4 677.8" stroke="#9e9c18"/>
<path d="M255.6 676.5C259.5 676.6 271.2 677.0 279.0 677.0C286.8 677.0 294.1 676.6 302.4 676.5C310.7 676.4 319.9 676.6 328.6 676.5C337.3 676.3 346.7 675.6 354.8 675.6C362.9 675.6 369.7 676.4 377.1 676.5C384.5 676.5 391.3 676.0 399.4 676.0C407.5 676.0 417.1 676.4 425.9 676.5C434.7 676.5 448.0 676.5 452.4 676.5" stroke="#f26d12"/>
<path d="M255.6 675.2C259.5 675.1 271.2 674.8 279.0 674.7C286.8 674.7 294.1 674.8 302.4 674.7C310.7 674.6 319.9 674.4 328.6 674.2C337.3 673.9 346.7 673.6 354.8 673.4C362.9 673.2 369.7 673.0 377.1 672.9C384.5 672.7 391.3 672.2 399.4 672.3C407.5 672.4 417.1 673.0 425.9 673.4C434.7 673.9 448.0 674.9 452.4 675.2" stroke="#6d9dd8"/>
<path d="M255.6 673.7C259.5 673.7 271.2 673.7 279.0 673.4C286.8 673.2 294.1 672.7 302.4 672.3C310.7 671.9 319.9 671.4 328.6 671.1C337.3 670.8 346.7 670.6 354.8 670.6C362.9 670.6 369.7 671.0 377.1 671.1C384.5 671.3 391.3 671.4 399.4 671.6C407.5 671.7 417.1 671.6 425.9 672.0C434.7 672.4 448.0 673.4 452.4 673.7" stroke="#5fb50c"/>
<path d="M255.6 672.0C259.5 671.9 271.2 671.7 279.0 671.6C286.8 671.4 294.1 671.4 302.4 671.1C310.7 670.8 319.9 670.3 328.6 669.8C337.3 669.4 346.7 668.5 354.8 668.4C362.9 668.3 369.7 669.1 377.1 669.4C384.5 669.7 391.3 670.1 399.4 670.3C407.5 670.4 417.1 670.0 425.9 670.3C434.7 670.6 448.0 671.7 452.4 672.0" stroke="#585858"/>
<path d="M255.6 671.1C259.5 671.0 271.2 670.7 279.0 670.6C286.8 670.4 294.1 670.6 302.4 670.3C310.7 669.9 319.9 669.1 328.6 668.4C337.3 667.6 346.7 666.2 354.8 665.8C362.9 665.4 369.7 666.1 377.1 666.2C384.5 666.4 391.3 666.5 399.4 666.7C407.5 666.8 417.1 666.2 425.9 667.0C434.7 667.7 448.0 670.4 452.4 671.1" stroke="#e8434a"/>
<path d="M255.6 665.2C259.5 664.9 271.2 663.8 279.0 663.5C286.8 663.2 294.1 663.4 302.4 663.5C310.7 663.6 319.9 663.9 328.6 664.1C337.3 664.2 346.7 664.4 354.8 664.5C362.9 664.6 369.7 664.9 377.1 664.9C384.5 665.0 391.3 665.2 399.4 664.9C407.5 664.6 417.1 663.0 425.9 663.1C434.7 663.1 448.0 664.9 452.4 665.2" stroke="#2470e0"/>
<path d="M255.6 662.2C259.5 662.2 271.2 662.3 279.0 662.2C286.8 662.1 294.1 661.6 302.4 661.6C310.7 661.6 319.9 662.0 328.6 662.2C337.3 662.4 346.7 663.0 354.8 663.1C362.9 663.2 369.7 662.9 377.1 662.8C384.5 662.6 391.3 662.3 399.4 662.2C407.5 662.1 417.1 662.2 425.9 662.2C434.7 662.2 448.0 662.2 452.4 662.2" stroke="#33a866"/>
<path d="M255.6 660.5C259.5 660.4 271.2 660.0 279.0 659.9C286.8 659.8 294.1 659.5 302.4 659.6C310.7 659.7 319.9 660.5 328.6 660.5C337.3 660.5 346.7 659.8 354.8 659.6C362.9 659.5 369.7 659.6 377.1 659.6C384.5 659.6 391.3 659.6 399.4 659.6C407.5 659.7 417.1 659.8 425.9 659.9C434.7 660.0 448.0 660.4 452.4 660.5" stroke="#b884ea"/>
<path d="M255.6 656.0C259.5 656.2 271.2 656.8 279.0 656.9C286.8 656.9 294.1 656.2 302.4 656.3C310.7 656.4 319.9 657.6 328.6 657.7C337.3 657.8 346.7 657.0 354.8 656.9C362.9 656.7 369.7 656.9 377.1 656.9C384.5 656.9 391.3 657.0 399.4 656.9C407.5 656.8 417.1 656.4 425.9 656.3C434.7 656.2 448.0 656.3 452.4 656.3" stroke="#d3a126"/>
<path d="M255.6 655.7C259.5 655.7 271.2 655.8 279.0 655.7C286.8 655.6 294.1 655.4 302.4 655.1C310.7 654.9 319.9 654.2 328.6 654.3C337.3 654.4 346.7 655.5 354.8 655.7C362.9 656.0 369.7 655.7 377.1 655.7C384.5 655.8 391.3 656.1 399.4 656.0C407.5 655.9 417.1 655.1 425.9 655.1C434.7 655.1 448.0 655.9 452.4 656.0" stroke="#22cccc"/>
<path d="M255.6 652.4C259.5 652.3 271.2 651.9 279.0 651.5C286.8 651.2 294.1 650.2 302.4 650.2C310.7 650.2 319.9 651.6 328.6 651.5C337.3 651.5 346.7 650.0 354.8 649.8C362.9 649.6 369.7 650.1 377.1 650.2C384.5 650.4 391.3 650.5 399.4 650.7C407.5 650.9 417.1 651.2 425.9 651.5C434.7 651.9 448.0 652.6 452.4 652.8" stroke="#885a5e"/>
<path d="M255.6 642.6C259.5 642.6 271.2 642.7 279.0 642.6C286.8 642.5 294.1 641.8 302.4 642.2C310.7 642.6 319.9 644.2 328.6 644.9C337.3 645.6 346.7 645.9 354.8 646.2C362.9 646.5 369.7 646.6 377.1 646.8C384.5 646.9 391.3 647.5 399.4 647.1C407.5 646.7 417.1 645.1 425.9 644.5C434.7 643.8 448.0 643.4 452.4 643.2" stroke="#9e9c18"/>
<path d="M255.6 625.8C259.5 625.8 271.2 625.8 279.0 625.8C286.8 625.8 294.1 625.8 302.4 625.8C310.7 625.7 319.9 625.6 328.6 625.5C337.3 625.3 346.7 624.9 354.8 624.9C362.9 624.9 369.7 625.4 377.1 625.5C384.5 625.6 391.3 625.4 399.4 625.5C407.5 625.5 417.1 625.7 425.9 625.8C434.7 625.8 448.0 625.8 452.4 625.8" stroke="#f26d12"/>
<path d="M255.6 625.5C259.5 625.5 271.2 625.5 279.0 625.5C286.8 625.5 294.1 625.9 302.4 625.5C310.7 625.1 319.9 623.8 328.6 623.2C337.3 622.6 346.7 622.1 354.8 621.9C362.9 621.7 369.7 621.9 377.1 621.9C384.5 621.9 391.3 621.7 399.4 621.9C407.5 622.1 417.1 622.6 425.9 623.2C434.7 623.8 448.0 625.1 452.4 625.5" stroke="#6d9dd8"/>
<path d="M255.6 616.0C259.5 615.9 271.2 615.6 279.0 615.5C286.8 615.5 294.1 615.5 302.4 615.5C310.7 615.5 319.9 615.5 328.6 615.5C337.3 615.5 346.7 615.5 354.8 615.5C362.9 615.5 369.7 615.5 377.1 615.5C384.5 615.6 391.3 615.9 399.4 616.0C407.5 616.0 417.1 616.0 425.9 616.0C434.7 616.0 448.0 616.0 452.4 616.0" stroke="#5fb50c"/>
<path d="M255.6 611.5C259.5 611.5 271.2 611.3 279.0 611.2C286.8 611.2 294.1 610.9 302.4 611.2C310.7 611.6 319.9 612.9 328.6 613.4C337.3 613.9 346.7 614.1 354.8 614.2C362.9 614.4 369.7 614.2 377.1 614.2C384.5 614.2 391.3 614.4 399.4 614.2C407.5 614.1 417.1 613.8 425.9 613.4C434.7 612.9 448.0 611.8 452.4 611.5" stroke="#585858"/>
<path d="M255.6 602.7C259.5 602.7 271.2 602.7 279.0 602.7C286.8 602.8 294.1 603.4 302.4 603.0C310.7 602.7 319.9 601.1 328.6 600.6C337.3 600.1 346.7 600.2 354.8 600.0C362.9 599.8 369.7 599.6 377.1 599.6C384.5 599.5 391.3 599.5 399.4 599.6C407.5 599.6 417.1 599.5 425.9 600.0C434.7 600.5 448.0 602.3 452.4 602.7" stroke="#e8434a"/>
<path d="M255.6 588.9C259.5 588.8 271.2 588.4 279.0 588.2C286.8 588.0 294.1 587.9 302.4 587.6C310.7 587.3 319.9 586.7 328.6 586.3C337.3 585.9 346.7 585.3 354.8 585.3C362.9 585.3 369.7 586.0 377.1 586.3C384.5 586.6 391.3 587.0 399.4 587.0C407.5 587.0 417.1 586.0 425.9 586.3C434.7 586.6 448.0 588.5 452.4 588.9" stroke="#2470e0"/>
<path d="M255.6 583.4C259.5 583.4 271.2 583.2 279.0 583.1C286.8 583.1 294.1 583.1 302.4 583.1C310.7 583.2 319.9 583.3 328.6 583.4C337.3 583.6 346.7 584.1 354.8 584.0C362.9 583.9 369.7 583.1 377.1 582.9C384.5 582.6 391.3 582.2 399.4 582.3C407.5 582.3 417.1 583.0 425.9 583.1C434.7 583.3 448.0 583.4 452.4 583.4" stroke="#33a866"/>
<path d="M255.6 576.4C259.5 576.1 271.2 575.2 279.0 574.6C286.8 574.1 294.1 573.4 302.4 573.4C310.7 573.3 319.9 573.9 328.6 574.2C337.3 574.5 346.7 575.0 354.8 575.2C362.9 575.5 369.7 575.5 377.1 575.7C384.5 575.8 391.3 576.2 399.4 576.1C407.5 576.0 417.1 575.2 425.9 575.2C434.7 575.3 448.0 576.2 452.4 576.4" stroke="#b884ea"/>
<path d="M255.6 573.9C259.5 573.8 271.2 573.5 279.0 573.4C286.8 573.2 294.1 573.2 302.4 572.8C310.7 572.3 319.9 571.3 328.6 570.8C337.3 570.3 346.7 569.8 354.8 569.8C362.9 569.8 369.7 570.4 377.1 570.8C384.5 571.1 391.3 571.2 399.4 571.6C407.5 572.1 417.1 573.0 425.9 573.4C434.7 573.7 448.0 573.8 452.4 573.9" stroke="#d3a126"/>
</g>
<line x1="302.4" y1="561.4" x2="302.4" y2="720.25" stroke="#dcc4fc" stroke-width="1.1"/>
<line x1="302.4" y1="561.4" x2="302.4" y2="720.25" stroke="#8d3cf4" stroke-width="1.35" stroke-dasharray="1.05 1.05"/>
<line x1="354.8" y1="561.4" x2="354.8" y2="720.25" stroke="#dcc4fc" stroke-width="1.1"/>
<line x1="354.8" y1="561.4" x2="354.8" y2="720.25" stroke="#8d3cf4" stroke-width="1.35" stroke-dasharray="1.05 1.05"/>
<line x1="399.4" y1="561.4" x2="399.4" y2="720.25" stroke="#dcc4fc" stroke-width="1.1"/>
<line x1="399.4" y1="561.4" x2="399.4" y2="720.25" stroke="#8d3cf4" stroke-width="1.35" stroke-dasharray="1.05 1.05"/>
<line x1="257.05" y1="705.8" x2="452.4" y2="705.8" stroke="#000" stroke-width="2" stroke-dasharray="2 1.8"/>
<rect x="255.6" y="561.4" width="196.79999999999998" height="158.85000000000002" fill="none" stroke="#2a2a2a" stroke-width="1.25"/>
<line x1="255.6" y1="705.40" x2="259.0" y2="705.40" stroke="#2a2a2a" stroke-width="1"/>
<text x="252.0" y="708.10" text-anchor="end" class="tk">0</text>
<line x1="255.6" y1="691.00" x2="257.4" y2="691.00" stroke="#2a2a2a" stroke-width="0.9"/>
<line x1="255.6" y1="676.60" x2="259.0" y2="676.60" stroke="#2a2a2a" stroke-width="1"/>
<text x="252.0" y="679.30" text-anchor="end" class="tk">2</text>
<line x1="255.6" y1="662.20" x2="257.4" y2="662.20" stroke="#2a2a2a" stroke-width="0.9"/>
<line x1="255.6" y1="647.80" x2="259.0" y2="647.80" stroke="#2a2a2a" stroke-width="1"/>
<text x="252.0" y="650.50" text-anchor="end" class="tk">4</text>
<line x1="255.6" y1="633.40" x2="257.4" y2="633.40" stroke="#2a2a2a" stroke-width="0.9"/>
<line x1="255.6" y1="619.00" x2="259.0" y2="619.00" stroke="#2a2a2a" stroke-width="1"/>
<text x="252.0" y="621.70" text-anchor="end" class="tk">6</text>
<line x1="255.6" y1="604.60" x2="257.4" y2="604.60" stroke="#2a2a2a" stroke-width="0.9"/>
<line x1="255.6" y1="590.20" x2="259.0" y2="590.20" stroke="#2a2a2a" stroke-width="1"/>
<text x="252.0" y="592.90" text-anchor="end" class="tk">8</text>
<line x1="255.6" y1="575.80" x2="257.4" y2="575.80" stroke="#2a2a2a" stroke-width="0.9"/>
<line x1="255.6" y1="561.40" x2="259.0" y2="561.40" stroke="#2a2a2a" stroke-width="1"/>
<text x="252.0" y="564.10" text-anchor="end" class="tk">10</text>
<text transform="translate(258.0,728.35) scale(1.1,1)" text-anchor="middle" class="kl">G</text>
<text transform="translate(302.1,728.35) scale(1.1,1)" text-anchor="middle" class="kl">F</text>
<text transform="translate(354.4,728.35) scale(1.1,1)" text-anchor="middle" class="kl">Q</text>
<text transform="translate(398.4,728.35) scale(1.1,1)" text-anchor="middle" class="kl">Z</text>
<text transform="translate(449.4,728.35) scale(1.1,1)" text-anchor="middle" class="kl">G</text>
<text x="356.2" y="556.85" text-anchor="middle" class="tt">RbGeSe<tspan font-size="7.2" dy="2.3">3</tspan></text>
<text transform="translate(241.3,643.1) rotate(-90)" text-anchor="middle" class="yl">Frequancy (THz)</text>
<clipPath id="c12"><rect x="486.0" y="567.4" width="196.39999999999998" height="157.96000000000004"/></clipPath>
<g clip-path="url(#c12)" fill="none" stroke-width="1.6" stroke-linejoin="round" stroke-linecap="round">
<path d="M486.0 711.0C489.9 710.4 501.5 708.4 509.3 707.4C517.1 706.4 524.3 705.6 532.6 704.8C540.9 704.0 550.1 702.5 558.9 702.7C567.7 702.8 577.1 704.9 585.2 705.7C593.3 706.5 600.1 707.3 607.6 707.4C615.1 707.6 621.9 706.9 630.0 706.5C638.1 706.2 647.5 704.4 656.2 705.1C664.9 705.9 678.0 710.0 682.4 711.0" stroke="#585858"/>
<path d="M486.0 711.0C489.9 710.0 501.5 706.5 509.3 704.8C517.1 703.1 524.3 701.7 532.6 700.9C540.9 700.2 550.1 699.7 558.9 700.4C567.7 701.0 577.1 704.4 585.2 704.8C593.3 705.2 600.1 703.0 607.6 702.7C615.1 702.3 621.9 702.8 630.0 702.7C638.1 702.6 647.5 700.7 656.2 702.1C664.9 703.5 678.0 709.5 682.4 711.0" stroke="#e8434a"/>
<path d="M486.0 711.0C487.9 710.0 493.8 706.9 497.6 705.3C501.5 703.6 503.5 702.1 509.3 700.9C515.1 699.8 524.3 698.4 532.6 698.1C540.9 697.8 550.1 698.8 558.9 699.1C567.7 699.4 577.1 699.5 585.2 699.8C593.3 700.1 600.1 700.8 607.6 700.9C615.1 701.1 622.8 701.4 630.0 700.9C637.2 700.5 645.7 698.6 651.0 698.4C656.2 698.1 656.2 697.4 661.4 699.5C666.7 701.6 678.9 709.1 682.4 711.0" stroke="#2470e0"/>
<path d="M486.0 693.3C489.9 693.6 501.5 694.6 509.3 695.1C517.1 695.5 524.3 695.7 532.6 695.9C540.9 696.1 550.1 696.4 558.9 696.4C567.7 696.3 577.1 695.9 585.2 695.6C593.3 695.4 600.1 695.0 607.6 695.1C615.1 695.1 621.9 695.9 630.0 695.9C638.1 695.9 647.5 695.5 656.2 695.1C664.9 694.6 678.0 693.6 682.4 693.3" stroke="#33a866"/>
<path d="M486.0 691.0C489.9 691.3 501.5 692.2 509.3 692.8C517.1 693.3 524.3 694.1 532.6 694.2C540.9 694.3 550.1 693.6 558.9 693.3C567.7 693.0 577.1 692.6 585.2 692.3C593.3 692.0 600.1 691.7 607.6 691.5C615.1 691.3 621.9 690.7 630.0 691.0C638.1 691.4 647.5 693.3 656.2 693.3C664.9 693.3 678.0 691.4 682.4 691.0" stroke="#b884ea"/>
<path d="M486.0 688.9C489.9 689.0 501.5 689.4 509.3 689.7C517.1 690.1 524.3 690.9 532.6 691.0C540.9 691.1 550.1 690.5 558.9 690.3C567.7 690.1 577.1 689.8 585.2 689.7C593.3 689.7 600.1 689.8 607.6 689.7C615.1 689.7 621.9 689.2 630.0 689.2C638.1 689.2 647.5 689.8 656.2 689.7C664.9 689.7 678.0 689.0 682.4 688.9" stroke="#d3a126"/>
<path d="M486.0 687.0C489.9 687.0 501.5 686.9 509.3 687.0C517.1 687.1 524.3 687.3 532.6 687.4C540.9 687.6 550.1 687.8 558.9 688.0C567.7 688.3 577.1 688.9 585.2 688.9C593.3 688.9 600.1 688.3 607.6 688.0C615.1 687.7 621.9 687.1 630.0 687.0C638.1 686.9 647.5 687.4 656.2 687.4C664.9 687.4 678.0 687.1 682.4 687.0" stroke="#22cccc"/>
<path d="M486.0 685.3C489.9 685.4 501.5 685.6 509.3 685.7C517.1 685.9 524.3 686.2 532.6 686.2C540.9 686.2 550.1 685.9 558.9 685.7C567.7 685.6 577.1 685.3 585.2 685.3C593.3 685.3 600.1 685.7 607.6 685.7C615.1 685.8 621.9 685.8 630.0 685.7C638.1 685.7 647.5 685.4 656.2 685.3C664.9 685.2 678.0 685.3 682.4 685.3" stroke="#885a5e"/>
<path d="M486.0 683.9C489.9 684.0 501.5 684.2 509.3 684.4C517.1 684.6 524.3 685.0 532.6 685.0C540.9 685.0 550.1 684.6 558.9 684.4C567.7 684.2 577.1 683.9 585.2 683.9C593.3 683.9 600.1 684.2 607.6 684.4C615.1 684.6 621.9 685.0 630.0 685.0C638.1 685.0 647.5 684.6 656.2 684.4C664.9 684.2 678.0 684.0 682.4 683.9" stroke="#9e9c18"/>
<path d="M486.0 683.1C489.9 683.0 501.5 682.4 509.3 682.1C517.1 681.9 524.3 681.6 532.6 681.7C540.9 681.8 550.1 682.5 558.9 682.7C567.7 683.0 577.1 683.1 585.2 683.1C593.3 683.2 600.1 683.0 607.6 683.1C615.1 683.3 621.9 683.7 630.0 683.9C638.1 684.0 647.5 684.0 656.2 683.9C664.9 683.7 678.0 683.3 682.4 683.1" stroke="#f26d12"/>
<path d="M486.0 681.4C489.9 681.4 501.5 681.5 509.3 681.4C517.1 681.3 524.3 680.9 532.6 680.8C540.9 680.7 550.1 680.9 558.9 680.8C567.7 680.8 577.1 680.4 585.2 680.4C593.3 680.4 600.1 680.6 607.6 680.8C615.1 681.1 621.9 681.6 630.0 681.7C638.1 681.8 647.5 681.5 656.2 681.4C664.9 681.4 678.0 681.4 682.4 681.4" stroke="#6d9dd8"/>
<path d="M486.0 680.0C489.9 679.9 501.5 679.8 509.3 679.7C517.1 679.6 524.3 679.2 532.6 679.1C540.9 679.0 550.1 679.1 558.9 679.1C567.7 679.1 577.1 679.0 585.2 679.1C593.3 679.3 600.1 679.6 607.6 680.0C615.1 680.4 621.9 681.4 630.0 681.4C638.1 681.4 647.5 680.2 656.2 680.0C664.9 679.7 678.0 680.0 682.4 680.0" stroke="#5fb50c"/>
<path d="M486.0 679.1C489.9 678.9 501.5 678.1 509.3 677.8C517.1 677.5 524.3 677.4 532.6 677.4C540.9 677.4 550.1 677.9 558.9 677.8C567.7 677.7 577.1 676.8 585.2 676.8C593.3 676.9 600.1 677.9 607.6 678.3C615.1 678.6 621.9 679.1 630.0 679.1C638.1 679.1 647.5 678.3 656.2 678.3C664.9 678.3 678.0 679.0 682.4 679.1" stroke="#585858"/>
<path d="M486.0 676.8C489.9 676.8 501.5 676.5 509.3 676.4C517.1 676.3 524.3 676.4 532.6 676.4C540.9 676.4 550.1 676.5 558.9 676.4C567.7 676.2 577.1 675.6 585.2 675.5C593.3 675.5 600.1 676.1 607.6 676.1C615.1 676.1 621.9 675.5 630.0 675.5C638.1 675.6 647.5 676.2 656.2 676.4C664.9 676.6 678.0 676.8 682.4 676.8" stroke="#e8434a"/>
<path d="M486.0 675.1C489.9 675.2 501.5 675.5 509.3 675.5C517.1 675.6 524.3 675.7 532.6 675.5C540.9 675.4 550.1 675.0 558.9 674.7C567.7 674.4 577.1 674.0 585.2 673.8C593.3 673.6 600.1 673.2 607.6 673.2C615.1 673.2 621.9 673.6 630.0 673.8C638.1 674.0 647.5 674.2 656.2 674.4C664.9 674.6 678.0 675.0 682.4 675.1" stroke="#2470e0"/>
<path d="M486.0 669.8C489.9 669.7 501.5 669.5 509.3 669.4C517.1 669.2 524.3 668.8 532.6 669.1C540.9 669.3 550.1 670.1 558.9 670.8C567.7 671.5 577.1 672.9 585.2 673.2C593.3 673.6 600.1 673.1 607.6 672.9C615.1 672.8 621.9 672.4 630.0 672.1C638.1 671.8 647.5 671.5 656.2 671.1C664.9 670.7 678.0 670.0 682.4 669.8" stroke="#33a866"/>
<path d="M486.0 669.4C489.9 669.3 501.5 669.2 509.3 669.1C517.1 668.9 524.3 668.3 532.6 668.5C540.9 668.7 550.1 669.6 558.9 670.2C567.7 670.8 577.1 671.8 585.2 672.1C593.3 672.4 600.1 672.2 607.6 672.1C615.1 672.0 621.9 671.8 630.0 671.5C638.1 671.2 647.5 670.7 656.2 670.2C664.9 669.7 678.0 668.8 682.4 668.5" stroke="#b884ea"/>
<path d="M486.0 667.2C489.9 667.2 501.5 667.2 509.3 667.2C517.1 667.2 524.3 667.7 532.6 667.2C540.9 666.7 550.1 664.9 558.9 664.0C567.7 663.2 577.1 662.6 585.2 662.3C593.3 662.0 600.1 662.3 607.6 662.3C615.1 662.3 621.9 662.0 630.0 662.3C638.1 662.6 647.5 663.2 656.2 664.0C664.9 664.9 678.0 666.7 682.4 667.2" stroke="#d3a126"/>
<path d="M486.0 655.6C489.9 655.6 501.5 655.6 509.3 655.6C517.1 655.5 524.3 655.1 532.6 655.1C540.9 655.2 550.1 655.6 558.9 656.0C567.7 656.4 577.1 657.1 585.2 657.3C593.3 657.5 600.1 657.3 607.6 657.3C615.1 657.2 621.9 657.2 630.0 657.0C638.1 656.8 647.5 656.3 656.2 656.0C664.9 655.7 678.0 655.3 682.4 655.1" stroke="#22cccc"/>
<path d="M486.0 649.5C489.9 649.5 501.5 649.5 509.3 649.5C517.1 649.5 524.3 649.3 532.6 649.5C540.9 649.8 550.1 650.9 558.9 651.3C567.7 651.6 577.1 651.6 585.2 651.7C593.3 651.8 600.1 651.6 607.6 651.7C615.1 651.7 621.9 652.1 630.0 652.0C638.1 651.9 647.5 651.6 656.2 651.3C664.9 650.9 678.0 650.1 682.4 649.8" stroke="#885a5e"/>
<path d="M486.0 649.5C489.9 649.5 501.5 649.6 509.3 649.5C517.1 649.4 524.3 649.1 532.6 649.0C540.9 648.9 550.1 649.0 558.9 649.0C567.7 649.0 577.1 648.9 585.2 649.0C593.3 649.1 600.1 649.4 607.6 649.5C615.1 649.7 621.9 649.8 630.0 649.8C638.1 649.9 647.5 649.9 656.2 649.8C664.9 649.8 678.0 649.6 682.4 649.5" stroke="#9e9c18"/>
<path d="M486.0 637.8C489.9 637.6 501.5 637.2 509.3 637.0C517.1 636.9 524.3 637.0 532.6 637.0C540.9 637.0 550.1 637.0 558.9 637.0C567.7 637.1 577.1 637.4 585.2 637.5C593.3 637.5 600.1 637.5 607.6 637.5C615.1 637.5 621.9 637.5 630.0 637.5C638.1 637.5 647.5 637.5 656.2 637.5C664.9 637.5 678.0 637.5 682.4 637.5" stroke="#f26d12"/>
<path d="M486.0 633.0C489.9 633.0 501.5 633.0 509.3 633.0C517.1 633.0 524.3 633.1 532.6 633.0C540.9 632.9 550.1 632.5 558.9 632.5C567.7 632.4 577.1 632.5 585.2 632.5C593.3 632.5 600.1 632.5 607.6 632.5C615.1 632.5 621.9 632.5 630.0 632.5C638.1 632.5 647.5 632.4 656.2 632.5C664.9 632.5 678.0 632.9 682.4 633.0" stroke="#6d9dd8"/>
<path d="M486.0 629.4C489.9 629.4 501.5 629.1 509.3 629.0C517.1 628.9 524.3 628.9 532.6 628.6C540.9 628.3 550.1 627.7 558.9 627.1C567.7 626.6 577.1 625.7 585.2 625.4C593.3 625.1 600.1 625.1 607.6 625.1C615.1 625.1 621.9 625.0 630.0 625.4C638.1 625.8 647.5 626.9 656.2 627.7C664.9 628.5 678.0 629.6 682.4 630.0" stroke="#5fb50c"/>
<path d="M486.0 623.0C489.9 623.0 501.5 623.1 509.3 623.0C517.1 622.9 524.3 622.3 532.6 622.4C540.9 622.5 550.1 623.2 558.9 623.7C567.7 624.2 577.1 625.2 585.2 625.4C593.3 625.7 600.1 625.2 607.6 625.1C615.1 625.0 621.9 624.9 630.0 624.7C638.1 624.5 647.5 624.4 656.2 624.1C664.9 623.8 678.0 623.2 682.4 623.0" stroke="#585858"/>
<path d="M486.0 611.2C489.9 611.2 501.5 611.2 509.3 611.2C517.1 611.2 524.3 611.3 532.6 611.2C540.9 611.1 550.1 610.8 558.9 610.5C567.7 610.2 577.1 609.6 585.2 609.5C593.3 609.3 600.1 609.5 607.6 609.5C615.1 609.5 621.9 609.2 630.0 609.5C638.1 609.7 647.5 610.6 656.2 610.9C664.9 611.2 678.0 611.2 682.4 611.2" stroke="#e8434a"/>
<path d="M486.0 609.5C489.9 609.4 501.5 609.2 509.3 609.0C517.1 608.9 524.3 609.0 532.6 608.8C540.9 608.5 550.1 607.6 558.9 607.6C567.7 607.7 577.1 608.9 585.2 609.0C593.3 609.2 600.1 608.8 607.6 608.8C615.1 608.8 621.9 609.3 630.0 609.0C638.1 608.8 647.5 607.3 656.2 607.3C664.9 607.3 678.0 608.8 682.4 609.0" stroke="#2470e0"/>
<path d="M486.0 605.9C489.9 605.8 501.5 605.3 509.3 605.2C517.1 605.0 524.3 605.5 532.6 605.2C540.9 604.8 550.1 603.4 558.9 602.9C567.7 602.3 577.1 602.0 585.2 602.0C593.3 602.0 600.1 602.7 607.6 602.9C615.1 603.0 621.9 602.7 630.0 602.9C638.1 603.0 647.5 603.1 656.2 603.7C664.9 604.3 678.0 606.0 682.4 606.5" stroke="#33a866"/>
<path d="M486.0 602.4C489.9 602.3 501.5 601.9 509.3 601.7C517.1 601.5 524.3 601.1 532.6 601.1C540.9 601.1 550.1 601.5 558.9 601.7C567.7 601.9 577.1 602.4 585.2 602.4C593.3 602.5 600.1 602.1 607.6 602.0C615.1 601.9 621.9 601.7 630.0 601.7C638.1 601.7 647.5 601.9 656.2 602.0C664.9 602.1 678.0 602.4 682.4 602.4" stroke="#b884ea"/>
<path d="M486.0 601.1C489.9 600.9 501.5 600.3 509.3 599.9C517.1 599.4 524.3 598.7 532.6 598.4C540.9 598.1 550.1 598.3 558.9 598.1C567.7 597.9 577.1 597.1 585.2 597.1C593.3 597.1 600.1 597.8 607.6 598.1C615.1 598.4 621.9 598.6 630.0 598.8C638.1 599.1 647.5 599.5 656.2 599.9C664.9 600.2 678.0 600.9 682.4 601.1" stroke="#d3a126"/>
</g>
<line x1="532.6" y1="567.4" x2="532.6" y2="725.36" stroke="#dcc4fc" stroke-width="1.1"/>
<line x1="532.6" y1="567.4" x2="532.6" y2="725.36" stroke="#8d3cf4" stroke-width="1.35" stroke-dasharray="1.05 1.05"/>
<line x1="585.2" y1="567.4" x2="585.2" y2="725.36" stroke="#dcc4fc" stroke-width="1.1"/>
<line x1="585.2" y1="567.4" x2="585.2" y2="725.36" stroke="#8d3cf4" stroke-width="1.35" stroke-dasharray="1.05 1.05"/>
<line x1="630.0" y1="567.4" x2="630.0" y2="725.36" stroke="#dcc4fc" stroke-width="1.1"/>
<line x1="630.0" y1="567.4" x2="630.0" y2="725.36" stroke="#8d3cf4" stroke-width="1.35" stroke-dasharray="1.05 1.05"/>
<line x1="487.45" y1="711.4" x2="682.4" y2="711.4" stroke="#000" stroke-width="2" stroke-dasharray="2 1.8"/>
<rect x="486.0" y="567.4" width="196.39999999999998" height="157.96000000000004" fill="none" stroke="#2a2a2a" stroke-width="1.25"/>
<line x1="486.0" y1="711.00" x2="489.4" y2="711.00" stroke="#2a2a2a" stroke-width="1"/>
<text x="482.4" y="713.70" text-anchor="end" class="tk">0</text>
<line x1="486.0" y1="696.64" x2="487.8" y2="696.64" stroke="#2a2a2a" stroke-width="0.9"/>
<line x1="486.0" y1="682.28" x2="489.4" y2="682.28" stroke="#2a2a2a" stroke-width="1"/>
<text x="482.4" y="684.98" text-anchor="end" class="tk">2</text>
<line x1="486.0" y1="667.92" x2="487.8" y2="667.92" stroke="#2a2a2a" stroke-width="0.9"/>
<line x1="486.0" y1="653.56" x2="489.4" y2="653.56" stroke="#2a2a2a" stroke-width="1"/>
<text x="482.4" y="656.26" text-anchor="end" class="tk">4</text>
<line x1="486.0" y1="639.20" x2="487.8" y2="639.20" stroke="#2a2a2a" stroke-width="0.9"/>
<line x1="486.0" y1="624.84" x2="489.4" y2="624.84" stroke="#2a2a2a" stroke-width="1"/>
<text x="482.4" y="627.54" text-anchor="end" class="tk">6</text>
<line x1="486.0" y1="610.48" x2="487.8" y2="610.48" stroke="#2a2a2a" stroke-width="0.9"/>
<line x1="486.0" y1="596.12" x2="489.4" y2="596.12" stroke="#2a2a2a" stroke-width="1"/>
<text x="482.4" y="598.82" text-anchor="end" class="tk">8</text>
<line x1="486.0" y1="581.76" x2="487.8" y2="581.76" stroke="#2a2a2a" stroke-width="0.9"/>
<line x1="486.0" y1="567.40" x2="489.4" y2="567.40" stroke="#2a2a2a" stroke-width="1"/>
<text x="482.4" y="570.10" text-anchor="end" class="tk">10</text>
<text transform="translate(488.7,733.46) scale(1.1,1)" text-anchor="middle" class="kl">G</text>
<text transform="translate(532.0,733.46) scale(1.1,1)" text-anchor="middle" class="kl">F</text>
<text transform="translate(585.1,733.46) scale(1.1,1)" text-anchor="middle" class="kl">Q</text>
<text transform="translate(628.7,733.46) scale(1.1,1)" text-anchor="middle" class="kl">Z</text>
<text transform="translate(679.5,733.46) scale(1.1,1)" text-anchor="middle" class="kl">G</text>
<text x="586.2" y="562.9" text-anchor="middle" class="tt">RbSnSe<tspan font-size="7.2" dy="2.3">3</tspan></text>
<text transform="translate(471.7,648.7) rotate(-90)" text-anchor="middle" class="yl">Frequancy (THz)</text>
<clipPath id="c13"><rect x="26.0" y="743.6" width="197.0" height="158.8928571428571"/></clipPath>
<g clip-path="url(#c13)" fill="none" stroke-width="1.6" stroke-linejoin="round" stroke-linecap="round">
<path d="M26.0 891.9C29.9 891.4 41.8 889.8 49.7 888.9C57.6 888.1 65.2 887.5 73.4 886.6C81.7 885.7 90.6 883.7 99.2 883.5C107.8 883.3 117.1 884.8 125.0 885.3C132.9 885.8 139.5 886.6 146.8 886.6C154.1 886.6 160.4 885.3 168.6 885.3C176.8 885.3 186.7 885.5 195.8 886.6C204.9 887.7 218.5 891.0 223.0 891.9" stroke="#585858"/>
<path d="M26.0 891.9C29.9 890.9 41.8 887.3 49.7 885.9C57.6 884.5 65.2 884.1 73.4 883.5C81.7 883.0 90.6 882.7 99.2 882.7C107.8 882.7 117.1 883.5 125.0 883.5C132.9 883.5 139.5 882.8 146.8 882.7C154.1 882.5 160.4 882.5 168.6 882.7C176.8 882.9 186.7 882.5 195.8 884.1C204.9 885.6 218.5 890.6 223.0 891.9" stroke="#e8434a"/>
<path d="M26.0 891.9C29.9 890.5 41.8 885.4 49.7 883.5C57.6 881.7 65.2 881.3 73.4 880.9C81.7 880.4 90.6 881.0 99.2 880.9C107.8 880.7 117.1 880.0 125.0 880.0C132.9 880.0 139.5 880.6 146.8 880.9C154.1 881.2 160.4 881.8 168.6 881.7C176.8 881.7 189.5 880.5 195.8 880.6C202.1 880.6 202.1 879.9 206.7 881.8C211.2 883.7 220.3 890.2 223.0 891.9" stroke="#2470e0"/>
<path d="M26.0 877.7C29.9 878.0 41.8 879.0 49.7 879.5C57.6 880.0 65.2 880.6 73.4 880.6C81.7 880.5 90.6 879.5 99.2 879.1C107.8 878.7 117.1 878.2 125.0 878.2C132.9 878.3 139.5 879.0 146.8 879.5C154.1 880.0 160.4 881.3 168.6 881.2C176.8 881.1 186.7 879.7 195.8 879.1C204.9 878.5 218.5 877.9 223.0 877.7" stroke="#33a866"/>
<path d="M26.0 876.4C29.9 876.8 41.8 878.3 49.7 878.8C57.6 879.2 65.2 879.2 73.4 879.1C81.7 879.0 90.6 878.5 99.2 878.2C107.8 878.0 117.1 877.5 125.0 877.4C132.9 877.2 139.5 877.3 146.8 877.4C154.1 877.4 160.4 877.7 168.6 877.7C176.8 877.7 186.7 877.6 195.8 877.4C204.9 877.2 218.5 876.6 223.0 876.4" stroke="#b884ea"/>
<path d="M26.0 875.2C29.9 875.2 41.8 875.5 49.7 875.6C57.6 875.7 65.2 875.8 73.4 875.9C81.7 876.0 90.6 876.3 99.2 876.4C107.8 876.6 117.1 877.1 125.0 877.0C132.9 876.9 139.5 876.2 146.8 875.9C154.1 875.6 160.4 875.3 168.6 875.2C176.8 875.0 186.7 875.2 195.8 875.2C204.9 875.2 218.5 875.2 223.0 875.2" stroke="#d3a126"/>
<path d="M26.0 873.8C29.9 873.8 41.8 873.7 49.7 873.8C57.6 873.8 65.2 874.0 73.4 874.1C81.7 874.2 90.6 874.3 99.2 874.6C107.8 874.9 117.1 875.8 125.0 875.9C132.9 876.0 139.5 875.4 146.8 875.2C154.1 875.0 160.4 874.8 168.6 874.6C176.8 874.5 186.7 874.2 195.8 874.1C204.9 874.0 218.5 873.8 223.0 873.8" stroke="#22cccc"/>
<path d="M26.0 872.9C29.9 872.9 41.8 872.6 49.7 872.4C57.6 872.3 65.2 872.0 73.4 872.0C81.7 872.0 90.6 872.2 99.2 872.4C107.8 872.7 117.1 873.4 125.0 873.5C132.9 873.6 139.5 873.1 146.8 872.9C154.1 872.8 160.4 872.5 168.6 872.4C176.8 872.3 186.7 872.3 195.8 872.4C204.9 872.5 218.5 872.9 223.0 872.9" stroke="#885a5e"/>
<path d="M26.0 871.7C29.9 871.6 41.8 871.1 49.7 871.1C57.6 871.1 65.2 871.5 73.4 871.7C81.7 871.9 90.6 872.4 99.2 872.4C107.8 872.5 117.1 872.1 125.0 872.0C132.9 871.9 139.5 871.7 146.8 871.7C154.1 871.6 160.4 871.6 168.6 871.7C176.8 871.7 186.7 872.0 195.8 872.0C204.9 872.0 218.5 871.7 223.0 871.7" stroke="#9e9c18"/>
<path d="M26.0 868.8C29.9 868.7 41.8 868.3 49.7 868.1C57.6 867.9 65.2 867.7 73.4 867.5C81.7 867.4 90.6 867.2 99.2 867.0C107.8 866.8 117.1 866.4 125.0 866.4C132.9 866.4 139.5 866.9 146.8 867.0C154.1 867.1 160.4 866.8 168.6 867.0C176.8 867.2 186.7 867.8 195.8 868.1C204.9 868.4 218.5 868.7 223.0 868.8" stroke="#f26d12"/>
<path d="M26.0 865.8C29.9 865.7 41.8 865.1 49.7 864.9C57.6 864.7 65.2 864.6 73.4 864.6C81.7 864.6 90.6 864.8 99.2 864.9C107.8 865.0 117.1 865.2 125.0 865.3C132.9 865.4 139.5 865.4 146.8 865.3C154.1 865.2 160.4 865.0 168.6 864.9C176.8 864.8 186.7 864.7 195.8 864.9C204.9 865.0 218.5 865.7 223.0 865.8" stroke="#6d9dd8"/>
<path d="M26.0 864.9C29.9 864.7 41.8 863.9 49.7 863.5C57.6 863.2 65.2 862.8 73.4 862.8C81.7 862.7 90.6 863.0 99.2 863.1C107.8 863.2 117.1 863.4 125.0 863.5C132.9 863.7 139.5 864.0 146.8 864.0C154.1 864.1 160.4 864.0 168.6 864.0C176.8 864.1 186.7 864.4 195.8 864.6C204.9 864.7 218.5 864.8 223.0 864.9" stroke="#5fb50c"/>
<path d="M26.0 862.2C29.9 862.2 41.8 861.9 49.7 861.7C57.6 861.6 65.2 861.4 73.4 861.4C81.7 861.3 90.6 861.4 99.2 861.4C107.8 861.4 117.1 861.3 125.0 861.4C132.9 861.4 139.5 861.6 146.8 861.7C154.1 861.9 160.4 862.2 168.6 862.2C176.8 862.3 186.7 862.2 195.8 862.2C204.9 862.3 218.5 862.7 223.0 862.8" stroke="#585858"/>
<path d="M26.0 859.3C29.9 859.3 41.8 859.2 49.7 859.3C57.6 859.3 65.2 859.5 73.4 859.6C81.7 859.7 90.6 859.6 99.2 859.9C107.8 860.2 117.1 861.2 125.0 861.4C132.9 861.6 139.5 861.1 146.8 861.0C154.1 860.8 160.4 860.7 168.6 860.4C176.8 860.2 186.7 859.8 195.8 859.6C204.9 859.4 218.5 859.3 223.0 859.3" stroke="#e8434a"/>
<path d="M26.0 857.5C29.9 857.5 41.8 857.5 49.7 857.5C57.6 857.5 65.2 857.4 73.4 857.5C81.7 857.5 90.6 857.7 99.2 857.8C107.8 857.9 117.1 858.2 125.0 858.2C132.9 858.2 139.5 857.9 146.8 857.8C154.1 857.7 160.4 857.8 168.6 857.8C176.8 857.7 186.7 857.5 195.8 857.5C204.9 857.4 218.5 857.5 223.0 857.5" stroke="#2470e0"/>
<path d="M26.0 854.3C29.9 854.3 41.8 854.3 49.7 854.3C57.6 854.3 65.2 854.3 73.4 854.3C81.7 854.3 90.6 854.3 99.2 854.3C107.8 854.3 117.1 854.3 125.0 854.3C132.9 854.3 139.5 854.3 146.8 854.3C154.1 854.3 160.4 854.3 168.6 854.3C176.8 854.3 186.7 854.3 195.8 854.3C204.9 854.3 218.5 854.3 223.0 854.3" stroke="#33a866"/>
<path d="M26.0 852.8C29.9 852.8 41.8 852.8 49.7 852.8C57.6 852.8 65.2 852.7 73.4 852.8C81.7 852.9 90.6 853.2 99.2 853.3C107.8 853.5 117.1 853.9 125.0 853.9C132.9 853.9 139.5 853.5 146.8 853.3C154.1 853.2 160.4 852.9 168.6 852.8C176.8 852.7 186.7 852.8 195.8 852.8C204.9 852.8 218.5 852.8 223.0 852.8" stroke="#b884ea"/>
<path d="M26.0 852.5C29.9 852.4 41.8 852.8 49.7 852.2C57.6 851.6 65.2 849.3 73.4 848.9C81.7 848.5 90.6 849.5 99.2 849.8C107.8 850.2 117.1 850.9 125.0 851.1C132.9 851.3 139.5 851.1 146.8 851.1C154.1 851.1 160.4 851.2 168.6 851.1C176.8 851.0 186.7 850.8 195.8 850.7C204.9 850.6 218.5 850.4 223.0 850.4" stroke="#d3a126"/>
<path d="M26.0 848.6C29.9 848.5 41.8 848.1 49.7 848.0C57.6 848.0 65.2 848.2 73.4 848.0C81.7 847.9 90.6 847.4 99.2 847.2C107.8 847.0 117.1 846.8 125.0 846.8C132.9 846.8 139.5 847.1 146.8 847.2C154.1 847.3 160.4 847.2 168.6 847.2C176.8 847.2 186.7 846.9 195.8 847.2C204.9 847.5 218.5 848.6 223.0 848.9" stroke="#22cccc"/>
<path d="M26.0 843.3C29.9 843.2 41.8 842.9 49.7 842.7C57.6 842.6 65.2 841.9 73.4 842.2C81.7 842.5 90.6 843.8 99.2 844.4C107.8 845.1 117.1 845.9 125.0 846.2C132.9 846.5 139.5 846.2 146.8 846.2C154.1 846.3 160.4 847.1 168.6 846.8C176.8 846.5 186.7 845.0 195.8 844.4C204.9 843.9 218.5 843.5 223.0 843.3" stroke="#885a5e"/>
<path d="M26.0 835.7C29.9 835.7 41.8 836.1 49.7 836.2C57.6 836.3 65.2 836.2 73.4 836.2C81.7 836.2 90.6 836.1 99.2 836.2C107.8 836.2 117.1 836.4 125.0 836.5C132.9 836.6 139.5 836.5 146.8 836.5C154.1 836.5 160.4 836.6 168.6 836.5C176.8 836.4 186.7 836.3 195.8 836.2C204.9 836.0 218.5 835.7 223.0 835.7" stroke="#9e9c18"/>
<path d="M26.0 829.7C29.9 829.7 41.8 829.8 49.7 829.7C57.6 829.7 65.2 829.5 73.4 829.4C81.7 829.3 90.6 829.2 99.2 829.1C107.8 828.9 117.1 828.6 125.0 828.6C132.9 828.5 139.5 828.6 146.8 828.6C154.1 828.6 160.4 828.5 168.6 828.6C176.8 828.6 186.7 828.9 195.8 829.1C204.9 829.3 218.5 829.6 223.0 829.7" stroke="#f26d12"/>
<path d="M26.0 822.6C29.9 822.6 41.8 822.6 49.7 822.6C57.6 822.6 65.2 822.7 73.4 822.6C81.7 822.5 90.6 822.2 99.2 822.0C107.8 821.8 117.1 821.5 125.0 821.5C132.9 821.5 139.5 821.9 146.8 822.0C154.1 822.1 160.4 821.9 168.6 822.0C176.8 822.0 186.7 822.1 195.8 822.3C204.9 822.5 218.5 823.0 223.0 823.2" stroke="#6d9dd8"/>
<path d="M26.0 821.5C29.9 821.5 41.8 821.5 49.7 821.5C57.6 821.4 65.2 821.0 73.4 820.9C81.7 820.8 90.6 820.9 99.2 820.9C107.8 820.9 117.1 820.9 125.0 820.9C132.9 820.9 139.5 820.9 146.8 820.9C154.1 820.9 160.4 820.8 168.6 820.9C176.8 821.0 186.7 821.4 195.8 821.5C204.9 821.5 218.5 821.5 223.0 821.5" stroke="#5fb50c"/>
<path d="M26.0 810.2C29.9 810.2 41.8 810.0 49.7 809.9C57.6 809.9 65.2 809.6 73.4 809.9C81.7 810.2 90.6 811.3 99.2 811.6C107.8 811.9 117.1 811.6 125.0 811.6C132.9 811.6 139.5 811.6 146.8 811.6C154.1 811.6 160.4 811.6 168.6 811.6C176.8 811.6 186.7 811.8 195.8 811.6C204.9 811.4 218.5 810.5 223.0 810.2" stroke="#585858"/>
<path d="M26.0 807.8C29.9 807.7 41.8 807.4 49.7 807.3C57.6 807.1 65.2 807.0 73.4 806.7C81.7 806.4 90.6 805.7 99.2 805.5C107.8 805.3 117.1 805.5 125.0 805.5C132.9 805.5 139.5 805.6 146.8 805.5C154.1 805.3 160.4 804.5 168.6 804.5C176.8 804.5 186.7 804.9 195.8 805.5C204.9 806.1 218.5 807.7 223.0 808.1" stroke="#e8434a"/>
<path d="M26.0 764.0C29.9 764.0 41.8 763.9 49.7 763.7C57.6 763.6 65.2 763.2 73.4 763.3C81.7 763.4 90.6 764.6 99.2 764.6C107.8 764.6 117.1 763.4 125.0 763.3C132.9 763.2 139.5 763.9 146.8 764.0C154.1 764.2 160.4 764.0 168.6 764.0C176.8 764.1 186.7 764.6 195.8 764.6C204.9 764.6 218.5 764.1 223.0 764.0" stroke="#2470e0"/>
<path d="M26.0 763.7C29.9 763.7 41.8 763.8 49.7 763.7C57.6 763.7 65.2 764.2 73.4 763.3C81.7 762.4 90.6 759.5 99.2 758.3C107.8 757.1 117.1 756.6 125.0 756.2C132.9 755.9 139.5 756.1 146.8 756.2C154.1 756.3 160.4 756.6 168.6 756.9C176.8 757.3 186.7 757.3 195.8 758.3C204.9 759.4 218.5 762.5 223.0 763.3" stroke="#33a866"/>
<path d="M26.0 748.0C29.9 748.0 41.8 748.0 49.7 748.0C57.6 748.0 65.2 747.8 73.4 748.0C81.7 748.3 90.6 749.2 99.2 749.5C107.8 749.8 117.1 749.7 125.0 749.8C132.9 750.0 139.5 750.1 146.8 750.4C154.1 750.6 160.4 751.4 168.6 751.3C176.8 751.2 186.7 750.3 195.8 749.8C204.9 749.4 218.5 748.8 223.0 748.6" stroke="#b884ea"/>
<path d="M26.0 748.0C29.9 747.8 41.8 746.8 49.7 746.4C57.6 745.9 65.2 745.8 73.4 745.6C81.7 745.4 90.6 745.2 99.2 745.1C107.8 745.0 117.1 745.1 125.0 745.1C132.9 745.1 139.5 745.0 146.8 745.1C154.1 745.2 160.4 745.3 168.6 745.6C176.8 745.9 186.7 746.5 195.8 746.9C204.9 747.3 218.5 747.9 223.0 748.0" stroke="#d3a126"/>
</g>
<line x1="73.4" y1="743.6" x2="73.4" y2="902.4928571428571" stroke="#dcc4fc" stroke-width="1.1"/>
<line x1="73.4" y1="743.6" x2="73.4" y2="902.4928571428571" stroke="#8d3cf4" stroke-width="1.35" stroke-dasharray="1.05 1.05"/>
<line x1="125.0" y1="743.6" x2="125.0" y2="902.4928571428571" stroke="#dcc4fc" stroke-width="1.1"/>
<line x1="125.0" y1="743.6" x2="125.0" y2="902.4928571428571" stroke="#8d3cf4" stroke-width="1.35" stroke-dasharray="1.05 1.05"/>
<line x1="168.6" y1="743.6" x2="168.6" y2="902.4928571428571" stroke="#dcc4fc" stroke-width="1.1"/>
<line x1="168.6" y1="743.6" x2="168.6" y2="902.4928571428571" stroke="#8d3cf4" stroke-width="1.35" stroke-dasharray="1.05 1.05"/>
<line x1="27.45" y1="892.3" x2="223.0" y2="892.3" stroke="#000" stroke-width="2" stroke-dasharray="2 1.8"/>
<rect x="26.0" y="743.6" width="197.0" height="158.8928571428571" fill="none" stroke="#2a2a2a" stroke-width="1.25"/>
<line x1="26.0" y1="891.90" x2="29.4" y2="891.90" stroke="#2a2a2a" stroke-width="1"/>
<text x="22.4" y="894.60" text-anchor="end" class="tk">0</text>
<line x1="26.0" y1="881.31" x2="27.8" y2="881.31" stroke="#2a2a2a" stroke-width="0.9"/>
<line x1="26.0" y1="870.71" x2="29.4" y2="870.71" stroke="#2a2a2a" stroke-width="1"/>
<text x="22.4" y="873.41" text-anchor="end" class="tk">2</text>
<line x1="26.0" y1="860.12" x2="27.8" y2="860.12" stroke="#2a2a2a" stroke-width="0.9"/>
<line x1="26.0" y1="849.53" x2="29.4" y2="849.53" stroke="#2a2a2a" stroke-width="1"/>
<text x="22.4" y="852.23" text-anchor="end" class="tk">4</text>
<line x1="26.0" y1="838.94" x2="27.8" y2="838.94" stroke="#2a2a2a" stroke-width="0.9"/>
<line x1="26.0" y1="828.34" x2="29.4" y2="828.34" stroke="#2a2a2a" stroke-width="1"/>
<text x="22.4" y="831.04" text-anchor="end" class="tk">6</text>
<line x1="26.0" y1="817.75" x2="27.8" y2="817.75" stroke="#2a2a2a" stroke-width="0.9"/>
<line x1="26.0" y1="807.16" x2="29.4" y2="807.16" stroke="#2a2a2a" stroke-width="1"/>
<text x="22.4" y="809.86" text-anchor="end" class="tk">8</text>
<line x1="26.0" y1="796.56" x2="27.8" y2="796.56" stroke="#2a2a2a" stroke-width="0.9"/>
<line x1="26.0" y1="785.97" x2="29.4" y2="785.97" stroke="#2a2a2a" stroke-width="1"/>
<text x="22.4" y="788.67" text-anchor="end" class="tk">10</text>
<line x1="26.0" y1="775.38" x2="27.8" y2="775.38" stroke="#2a2a2a" stroke-width="0.9"/>
<line x1="26.0" y1="764.79" x2="29.4" y2="764.79" stroke="#2a2a2a" stroke-width="1"/>
<text x="22.4" y="767.49" text-anchor="end" class="tk">12</text>
<line x1="26.0" y1="754.19" x2="27.8" y2="754.19" stroke="#2a2a2a" stroke-width="0.9"/>
<line x1="26.0" y1="743.60" x2="29.4" y2="743.60" stroke="#2a2a2a" stroke-width="1"/>
<text x="22.4" y="746.30" text-anchor="end" class="tk">14</text>
<text transform="translate(28.8,910.59) scale(1.1,1)" text-anchor="middle" class="kl">G</text>
<text transform="translate(72.7,910.59) scale(1.1,1)" text-anchor="middle" class="kl">F</text>
<text transform="translate(125.0,910.59) scale(1.1,1)" text-anchor="middle" class="kl">Q</text>
<text transform="translate(168.4,910.59) scale(1.1,1)" text-anchor="middle" class="kl">Z</text>
<text transform="translate(220.4,910.59) scale(1.1,1)" text-anchor="middle" class="kl">G</text>
<text x="120.9" y="739.8" text-anchor="middle" class="tt">CsSiSe<tspan font-size="7.2" dy="2.3">3</tspan></text>
<text transform="translate(9.399999999999999,822.0) rotate(-90)" text-anchor="middle" class="yl">Frequancy (THz)</text>
<clipPath id="c14"><rect x="255.6" y="745.0" width="196.79999999999998" height="157.74"/></clipPath>
<g clip-path="url(#c14)" fill="none" stroke-width="1.6" stroke-linejoin="round" stroke-linecap="round">
<path d="M255.6 888.4C259.5 887.8 271.2 885.6 279.0 884.5C286.8 883.4 294.1 882.8 302.4 881.8C310.7 880.8 319.9 879.8 328.6 878.8C337.3 877.8 346.7 875.9 354.8 875.9C362.9 876.0 369.7 878.7 377.1 879.2C384.5 879.7 391.3 878.4 399.4 878.8C407.5 879.2 417.1 880.2 425.9 881.8C434.7 883.4 448.0 887.3 452.4 888.4" stroke="#585858"/>
<path d="M255.6 888.4C259.5 887.2 271.2 883.1 279.0 880.9C286.8 878.8 294.1 876.7 302.4 875.6C310.7 874.6 319.9 874.8 328.6 874.8C337.3 874.8 346.7 875.1 354.8 875.6C362.9 876.2 369.7 877.6 377.1 878.2C384.5 878.8 391.3 878.8 399.4 879.2C407.5 879.7 417.1 879.4 425.9 880.9C434.7 882.5 448.0 887.2 452.4 888.4" stroke="#e8434a"/>
<path d="M255.6 888.4C257.6 887.4 263.4 884.4 267.3 882.7C271.2 881.0 273.1 879.7 279.0 878.2C284.9 876.7 294.1 874.4 302.4 873.8C310.7 873.1 319.9 874.0 328.6 874.2C337.3 874.4 346.7 874.8 354.8 874.8C362.9 874.7 369.7 873.9 377.1 873.8C384.5 873.7 391.3 874.0 399.4 874.2C407.5 874.4 419.7 874.3 425.9 874.8C432.1 875.2 432.1 874.7 436.5 876.9C440.9 879.2 449.8 886.5 452.4 888.4" stroke="#2470e0"/>
<path d="M255.6 870.3C259.5 870.5 271.2 870.9 279.0 871.2C286.8 871.5 294.1 871.8 302.4 872.1C310.7 872.3 319.9 873.0 328.6 872.9C337.3 872.9 346.7 871.9 354.8 871.8C362.9 871.6 369.7 872.1 377.1 872.1C384.5 872.0 391.3 871.3 399.4 871.2C407.5 871.0 417.1 871.3 425.9 871.2C434.7 871.0 448.0 870.5 452.4 870.3" stroke="#33a866"/>
<path d="M255.6 867.6C259.5 867.8 271.2 868.6 279.0 868.9C286.8 869.2 294.1 868.9 302.4 869.3C310.7 869.7 319.9 871.0 328.6 871.2C337.3 871.4 346.7 870.5 354.8 870.3C362.9 870.1 369.7 870.1 377.1 869.9C384.5 869.7 391.3 869.5 399.4 869.3C407.5 869.2 417.1 869.2 425.9 868.9C434.7 868.6 448.0 867.8 452.4 867.6" stroke="#b884ea"/>
<path d="M255.6 866.7C259.5 866.9 271.2 867.1 279.0 867.6C286.8 868.1 294.1 869.7 302.4 869.9C310.7 870.1 319.9 869.4 328.6 868.9C337.3 868.4 346.7 867.1 354.8 867.0C362.9 867.0 369.7 868.0 377.1 868.5C384.5 868.9 391.3 869.9 399.4 869.9C407.5 869.9 417.1 869.0 425.9 868.5C434.7 867.9 448.0 867.0 452.4 866.7" stroke="#d3a126"/>
<path d="M255.6 864.6C259.5 864.5 271.2 864.2 279.0 864.0C286.8 863.9 294.1 863.6 302.4 863.6C310.7 863.6 319.9 863.8 328.6 864.0C337.3 864.2 346.7 864.5 354.8 864.9C362.9 865.3 369.7 866.0 377.1 866.3C384.5 866.7 391.3 867.1 399.4 867.0C407.5 867.0 417.1 866.2 425.9 865.9C434.7 865.5 448.0 865.0 452.4 864.9" stroke="#22cccc"/>
<path d="M255.6 861.7C259.5 861.5 271.2 860.8 279.0 860.4C286.8 860.1 294.1 859.4 302.4 859.6C310.7 859.8 319.9 861.1 328.6 861.7C337.3 862.3 346.7 863.1 354.8 863.2C362.9 863.3 369.7 862.5 377.1 862.3C384.5 862.1 391.3 861.6 399.4 861.7C407.5 861.9 417.1 863.2 425.9 863.2C434.7 863.2 448.0 862.0 452.4 861.7" stroke="#885a5e"/>
<path d="M255.6 859.3C259.5 859.3 271.2 859.5 279.0 859.6C286.8 859.6 294.1 859.4 302.4 859.6C310.7 859.7 319.9 860.3 328.6 860.4C337.3 860.6 346.7 860.3 354.8 860.4C362.9 860.5 369.7 860.8 377.1 861.0C384.5 861.2 391.3 861.5 399.4 861.4C407.5 861.3 417.1 860.7 425.9 860.4C434.7 860.1 448.0 859.7 452.4 859.6" stroke="#9e9c18"/>
<path d="M255.6 858.7C259.5 858.6 271.2 858.3 279.0 858.1C286.8 858.0 294.1 857.9 302.4 857.9C310.7 857.8 319.9 857.9 328.6 857.9C337.3 857.8 346.7 857.3 354.8 857.4C362.9 857.6 369.7 858.4 377.1 858.7C384.5 859.1 391.3 859.7 399.4 859.6C407.5 859.4 417.1 858.2 425.9 857.9C434.7 857.5 448.0 857.5 452.4 857.4" stroke="#f26d12"/>
<path d="M255.6 857.4C259.5 857.4 271.2 857.1 279.0 857.0C286.8 856.9 294.1 857.2 302.4 857.0C310.7 856.8 319.9 856.2 328.6 856.0C337.3 855.8 346.7 856.0 354.8 856.0C362.9 855.9 369.7 855.8 377.1 855.7C384.5 855.6 391.3 855.1 399.4 855.1C407.5 855.1 417.1 855.6 425.9 855.7C434.7 855.8 448.0 855.9 452.4 856.0" stroke="#6d9dd8"/>
<path d="M255.6 856.0C259.5 855.8 271.2 855.0 279.0 854.7C286.8 854.4 294.1 854.3 302.4 854.3C310.7 854.2 319.9 854.3 328.6 854.3C337.3 854.3 346.7 854.3 354.8 854.3C362.9 854.3 369.7 854.3 377.1 854.3C384.5 854.2 391.3 854.0 399.4 854.0C407.5 854.0 417.1 854.2 425.9 854.3C434.7 854.4 448.0 854.6 452.4 854.7" stroke="#5fb50c"/>
<path d="M255.6 854.3C259.5 854.1 271.2 853.6 279.0 853.4C286.8 853.3 294.1 853.3 302.4 853.4C310.7 853.5 319.9 854.0 328.6 854.0C337.3 854.0 346.7 853.6 354.8 853.4C362.9 853.2 369.7 852.9 377.1 852.8C384.5 852.7 391.3 852.7 399.4 852.8C407.5 852.9 417.1 853.2 425.9 853.4C434.7 853.6 448.0 854.1 452.4 854.3" stroke="#585858"/>
<path d="M255.6 849.0C259.5 849.0 271.2 849.1 279.0 849.3C286.8 849.4 294.1 850.1 302.4 849.8C310.7 849.5 319.9 848.1 328.6 847.5C337.3 846.9 346.7 846.5 354.8 846.2C362.9 846.0 369.7 846.1 377.1 846.2C384.5 846.3 391.3 846.6 399.4 846.8C407.5 847.0 417.1 846.9 425.9 847.2C434.7 847.6 448.0 848.7 452.4 849.0" stroke="#e8434a"/>
<path d="M255.6 845.1C259.5 845.1 271.2 845.3 279.0 845.4C286.8 845.5 294.1 845.9 302.4 845.8C310.7 845.8 319.9 845.3 328.6 845.1C337.3 844.9 346.7 844.5 354.8 844.5C362.9 844.6 369.7 845.2 377.1 845.4C384.5 845.6 391.3 845.8 399.4 845.8C407.5 845.8 417.1 845.5 425.9 845.4C434.7 845.3 448.0 845.1 452.4 845.1" stroke="#2470e0"/>
<path d="M255.6 842.2C259.5 842.2 271.2 842.3 279.0 842.2C286.8 842.2 294.1 841.9 302.4 841.8C310.7 841.7 319.9 841.7 328.6 841.8C337.3 841.9 346.7 842.2 354.8 842.2C362.9 842.3 369.7 842.2 377.1 842.2C384.5 842.2 391.3 842.3 399.4 842.2C407.5 842.2 417.1 841.7 425.9 841.8C434.7 841.9 448.0 842.6 452.4 842.8" stroke="#33a866"/>
<path d="M255.6 840.9C259.5 840.8 271.2 840.5 279.0 840.4C286.8 840.2 294.1 840.1 302.4 840.1C310.7 840.0 319.9 840.1 328.6 840.1C337.3 840.0 346.7 839.7 354.8 839.6C362.9 839.6 369.7 839.6 377.1 839.6C384.5 839.7 391.3 840.0 399.4 840.1C407.5 840.1 417.1 839.9 425.9 840.1C434.7 840.2 448.0 840.8 452.4 840.9" stroke="#b884ea"/>
<path d="M255.6 838.4C259.5 838.4 271.2 838.5 279.0 838.6C286.8 838.8 294.1 839.1 302.4 839.2C310.7 839.3 319.9 839.4 328.6 839.2C337.3 839.1 346.7 838.5 354.8 838.4C362.9 838.2 369.7 838.4 377.1 838.4C384.5 838.4 391.3 838.4 399.4 838.4C407.5 838.4 417.1 838.3 425.9 838.4C434.7 838.4 448.0 838.6 452.4 838.6" stroke="#d3a126"/>
<path d="M255.6 836.5C259.5 836.5 271.2 836.5 279.0 836.5C286.8 836.5 294.1 836.5 302.4 836.5C310.7 836.4 319.9 836.3 328.6 836.2C337.3 836.1 346.7 836.1 354.8 835.6C362.9 835.2 369.7 833.9 377.1 833.3C384.5 832.7 391.3 831.9 399.4 832.0C407.5 832.1 417.1 833.2 425.9 833.9C434.7 834.6 448.0 836.1 452.4 836.5" stroke="#22cccc"/>
<path d="M255.6 828.5C259.5 828.4 271.2 828.2 279.0 828.0C286.8 827.9 294.1 827.7 302.4 827.6C310.7 827.5 319.9 827.6 328.6 827.3C337.3 827.0 346.7 826.1 354.8 825.9C362.9 825.7 369.7 826.0 377.1 826.2C384.5 826.3 391.3 826.5 399.4 826.7C407.5 827.0 417.1 827.3 425.9 827.6C434.7 827.9 448.0 828.3 452.4 828.5" stroke="#885a5e"/>
<path d="M255.6 825.9C259.5 825.9 271.2 825.9 279.0 825.9C286.8 825.8 294.1 825.7 302.4 825.4C310.7 825.2 319.9 824.7 328.6 824.4C337.3 824.2 346.7 824.0 354.8 824.0C362.9 824.0 369.7 824.4 377.1 824.4C384.5 824.5 391.3 824.4 399.4 824.4C407.5 824.4 417.1 824.2 425.9 824.4C434.7 824.7 448.0 825.6 452.4 825.9" stroke="#9e9c18"/>
<path d="M255.6 819.7C259.5 819.7 271.2 819.6 279.0 819.7C286.8 819.8 294.1 820.1 302.4 820.1C310.7 820.1 319.9 820.0 328.6 819.7C337.3 819.4 346.7 818.6 354.8 818.4C362.9 818.3 369.7 818.6 377.1 818.7C384.5 818.8 391.3 819.1 399.4 819.1C407.5 819.2 417.1 819.0 425.9 819.1C434.7 819.3 448.0 820.0 452.4 820.1" stroke="#f26d12"/>
<path d="M255.6 819.1C259.5 819.2 271.2 819.6 279.0 819.7C286.8 819.8 294.1 820.0 302.4 819.7C310.7 819.4 319.9 818.2 328.6 817.8C337.3 817.5 346.7 817.8 354.8 817.8C362.9 817.8 369.7 817.8 377.1 817.8C384.5 817.8 391.3 818.1 399.4 817.8C407.5 817.6 417.1 816.3 425.9 816.6C434.7 816.8 448.0 818.7 452.4 819.1" stroke="#6d9dd8"/>
<path d="M255.6 814.8C259.5 814.8 271.2 814.8 279.0 814.8C286.8 814.9 295.9 815.1 302.4 815.3C308.9 815.5 312.9 816.5 318.1 816.0C323.4 815.5 327.7 813.4 333.8 812.4C340.0 811.4 347.6 810.3 354.8 809.8C362.0 809.3 369.7 809.6 377.1 809.5C384.5 809.5 392.1 809.4 399.4 809.5C406.6 809.6 414.9 809.4 420.6 810.2C426.3 811.1 428.5 813.7 433.8 814.5C439.1 815.4 449.3 815.1 452.4 815.3" stroke="#5fb50c"/>
<path d="M255.6 809.5C259.5 809.5 271.2 809.5 279.0 809.5C286.8 809.6 294.1 809.8 302.4 809.8C310.7 809.9 319.9 809.9 328.6 809.8C337.3 809.8 346.7 809.6 354.8 809.5C362.9 809.5 369.7 809.5 377.1 809.5C384.5 809.5 391.3 809.5 399.4 809.5C407.5 809.5 417.1 809.5 425.9 809.5C434.7 809.5 448.0 809.5 452.4 809.5" stroke="#585858"/>
<path d="M255.6 805.4C259.5 805.4 271.2 805.4 279.0 805.4C286.8 805.4 294.1 805.2 302.4 805.4C310.7 805.6 319.9 806.2 328.6 806.7C337.3 807.2 346.7 808.1 354.8 808.4C362.9 808.6 369.7 808.2 377.1 808.1C384.5 808.0 391.3 807.9 399.4 807.7C407.5 807.4 417.1 807.0 425.9 806.7C434.7 806.3 448.0 805.6 452.4 805.4" stroke="#e8434a"/>
<path d="M255.6 780.0C259.5 780.0 271.2 780.0 279.0 780.0C286.8 780.0 294.1 780.0 302.4 780.0C310.7 780.0 319.9 779.9 328.6 780.0C337.3 780.1 346.7 780.5 354.8 780.6C362.9 780.7 369.7 780.7 377.1 780.6C384.5 780.5 391.3 780.1 399.4 780.0C407.5 779.9 417.1 780.0 425.9 780.0C434.7 780.0 448.0 780.0 452.4 780.0" stroke="#2470e0"/>
<path d="M255.6 778.3C259.5 777.8 271.2 775.8 279.0 775.3C286.8 774.8 294.1 775.3 302.4 775.3C310.7 775.3 319.9 775.4 328.6 775.3C337.3 775.2 346.7 774.6 354.8 774.7C362.9 774.8 369.7 775.4 377.1 775.7C384.5 776.0 391.3 776.2 399.4 776.4C407.5 776.6 417.1 776.7 425.9 777.0C434.7 777.3 448.0 778.1 452.4 778.3" stroke="#33a866"/>
<path d="M255.6 773.4C259.5 773.4 271.2 773.3 279.0 773.4C286.8 773.5 294.1 774.0 302.4 774.0C310.7 773.9 319.9 773.2 328.6 773.0C337.3 772.7 346.7 772.7 354.8 772.5C362.9 772.4 369.7 772.4 377.1 772.2C384.5 772.1 391.3 771.6 399.4 771.7C407.5 771.7 417.1 772.2 425.9 772.5C434.7 772.9 448.0 773.7 452.4 774.0" stroke="#b884ea"/>
<path d="M255.6 761.1C259.5 761.1 271.2 761.1 279.0 761.1C286.8 761.1 294.1 760.9 302.4 761.1C310.7 761.2 319.9 761.7 328.6 761.9C337.3 762.1 346.7 762.1 354.8 762.2C362.9 762.4 369.7 762.7 377.1 762.8C384.5 762.9 391.3 762.9 399.4 762.8C407.5 762.6 417.1 762.2 425.9 761.9C434.7 761.6 448.0 761.2 452.4 761.1" stroke="#d3a126"/>
</g>
<line x1="302.4" y1="745.0" x2="302.4" y2="902.74" stroke="#dcc4fc" stroke-width="1.1"/>
<line x1="302.4" y1="745.0" x2="302.4" y2="902.74" stroke="#8d3cf4" stroke-width="1.35" stroke-dasharray="1.05 1.05"/>
<line x1="354.8" y1="745.0" x2="354.8" y2="902.74" stroke="#dcc4fc" stroke-width="1.1"/>
<line x1="354.8" y1="745.0" x2="354.8" y2="902.74" stroke="#8d3cf4" stroke-width="1.35" stroke-dasharray="1.05 1.05"/>
<line x1="399.4" y1="745.0" x2="399.4" y2="902.74" stroke="#dcc4fc" stroke-width="1.1"/>
<line x1="399.4" y1="745.0" x2="399.4" y2="902.74" stroke="#8d3cf4" stroke-width="1.35" stroke-dasharray="1.05 1.05"/>
<line x1="257.05" y1="888.8" x2="452.4" y2="888.8" stroke="#000" stroke-width="2" stroke-dasharray="2 1.8"/>
<rect x="255.6" y="745.0" width="196.79999999999998" height="157.74" fill="none" stroke="#2a2a2a" stroke-width="1.25"/>
<line x1="255.6" y1="888.40" x2="259.0" y2="888.40" stroke="#2a2a2a" stroke-width="1"/>
<text x="252.0" y="891.10" text-anchor="end" class="tk">0</text>
<line x1="255.6" y1="874.06" x2="257.4" y2="874.06" stroke="#2a2a2a" stroke-width="0.9"/>
<line x1="255.6" y1="859.72" x2="259.0" y2="859.72" stroke="#2a2a2a" stroke-width="1"/>
<text x="252.0" y="862.42" text-anchor="end" class="tk">2</text>
<line x1="255.6" y1="845.38" x2="257.4" y2="845.38" stroke="#2a2a2a" stroke-width="0.9"/>
<line x1="255.6" y1="831.04" x2="259.0" y2="831.04" stroke="#2a2a2a" stroke-width="1"/>
<text x="252.0" y="833.74" text-anchor="end" class="tk">4</text>
<line x1="255.6" y1="816.70" x2="257.4" y2="816.70" stroke="#2a2a2a" stroke-width="0.9"/>
<line x1="255.6" y1="802.36" x2="259.0" y2="802.36" stroke="#2a2a2a" stroke-width="1"/>
<text x="252.0" y="805.06" text-anchor="end" class="tk">6</text>
<line x1="255.6" y1="788.02" x2="257.4" y2="788.02" stroke="#2a2a2a" stroke-width="0.9"/>
<line x1="255.6" y1="773.68" x2="259.0" y2="773.68" stroke="#2a2a2a" stroke-width="1"/>
<text x="252.0" y="776.38" text-anchor="end" class="tk">8</text>
<line x1="255.6" y1="759.34" x2="257.4" y2="759.34" stroke="#2a2a2a" stroke-width="0.9"/>
<line x1="255.6" y1="745.00" x2="259.0" y2="745.00" stroke="#2a2a2a" stroke-width="1"/>
<text x="252.0" y="747.70" text-anchor="end" class="tk">10</text>
<text transform="translate(257.9,910.84) scale(1.1,1)" text-anchor="middle" class="kl">G</text>
<text transform="translate(302.0,910.84) scale(1.1,1)" text-anchor="middle" class="kl">F</text>
<text transform="translate(354.3,910.84) scale(1.1,1)" text-anchor="middle" class="kl">Q</text>
<text transform="translate(398.4,910.84) scale(1.1,1)" text-anchor="middle" class="kl">Z</text>
<text transform="translate(449.2,910.84) scale(1.1,1)" text-anchor="middle" class="kl">G</text>
<text x="355.2" y="740.6" text-anchor="middle" class="tt">CsGeSe<tspan font-size="7.2" dy="2.3">3</tspan></text>
<text transform="translate(241.3,826.2) rotate(-90)" text-anchor="middle" class="yl">Frequancy (THz)</text>
<clipPath id="c15"><rect x="485.6" y="746.0" width="196.79999999999995" height="158.7299999999999"/></clipPath>
<g clip-path="url(#c15)" fill="none" stroke-width="1.6" stroke-linejoin="round" stroke-linecap="round">
<path d="M485.6 890.3C489.5 889.7 501.1 887.5 508.8 886.5C516.5 885.6 523.8 885.6 532.0 884.8C540.2 884.1 549.5 882.2 558.3 882.1C567.1 881.9 576.5 883.3 584.6 884.0C592.7 884.6 599.6 885.5 607.1 885.7C614.6 885.8 621.5 885.1 629.6 884.8C637.8 884.6 647.2 883.3 656.0 884.2C664.8 885.2 678.0 889.3 682.4 890.3" stroke="#585858"/>
<path d="M485.6 890.3C489.5 889.2 501.1 885.5 508.8 884.0C516.5 882.4 523.8 881.4 532.0 880.8C540.2 880.2 549.5 880.3 558.3 880.3C567.1 880.4 576.5 881.0 584.6 881.2C592.7 881.4 599.6 881.7 607.1 881.8C614.6 881.9 621.5 881.8 629.6 881.8C637.8 881.8 647.2 880.4 656.0 881.8C664.8 883.2 678.0 888.9 682.4 890.3" stroke="#e8434a"/>
<path d="M485.6 890.3C487.5 889.5 493.3 886.8 497.2 885.2C501.1 883.7 503.0 882.4 508.8 881.2C514.6 880.0 523.8 878.6 532.0 878.2C540.2 877.7 549.5 878.5 558.3 878.6C567.1 878.7 576.5 878.6 584.6 878.9C592.7 879.2 599.6 880.2 607.1 880.3C614.6 880.5 622.8 880.3 629.6 880.1C636.4 879.8 643.7 879.1 648.1 878.8C652.5 878.4 652.5 877.4 656.0 877.9C659.5 878.4 664.8 879.6 669.2 881.6C673.6 883.7 680.2 888.9 682.4 890.3" stroke="#2470e0"/>
<path d="M485.6 872.8C489.5 873.2 501.1 874.2 508.8 874.7C516.5 875.2 523.8 875.6 532.0 875.9C540.2 876.2 549.5 876.6 558.3 876.4C567.1 876.3 576.5 874.9 584.6 874.7C592.7 874.5 599.6 875.1 607.1 875.4C614.6 875.7 621.5 876.6 629.6 876.4C637.8 876.3 647.2 875.3 656.0 874.7C664.8 874.1 678.0 873.2 682.4 872.8" stroke="#33a866"/>
<path d="M485.6 871.1C489.5 871.7 501.1 874.1 508.8 874.7C516.5 875.3 523.8 875.0 532.0 874.7C540.2 874.5 549.5 873.7 558.3 873.3C567.1 872.9 576.5 872.7 584.6 872.4C592.7 872.1 599.6 871.9 607.1 871.5C614.6 871.2 621.5 870.1 629.6 870.5C637.8 871.0 647.2 874.0 656.0 874.1C664.8 874.2 678.0 871.6 682.4 871.1" stroke="#b884ea"/>
<path d="M485.6 870.1C489.5 870.2 501.1 870.3 508.8 870.5C516.5 870.8 523.8 871.4 532.0 871.5C540.2 871.6 549.5 871.3 558.3 871.1C567.1 870.9 576.5 870.5 584.6 870.5C592.7 870.5 599.6 870.9 607.1 871.1C614.6 871.3 621.5 871.8 629.6 871.8C637.8 871.9 647.2 871.8 656.0 871.5C664.8 871.3 678.0 870.3 682.4 870.1" stroke="#d3a126"/>
<path d="M485.6 868.8C489.5 868.8 501.1 868.7 508.8 868.8C516.5 868.9 523.8 869.2 532.0 869.4C540.2 869.6 549.5 869.9 558.3 870.1C567.1 870.3 576.5 870.5 584.6 870.5C592.7 870.5 599.6 870.2 607.1 870.1C614.6 870.0 621.5 869.7 629.6 869.7C637.8 869.6 647.2 869.8 656.0 869.7C664.8 869.5 678.0 868.9 682.4 868.8" stroke="#22cccc"/>
<path d="M485.6 865.8C489.5 865.8 501.1 866.0 508.8 866.2C516.5 866.4 523.8 866.8 532.0 867.1C540.2 867.4 549.5 867.7 558.3 867.9C567.1 868.1 576.5 868.2 584.6 868.2C592.7 868.2 599.6 868.0 607.1 867.9C614.6 867.8 621.5 867.8 629.6 867.6C637.8 867.5 647.2 867.4 656.0 867.1C664.8 866.8 678.0 866.0 682.4 865.8" stroke="#885a5e"/>
<path d="M485.6 866.2C489.5 866.2 501.1 866.2 508.8 866.2C516.5 866.2 523.8 866.5 532.0 866.5C540.2 866.5 549.5 866.6 558.3 866.2C567.1 865.8 576.5 864.6 584.6 864.3C592.7 864.1 599.6 864.6 607.1 864.8C614.6 864.9 621.5 865.2 629.6 865.3C637.8 865.5 647.2 865.6 656.0 865.8C664.8 865.9 678.0 866.1 682.4 866.2" stroke="#9e9c18"/>
<path d="M485.6 864.3C489.5 864.1 501.1 863.4 508.8 863.0C516.5 862.7 523.8 862.4 532.0 862.3C540.2 862.2 549.5 862.6 558.3 862.6C567.1 862.6 576.5 862.2 584.6 862.3C592.7 862.4 599.6 862.7 607.1 863.0C614.6 863.4 621.5 864.1 629.6 864.3C637.8 864.5 647.2 864.3 656.0 864.3C664.8 864.3 678.0 864.3 682.4 864.3" stroke="#f26d12"/>
<path d="M485.6 861.2C489.5 861.1 501.1 860.9 508.8 860.9C516.5 860.8 523.8 860.9 532.0 860.9C540.2 860.9 549.5 860.9 558.3 860.9C567.1 860.9 576.5 860.8 584.6 860.9C592.7 860.9 599.6 861.0 607.1 861.2C614.6 861.3 621.5 861.7 629.6 861.7C637.8 861.7 647.2 861.2 656.0 861.2C664.8 861.1 678.0 861.2 682.4 861.2" stroke="#6d9dd8"/>
<path d="M485.6 860.0C489.5 859.9 501.1 859.6 508.8 859.4C516.5 859.3 523.8 859.3 532.0 859.1C540.2 859.0 549.5 858.9 558.3 858.7C567.1 858.5 576.5 858.0 584.6 858.1C592.7 858.2 599.6 858.7 607.1 859.1C614.6 859.6 621.5 860.8 629.6 860.9C637.8 860.9 647.2 859.6 656.0 859.4C664.8 859.3 678.0 859.9 682.4 860.0" stroke="#5fb50c"/>
<path d="M485.6 859.1C489.5 859.1 501.1 859.2 508.8 859.1C516.5 859.1 523.8 859.0 532.0 858.7C540.2 858.4 549.5 857.7 558.3 857.3C567.1 856.8 576.5 855.8 584.6 855.8C592.7 855.8 599.6 856.9 607.1 857.3C614.6 857.6 621.5 858.1 629.6 858.1C637.8 858.1 647.2 857.1 656.0 857.3C664.8 857.4 678.0 858.8 682.4 859.1" stroke="#585858"/>
<path d="M485.6 855.8C489.5 855.8 501.1 855.6 508.8 855.5C516.5 855.4 523.8 855.2 532.0 855.1C540.2 854.9 549.5 854.8 558.3 854.7C567.1 854.5 576.5 854.1 584.6 854.1C592.7 854.1 599.6 854.5 607.1 854.7C614.6 854.8 621.5 854.9 629.6 855.1C637.8 855.2 647.2 855.4 656.0 855.5C664.8 855.6 678.0 855.8 682.4 855.8" stroke="#e8434a"/>
<path d="M485.6 852.8C489.5 852.9 501.1 853.3 508.8 853.4C516.5 853.5 523.8 853.5 532.0 853.4C540.2 853.3 549.5 853.0 558.3 852.8C567.1 852.6 576.5 852.3 584.6 852.3C592.7 852.3 599.6 852.6 607.1 852.8C614.6 853.0 621.5 853.3 629.6 853.4C637.8 853.5 647.2 853.5 656.0 853.4C664.8 853.3 678.0 852.9 682.4 852.8" stroke="#2470e0"/>
<path d="M485.6 848.7C489.5 848.7 501.1 848.8 508.8 848.7C516.5 848.7 523.8 848.3 532.0 848.5C540.2 848.6 549.5 849.5 558.3 849.9C567.1 850.3 576.5 850.9 584.6 851.1C592.7 851.2 599.6 851.1 607.1 851.1C614.6 851.1 621.5 851.2 629.6 851.1C637.8 850.9 647.2 850.3 656.0 849.9C664.8 849.5 678.0 848.9 682.4 848.7" stroke="#33a866"/>
<path d="M485.6 847.6C489.5 847.6 501.1 847.6 508.8 847.6C516.5 847.6 523.8 847.4 532.0 847.6C540.2 847.7 549.5 848.1 558.3 848.5C567.1 848.8 576.5 849.7 584.6 849.9C592.7 850.1 599.6 849.9 607.1 849.9C614.6 849.9 621.5 850.1 629.6 849.9C637.8 849.7 647.2 848.8 656.0 848.5C664.8 848.1 678.0 847.7 682.4 847.6" stroke="#b884ea"/>
<path d="M485.6 845.3C489.5 845.3 501.1 845.2 508.8 845.3C516.5 845.4 523.8 846.1 532.0 845.7C540.2 845.4 549.5 843.8 558.3 843.1C567.1 842.4 576.5 841.7 584.6 841.4C592.7 841.1 599.6 841.3 607.1 841.4C614.6 841.4 621.5 841.4 629.6 841.7C637.8 842.0 647.2 842.5 656.0 843.1C664.8 843.7 678.0 844.9 682.4 845.3" stroke="#d3a126"/>
<path d="M485.6 833.3C489.5 833.3 501.1 833.4 508.8 833.3C516.5 833.2 523.8 832.5 532.0 832.7C540.2 832.9 549.5 834.1 558.3 834.6C567.1 835.1 576.5 835.4 584.6 835.6C592.7 835.8 599.6 835.6 607.1 835.6C614.6 835.6 621.5 835.8 629.6 835.6C637.8 835.4 647.2 834.9 656.0 834.6C664.8 834.3 678.0 834.0 682.4 833.9" stroke="#22cccc"/>
<path d="M485.6 828.8C489.5 828.8 501.1 828.6 508.8 828.5C516.5 828.5 523.8 828.3 532.0 828.5C540.2 828.8 549.5 829.9 558.3 830.3C567.1 830.6 576.5 830.6 584.6 830.7C592.7 830.8 599.6 830.9 607.1 831.0C614.6 831.0 621.5 831.1 629.6 831.0C637.8 830.9 647.2 830.6 656.0 830.3C664.8 829.9 678.0 829.1 682.4 828.8" stroke="#885a5e"/>
<path d="M485.6 828.5C489.5 828.5 501.1 828.6 508.8 828.5C516.5 828.4 523.8 828.1 532.0 828.0C540.2 827.8 549.5 827.6 558.3 827.5C567.1 827.5 576.5 827.5 584.6 827.5C592.7 827.6 599.6 827.8 607.1 828.0C614.6 828.1 621.5 828.4 629.6 828.5C637.8 828.6 647.2 828.5 656.0 828.5C664.8 828.5 678.0 828.5 682.4 828.5" stroke="#9e9c18"/>
<path d="M485.6 816.1C489.5 816.0 501.1 815.6 508.8 815.6C516.5 815.5 523.8 815.5 532.0 815.6C540.2 815.6 549.5 816.0 558.3 816.1C567.1 816.3 576.5 816.4 584.6 816.4C592.7 816.5 599.6 816.4 607.1 816.4C614.6 816.4 621.5 816.5 629.6 816.4C637.8 816.4 647.2 816.2 656.0 816.1C664.8 816.1 678.0 816.1 682.4 816.1" stroke="#f26d12"/>
<path d="M485.6 811.5C489.5 811.5 501.1 811.6 508.8 811.5C516.5 811.4 523.8 811.2 532.0 811.1C540.2 811.0 549.5 811.1 558.3 811.1C567.1 811.1 576.5 811.1 584.6 811.1C592.7 811.1 599.6 811.1 607.1 811.1C614.6 811.1 621.5 811.1 629.6 811.1C637.8 811.1 647.2 811.0 656.0 811.1C664.8 811.2 678.0 811.4 682.4 811.5" stroke="#6d9dd8"/>
<path d="M485.6 809.8C489.5 809.7 501.1 809.4 508.8 809.3C516.5 809.3 523.8 809.7 532.0 809.3C540.2 809.0 549.5 807.9 558.3 807.2C567.1 806.4 576.5 805.3 584.6 804.9C592.7 804.5 599.6 804.9 607.1 804.9C614.6 804.9 621.5 804.4 629.6 804.9C637.8 805.3 647.2 806.8 656.0 807.6C664.8 808.4 678.0 809.4 682.4 809.8" stroke="#5fb50c"/>
<path d="M485.6 801.8C489.5 801.8 501.1 801.8 508.8 801.8C516.5 801.8 523.8 801.7 532.0 801.8C540.2 802.0 549.5 802.1 558.3 802.6C567.1 803.0 576.5 804.1 584.6 804.4C592.7 804.8 599.6 804.4 607.1 804.4C614.6 804.4 621.5 804.7 629.6 804.4C637.8 804.2 647.2 803.6 656.0 803.1C664.8 802.7 678.0 802.1 682.4 801.8" stroke="#585858"/>
<path d="M485.6 790.2C489.5 790.3 501.1 790.7 508.8 790.7C516.5 790.7 523.8 790.2 532.0 790.2C540.2 790.2 549.5 790.7 558.3 790.7C567.1 790.7 576.5 790.3 584.6 790.2C592.7 790.1 599.6 790.1 607.1 790.2C614.6 790.3 621.5 790.5 629.6 790.7C637.8 790.9 647.2 791.3 656.0 791.3C664.8 791.3 678.0 790.8 682.4 790.7" stroke="#e8434a"/>
<path d="M485.6 790.2C489.5 790.2 501.1 790.2 508.8 790.2C516.5 790.1 523.8 790.4 532.0 789.9C540.2 789.4 549.5 787.7 558.3 787.1C567.1 786.6 576.5 786.8 584.6 786.7C592.7 786.6 599.6 786.7 607.1 786.7C614.6 786.7 621.5 786.6 629.6 786.7C637.8 786.8 647.2 786.5 656.0 787.1C664.8 787.7 678.0 789.7 682.4 790.2" stroke="#2470e0"/>
<path d="M485.6 784.8C489.5 784.8 501.1 784.9 508.8 784.8C516.5 784.8 523.8 784.8 532.0 784.5C540.2 784.2 549.5 783.5 558.3 783.1C567.1 782.6 576.5 782.0 584.6 781.8C592.7 781.6 599.6 781.8 607.1 781.8C614.6 781.8 621.5 781.5 629.6 781.8C637.8 782.1 647.2 783.2 656.0 783.7C664.8 784.2 678.0 784.6 682.4 784.8" stroke="#33a866"/>
<path d="M485.6 780.1C489.5 780.1 501.1 780.1 508.8 780.1C516.5 780.1 523.8 779.9 532.0 780.1C540.2 780.2 549.5 780.8 558.3 780.9C567.1 781.1 576.5 780.8 584.6 780.9C592.7 781.0 599.6 781.3 607.1 781.4C614.6 781.4 621.5 781.4 629.6 781.4C637.8 781.4 647.2 781.4 656.0 781.4C664.8 781.4 678.0 781.4 682.4 781.4" stroke="#b884ea"/>
<path d="M485.6 779.5C489.5 779.4 501.1 779.3 508.8 778.9C516.5 778.5 523.8 777.3 532.0 777.0C540.2 776.7 549.5 777.0 558.3 777.0C567.1 777.0 576.5 777.0 584.6 777.0C592.7 777.0 599.6 777.0 607.1 777.0C614.6 777.1 621.5 777.2 629.6 777.5C637.8 777.7 647.2 777.9 656.0 778.3C664.8 778.8 678.0 779.8 682.4 780.1" stroke="#d3a126"/>
</g>
<line x1="532.0" y1="746.0" x2="532.0" y2="904.7299999999999" stroke="#dcc4fc" stroke-width="1.1"/>
<line x1="532.0" y1="746.0" x2="532.0" y2="904.7299999999999" stroke="#8d3cf4" stroke-width="1.35" stroke-dasharray="1.05 1.05"/>
<line x1="584.6" y1="746.0" x2="584.6" y2="904.7299999999999" stroke="#dcc4fc" stroke-width="1.1"/>
<line x1="584.6" y1="746.0" x2="584.6" y2="904.7299999999999" stroke="#8d3cf4" stroke-width="1.35" stroke-dasharray="1.05 1.05"/>
<line x1="629.6" y1="746.0" x2="629.6" y2="904.7299999999999" stroke="#dcc4fc" stroke-width="1.1"/>
<line x1="629.6" y1="746.0" x2="629.6" y2="904.7299999999999" stroke="#8d3cf4" stroke-width="1.35" stroke-dasharray="1.05 1.05"/>
<line x1="487.05" y1="890.6999999999999" x2="682.4" y2="890.6999999999999" stroke="#000" stroke-width="2" stroke-dasharray="2 1.8"/>
<rect x="485.6" y="746.0" width="196.79999999999995" height="158.7299999999999" fill="none" stroke="#2a2a2a" stroke-width="1.25"/>
<line x1="485.6" y1="890.30" x2="489.0" y2="890.30" stroke="#2a2a2a" stroke-width="1"/>
<text x="482.0" y="893.00" text-anchor="end" class="tk">0</text>
<line x1="485.6" y1="875.87" x2="487.40000000000003" y2="875.87" stroke="#2a2a2a" stroke-width="0.9"/>
<line x1="485.6" y1="861.44" x2="489.0" y2="861.44" stroke="#2a2a2a" stroke-width="1"/>
<text x="482.0" y="864.14" text-anchor="end" class="tk">2</text>
<line x1="485.6" y1="847.01" x2="487.40000000000003" y2="847.01" stroke="#2a2a2a" stroke-width="0.9"/>
<line x1="485.6" y1="832.58" x2="489.0" y2="832.58" stroke="#2a2a2a" stroke-width="1"/>
<text x="482.0" y="835.28" text-anchor="end" class="tk">4</text>
<line x1="485.6" y1="818.15" x2="487.40000000000003" y2="818.15" stroke="#2a2a2a" stroke-width="0.9"/>
<line x1="485.6" y1="803.72" x2="489.0" y2="803.72" stroke="#2a2a2a" stroke-width="1"/>
<text x="482.0" y="806.42" text-anchor="end" class="tk">6</text>
<line x1="485.6" y1="789.29" x2="487.40000000000003" y2="789.29" stroke="#2a2a2a" stroke-width="0.9"/>
<line x1="485.6" y1="774.86" x2="489.0" y2="774.86" stroke="#2a2a2a" stroke-width="1"/>
<text x="482.0" y="777.56" text-anchor="end" class="tk">8</text>
<line x1="485.6" y1="760.43" x2="487.40000000000003" y2="760.43" stroke="#2a2a2a" stroke-width="0.9"/>
<line x1="485.6" y1="746.00" x2="489.0" y2="746.00" stroke="#2a2a2a" stroke-width="1"/>
<text x="482.0" y="748.70" text-anchor="end" class="tk">10</text>
<text transform="translate(488.3,912.83) scale(1.1,1)" text-anchor="middle" class="kl">G</text>
<text transform="translate(531.5,912.83) scale(1.1,1)" text-anchor="middle" class="kl">F</text>
<text transform="translate(584.5,912.83) scale(1.1,1)" text-anchor="middle" class="kl">Q</text>
<text transform="translate(628.7,912.83) scale(1.1,1)" text-anchor="middle" class="kl">Z</text>
<text transform="translate(679.5,912.83) scale(1.1,1)" text-anchor="middle" class="kl">G</text>
<text x="585.0" y="741.85" text-anchor="middle" class="tt">CsSnSe<tspan font-size="7.2" dy="2.3">3</tspan></text>
<text transform="translate(471.3,827.7) rotate(-90)" text-anchor="middle" class="yl">Frequancy (THz)</text>
</svg>
</body></html>
